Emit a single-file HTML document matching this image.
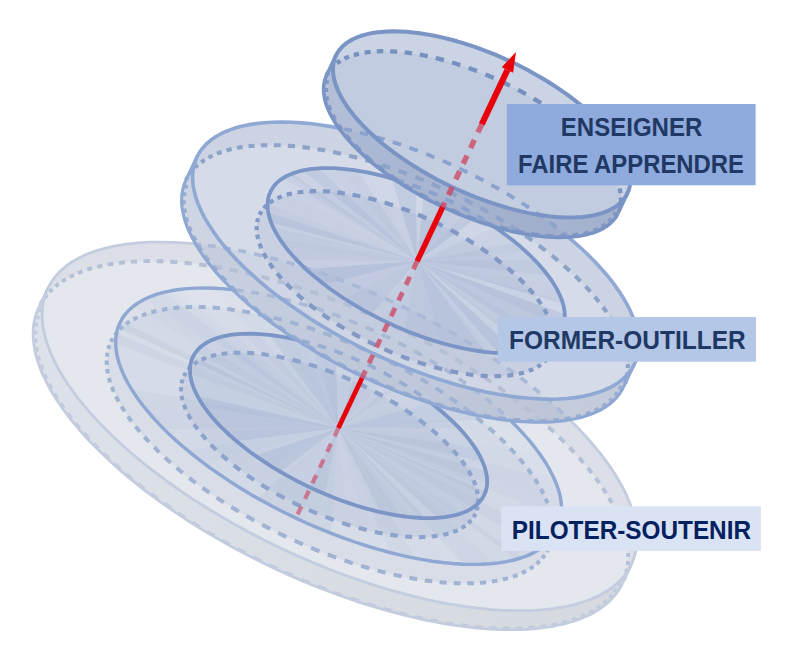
<!DOCTYPE html>
<html><head><meta charset="utf-8"><title>diagram</title>
<style>html,body{margin:0;padding:0;background:#fff;}body{width:799px;height:648px;overflow:hidden;font-family:"Liberation Sans",sans-serif;}svg{display:block}</style></head>
<body>
<svg width="799" height="648" viewBox="0 0 799 648">
<defs>
<path id="h1" d="M47.7 288.5 L49.3 285.3 L51.2 282.3 L53.2 279.3 L55.4 276.4 L57.8 273.7 L60.4 271.0 L63.1 268.5 L66.1 266.1 L69.3 263.7 L72.6 261.5 L76.1 259.4 L79.9 257.4 L83.7 255.6 L87.8 253.8 L92.0 252.2 L96.4 250.7 L101.0 249.3 L105.8 248.0 L110.6 246.8 L115.7 245.8 L120.9 244.9 L126.3 244.1 L131.8 243.5 L137.4 242.9 L143.2 242.5 L149.1 242.2 L155.2 242.1 L161.3 242.1 L167.6 242.2 L174.0 242.4 L180.6 242.7 L187.2 243.2 L193.9 243.8 L200.8 244.5 L207.7 245.4 L214.7 246.4 L221.9 247.5 L229.0 248.7 L236.3 250.0 L243.7 251.5 L251.1 253.1 L258.5 254.8 L266.0 256.6 L273.6 258.6 L281.2 260.6 L288.9 262.8 L296.6 265.1 L304.3 267.5 L312.0 270.0 L319.8 272.6 L327.6 275.3 L335.4 278.1 L343.2 281.0 L351.0 284.0 L358.7 287.1 L366.5 290.3 L374.2 293.6 L382.0 297.0 L389.7 300.5 L397.3 304.1 L404.9 307.7 L412.5 311.5 L420.0 315.3 L427.5 319.2 L434.9 323.1 L442.3 327.2 L449.5 331.3 L456.7 335.4 L463.9 339.7 L470.9 344.0 L477.8 348.3 L484.7 352.7 L491.4 357.1 L498.1 361.6 L504.6 366.2 L511.0 370.8 L517.3 375.4 L523.5 380.0 L529.6 384.7 L535.5 389.4 L541.3 394.2 L547.0 398.9 L552.5 403.7 L557.8 408.5 L563.1 413.3 L568.1 418.1 L573.0 423.0 L577.8 427.8 L582.4 432.6 L586.8 437.4 L591.0 442.3 L595.1 447.1 L599.0 451.8 L602.7 456.6 L606.3 461.4 L609.6 466.1 L612.8 470.8 L615.8 475.5 L618.6 480.1 L621.2 484.7 L623.6 489.2 L625.8 493.8 L627.9 498.2 L629.7 502.6 L631.3 507.0 L632.7 511.3 L634.0 515.6 L635.0 519.8 L635.8 523.9 L636.4 528.0 L636.8 532.0 L637.1 535.9 L637.1 539.7 L636.9 543.5 L636.5 547.2 L635.9 550.8 L635.1 554.3 L634.1 557.7 L632.8 561.1 L631.4 564.3 L622.5 583.3 L620.9 586.5 L619.1 589.5 L617.0 592.5 L614.8 595.3 L612.4 598.1 L609.8 600.7 L607.1 603.3 L604.1 605.7 L600.9 608.1 L597.6 610.3 L594.1 612.4 L590.3 614.4 L586.5 616.2 L582.4 618.0 L578.2 619.6 L573.8 621.1 L569.2 622.5 L564.5 623.8 L559.6 625.0 L554.5 626.0 L549.3 626.9 L543.9 627.7 L538.4 628.3 L532.8 628.9 L527.0 629.3 L521.1 629.6 L515.1 629.7 L508.9 629.7 L502.6 629.6 L496.2 629.4 L489.6 629.1 L483.0 628.6 L476.3 628.0 L469.4 627.2 L462.5 626.4 L455.5 625.4 L448.3 624.3 L441.2 623.1 L433.9 621.7 L426.5 620.3 L419.1 618.7 L411.7 617.0 L404.2 615.2 L396.6 613.2 L389.0 611.2 L381.3 609.0 L373.6 606.7 L365.9 604.3 L358.2 601.8 L350.4 599.2 L342.6 596.5 L334.8 593.7 L327.0 590.8 L319.3 587.8 L311.5 584.7 L303.7 581.5 L296.0 578.1 L288.2 574.8 L280.5 571.3 L272.9 567.7 L265.3 564.1 L257.7 560.3 L250.2 556.5 L242.7 552.6 L235.3 548.7 L227.9 544.6 L220.7 540.5 L213.5 536.4 L206.4 532.1 L199.3 527.8 L192.4 523.5 L185.5 519.1 L178.8 514.6 L172.1 510.2 L165.6 505.6 L159.2 501.0 L152.9 496.4 L146.7 491.8 L140.6 487.1 L134.7 482.4 L128.9 477.6 L123.2 472.9 L117.7 468.1 L112.4 463.3 L107.2 458.5 L102.1 453.6 L97.2 448.8 L92.4 444.0 L87.8 439.2 L83.4 434.4 L79.2 429.5 L75.1 424.7 L71.2 420.0 L67.5 415.2 L63.9 410.4 L60.6 405.7 L57.4 401.0 L54.4 396.3 L51.6 391.7 L49.0 387.1 L46.6 382.5 L44.4 378.0 L42.3 373.6 L40.5 369.1 L38.9 364.8 L37.5 360.5 L36.2 356.2 L35.2 352.0 L34.4 347.9 L33.8 343.8 L33.4 339.8 L33.1 335.9 L33.1 332.1 L33.3 328.3 L33.7 324.6 L34.3 321.0 L35.1 317.5 L36.1 314.1 L37.4 310.7 L38.8 307.5Z"/>
<path id="h2" d="M196.8 157.2 L198.0 154.8 L199.4 152.5 L200.9 150.3 L202.6 148.1 L204.4 146.0 L206.3 144.0 L208.4 142.1 L210.6 140.3 L213.0 138.5 L215.5 136.9 L218.2 135.3 L221.0 133.8 L223.9 132.3 L226.9 131.0 L230.1 129.8 L233.4 128.6 L236.9 127.6 L240.4 126.6 L244.1 125.7 L247.9 124.9 L251.8 124.2 L255.8 123.6 L260.0 123.1 L264.2 122.7 L268.5 122.4 L273.0 122.2 L277.5 122.1 L282.1 122.0 L286.9 122.1 L291.7 122.3 L296.6 122.5 L301.6 122.9 L306.6 123.3 L311.8 123.8 L317.0 124.5 L322.2 125.2 L327.6 126.0 L333.0 126.9 L338.4 127.9 L343.9 129.0 L349.5 130.2 L355.1 131.5 L360.7 132.8 L366.4 134.3 L372.1 135.8 L377.8 137.4 L383.6 139.1 L389.4 140.9 L395.2 142.8 L401.0 144.7 L406.9 146.8 L412.7 148.9 L418.5 151.1 L424.4 153.3 L430.2 155.6 L436.0 158.1 L441.8 160.5 L447.6 163.1 L453.4 165.7 L459.1 168.4 L464.9 171.1 L470.5 173.9 L476.2 176.8 L481.8 179.7 L487.3 182.6 L492.8 185.7 L498.3 188.7 L503.7 191.9 L509.0 195.0 L514.3 198.3 L519.5 201.5 L524.6 204.8 L529.7 208.2 L534.7 211.5 L539.6 214.9 L544.4 218.4 L549.1 221.9 L553.7 225.4 L558.3 228.9 L562.7 232.4 L567.1 236.0 L571.3 239.6 L575.4 243.1 L579.4 246.7 L583.3 250.4 L587.1 254.0 L590.8 257.6 L594.4 261.2 L597.8 264.9 L601.1 268.5 L604.3 272.1 L607.3 275.7 L610.3 279.3 L613.0 282.9 L615.7 286.5 L618.2 290.0 L620.6 293.6 L622.8 297.1 L624.9 300.6 L626.9 304.0 L628.7 307.5 L630.3 310.9 L631.8 314.2 L633.2 317.5 L634.4 320.8 L635.5 324.1 L636.4 327.3 L637.2 330.4 L637.8 333.5 L638.2 336.6 L638.5 339.6 L638.7 342.6 L638.7 345.5 L638.5 348.3 L638.2 351.1 L637.8 353.8 L637.1 356.4 L636.4 359.0 L635.5 361.5 L634.4 364.0 L623.5 387.1 L622.3 389.4 L620.9 391.7 L619.4 394.0 L617.8 396.1 L616.0 398.2 L614.0 400.2 L611.9 402.1 L609.7 404.0 L607.3 405.7 L604.8 407.4 L602.1 409.0 L599.4 410.5 L596.4 411.9 L593.4 413.2 L590.2 414.5 L586.9 415.6 L583.5 416.7 L579.9 417.7 L576.2 418.5 L572.4 419.3 L568.5 420.0 L564.5 420.6 L560.4 421.1 L556.1 421.5 L551.8 421.8 L547.4 422.1 L542.8 422.2 L538.2 422.2 L533.5 422.2 L528.7 422.0 L523.8 421.7 L518.8 421.4 L513.7 421.0 L508.6 420.4 L503.4 419.8 L498.1 419.1 L492.8 418.2 L487.4 417.3 L481.9 416.3 L476.4 415.2 L470.9 414.1 L465.3 412.8 L459.6 411.4 L453.9 410.0 L448.2 408.5 L442.5 406.8 L436.7 405.1 L430.9 403.3 L425.1 401.5 L419.3 399.5 L413.5 397.5 L407.6 395.4 L401.8 393.2 L395.9 390.9 L390.1 388.6 L384.3 386.2 L378.5 383.7 L372.7 381.2 L366.9 378.6 L361.2 375.9 L355.5 373.2 L349.8 370.4 L344.2 367.5 L338.6 364.6 L333.0 361.6 L327.5 358.6 L322.0 355.5 L316.6 352.4 L311.3 349.2 L306.0 346.0 L300.8 342.7 L295.7 339.4 L290.6 336.1 L285.7 332.7 L280.8 329.3 L276.0 325.9 L271.2 322.4 L266.6 318.9 L262.1 315.4 L257.6 311.8 L253.3 308.3 L249.0 304.7 L244.9 301.1 L240.9 297.5 L237.0 293.9 L233.2 290.3 L229.5 286.7 L226.0 283.0 L222.5 279.4 L219.2 275.8 L216.0 272.2 L213.0 268.5 L210.1 264.9 L207.3 261.4 L204.6 257.8 L202.1 254.2 L199.7 250.7 L197.5 247.2 L195.4 243.7 L193.5 240.2 L191.7 236.8 L190.0 233.4 L188.5 230.0 L187.1 226.7 L185.9 223.4 L184.9 220.2 L183.9 217.0 L183.2 213.8 L182.6 210.7 L182.1 207.7 L181.8 204.7 L181.7 201.7 L181.7 198.8 L181.8 196.0 L182.1 193.2 L182.6 190.5 L183.2 187.8 L183.9 185.2 L184.9 182.7 L185.9 180.3Z"/>
<path id="h3" d="M335.9 55.5 L336.8 53.9 L337.7 52.3 L338.7 50.8 L339.8 49.4 L341.0 47.9 L342.4 46.6 L343.8 45.3 L345.3 44.0 L346.9 42.8 L348.5 41.7 L350.3 40.6 L352.2 39.5 L354.2 38.6 L356.2 37.7 L358.3 36.8 L360.6 36.0 L362.9 35.3 L365.2 34.6 L367.7 34.0 L370.2 33.4 L372.9 33.0 L375.5 32.5 L378.3 32.2 L381.1 31.9 L384.0 31.6 L387.0 31.5 L390.0 31.4 L393.1 31.3 L396.3 31.3 L399.5 31.4 L402.8 31.6 L406.1 31.8 L409.5 32.1 L412.9 32.4 L416.4 32.8 L419.9 33.3 L423.5 33.8 L427.1 34.4 L430.7 35.0 L434.4 35.7 L438.1 36.5 L441.8 37.3 L445.6 38.2 L449.4 39.2 L453.2 40.2 L457.0 41.3 L460.9 42.4 L464.7 43.6 L468.6 44.8 L472.5 46.1 L476.4 47.4 L480.3 48.8 L484.2 50.3 L488.1 51.8 L492.0 53.3 L495.8 54.9 L499.7 56.6 L503.6 58.3 L507.4 60.0 L511.2 61.8 L515.0 63.6 L518.8 65.5 L522.6 67.4 L526.3 69.3 L530.0 71.3 L533.7 73.3 L537.3 75.4 L540.9 77.5 L544.4 79.6 L547.9 81.7 L551.4 83.9 L554.8 86.1 L558.2 88.4 L561.5 90.6 L564.8 92.9 L568.0 95.2 L571.1 97.5 L574.2 99.9 L577.2 102.2 L580.1 104.6 L583.0 107.0 L585.8 109.4 L588.6 111.8 L591.3 114.2 L593.8 116.7 L596.4 119.1 L598.8 121.5 L601.2 124.0 L603.4 126.4 L605.6 128.8 L607.7 131.3 L609.8 133.7 L611.7 136.1 L613.5 138.5 L615.3 140.9 L617.0 143.3 L618.5 145.7 L620.0 148.1 L621.4 150.4 L622.7 152.7 L623.9 155.1 L625.0 157.3 L625.9 159.6 L626.8 161.9 L627.6 164.1 L628.3 166.3 L628.9 168.4 L629.4 170.6 L629.8 172.7 L630.1 174.7 L630.3 176.8 L630.4 178.8 L630.4 180.7 L630.3 182.6 L630.0 184.5 L629.7 186.4 L629.3 188.1 L628.8 189.9 L628.1 191.6 L627.4 193.3 L618.0 213.2 L617.2 214.8 L616.3 216.4 L615.3 217.9 L614.1 219.3 L612.9 220.8 L611.6 222.1 L610.2 223.4 L608.7 224.7 L607.1 225.9 L605.4 227.0 L603.6 228.1 L601.8 229.1 L599.8 230.1 L597.8 231.0 L595.6 231.9 L593.4 232.7 L591.1 233.4 L588.7 234.1 L586.3 234.7 L583.7 235.2 L581.1 235.7 L578.4 236.2 L575.7 236.5 L572.8 236.8 L569.9 237.1 L567.0 237.2 L563.9 237.3 L560.8 237.4 L557.7 237.4 L554.4 237.3 L551.2 237.1 L547.8 236.9 L544.5 236.6 L541.0 236.3 L537.6 235.9 L534.0 235.4 L530.5 234.9 L526.9 234.3 L523.2 233.7 L519.6 233.0 L515.9 232.2 L512.1 231.4 L508.4 230.5 L504.6 229.5 L500.8 228.5 L496.9 227.4 L493.1 226.3 L489.2 225.1 L485.3 223.9 L481.5 222.6 L477.6 221.3 L473.7 219.9 L469.8 218.4 L465.9 216.9 L462.0 215.4 L458.1 213.8 L454.3 212.1 L450.4 210.4 L446.6 208.7 L442.7 206.9 L438.9 205.1 L435.1 203.2 L431.4 201.3 L427.7 199.4 L424.0 197.4 L420.3 195.4 L416.7 193.3 L413.1 191.2 L409.5 189.1 L406.0 186.9 L402.6 184.8 L399.1 182.6 L395.8 180.3 L392.5 178.1 L389.2 175.8 L386.0 173.5 L382.9 171.2 L379.8 168.8 L376.8 166.5 L373.8 164.1 L370.9 161.7 L368.1 159.3 L365.4 156.9 L362.7 154.5 L360.1 152.0 L357.6 149.6 L355.2 147.2 L352.8 144.7 L350.5 142.3 L348.3 139.9 L346.2 137.4 L344.2 135.0 L342.3 132.6 L340.4 130.2 L338.7 127.8 L337.0 125.4 L335.4 123.0 L334.0 120.6 L332.6 118.3 L331.3 116.0 L330.1 113.6 L329.0 111.4 L328.0 109.1 L327.1 106.8 L326.3 104.6 L325.6 102.4 L325.0 100.3 L324.5 98.1 L324.2 96.0 L323.9 94.0 L323.7 91.9 L323.6 89.9 L323.6 88.0 L323.7 86.1 L323.9 84.2 L324.3 82.3 L324.7 80.5 L325.2 78.8 L325.8 77.1 L326.5 75.4Z"/>
<clipPath id="in3"><use href="#h3"/></clipPath>
<clipPath id="in23"><use href="#h2"/><use href="#h3"/></clipPath>
<mask id="out3" maskUnits="userSpaceOnUse" x="0" y="0" width="799" height="648"><rect width="799" height="648" fill="#fff"/><use href="#h3" fill="#000"/></mask>
<mask id="out23" maskUnits="userSpaceOnUse" x="0" y="0" width="799" height="648"><rect width="799" height="648" fill="#fff"/><use href="#h2" fill="#000"/><use href="#h3" fill="#000"/></mask>
<clipPath id="c_t1o"><path d="M631.4 564.4 L628.0 570.6 L623.8 576.4 L618.8 581.8 L613.0 586.8 L606.5 591.3 L599.3 595.4 L591.3 599.0 L582.7 602.2 L573.4 604.8 L563.4 607.0 L552.9 608.7 L541.7 609.9 L530.0 610.6 L517.8 610.7 L505.1 610.4 L491.9 609.6 L478.3 608.2 L464.4 606.4 L450.1 604.1 L435.4 601.3 L420.6 598.0 L405.5 594.2 L390.2 590.0 L374.8 585.3 L359.3 580.2 L343.7 574.7 L328.1 568.8 L312.6 562.4 L297.1 555.7 L281.8 548.7 L266.6 541.3 L251.6 533.6 L236.8 525.6 L222.4 517.3 L208.2 508.8 L194.4 500.1 L181.0 491.1 L168.1 482.0 L155.6 472.7 L143.6 463.3 L132.2 453.8 L121.3 444.2 L111.0 434.6 L101.4 425.0 L92.4 415.3 L84.0 405.7 L76.4 396.1 L69.5 386.7 L63.3 377.3 L57.9 368.1 L53.3 359.0 L49.5 350.1 L46.4 341.4 L44.2 333.0 L42.7 324.8 L42.1 316.9 L42.3 309.3 L43.3 302.0 L45.1 295.0 L47.7 288.4 L51.2 282.2 L55.4 276.4 L60.4 271.0 L66.1 266.0 L72.7 261.5 L79.9 257.4 L87.8 253.8 L96.5 250.6 L105.8 248.0 L115.7 245.8 L126.3 244.1 L137.5 242.9 L149.2 242.2 L161.4 242.1 L174.1 242.4 L187.3 243.2 L200.8 244.6 L214.8 246.4 L229.1 248.7 L243.7 251.5 L258.6 254.8 L273.7 258.6 L289.0 262.8 L304.4 267.5 L319.9 272.6 L335.4 278.1 L351.0 284.0 L366.6 290.4 L382.0 297.1 L397.4 304.1 L412.6 311.5 L427.6 319.2 L442.3 327.2 L456.8 335.5 L470.9 344.0 L484.7 352.7 L498.1 361.7 L511.1 370.8 L523.6 380.1 L535.6 389.5 L547.0 399.0 L557.9 408.6 L568.2 418.2 L577.8 427.8 L586.8 437.5 L595.1 447.1 L602.8 456.7 L609.7 466.1 L615.8 475.5 L621.2 484.7 L625.9 493.8 L629.7 502.7 L632.8 511.4 L635.0 519.8 L636.4 528.0 L637.1 535.9 L636.9 543.5 L635.9 550.8 L634.0 557.8 L631.4 564.4Z"/></clipPath>
<clipPath id="c_t1m"><path d="M557.5 529.6 L554.9 534.3 L551.7 538.6 L548.0 542.7 L543.7 546.4 L538.8 549.8 L533.4 552.9 L527.4 555.6 L520.9 558.0 L514.0 560.0 L506.5 561.6 L498.6 562.9 L490.2 563.8 L481.4 564.3 L472.3 564.4 L462.8 564.2 L452.9 563.5 L442.7 562.5 L432.2 561.2 L421.5 559.4 L410.6 557.3 L399.4 554.8 L388.1 552.0 L376.6 548.8 L365.1 545.3 L353.5 541.5 L341.8 537.4 L330.1 532.9 L318.5 528.2 L306.9 523.2 L295.4 517.9 L284.0 512.3 L272.7 506.6 L261.7 500.6 L250.8 494.4 L240.2 488.0 L229.9 481.4 L219.8 474.7 L210.1 467.9 L200.7 460.9 L191.8 453.9 L183.2 446.8 L175.0 439.6 L167.3 432.4 L160.1 425.1 L153.3 417.9 L147.1 410.7 L141.4 403.5 L136.2 396.4 L131.6 389.4 L127.5 382.5 L124.1 375.7 L121.2 369.0 L118.9 362.5 L117.2 356.2 L116.1 350.0 L115.7 344.1 L115.8 338.4 L116.6 332.9 L117.9 327.7 L119.9 322.8 L122.5 318.1 L125.6 313.8 L129.4 309.7 L133.7 306.0 L138.6 302.6 L144.0 299.5 L150.0 296.8 L156.4 294.4 L163.4 292.4 L170.9 290.8 L178.8 289.5 L187.2 288.6 L195.9 288.1 L205.1 288.0 L214.6 288.2 L224.5 288.9 L234.7 289.9 L245.1 291.2 L255.9 293.0 L266.8 295.1 L278.0 297.6 L289.3 300.4 L300.7 303.6 L312.3 307.1 L323.9 310.9 L335.6 315.0 L347.3 319.5 L358.9 324.2 L370.5 329.2 L382.0 334.5 L393.4 340.1 L404.7 345.8 L415.7 351.8 L426.6 358.0 L437.2 364.4 L447.5 371.0 L457.5 377.7 L467.3 384.5 L476.6 391.5 L485.6 398.5 L494.2 405.6 L502.3 412.8 L510.0 420.0 L517.3 427.3 L524.0 434.5 L530.3 441.7 L536.0 448.9 L541.2 456.0 L545.8 463.0 L549.8 469.9 L553.3 476.7 L556.2 483.4 L558.5 489.9 L560.2 496.2 L561.2 502.4 L561.7 508.3 L561.6 514.0 L560.8 519.5 L559.4 524.7 L557.5 529.6Z"/></clipPath>
<clipPath id="c_t1i"><path d="M484.3 494.8 L482.6 497.9 L480.5 500.8 L478.0 503.5 L475.1 506.0 L471.9 508.3 L468.2 510.4 L464.3 512.2 L459.9 513.8 L455.3 515.1 L450.3 516.2 L445.0 517.1 L439.5 517.7 L433.6 518.0 L427.5 518.1 L421.1 518.0 L414.6 517.5 L407.8 516.9 L400.8 516.0 L393.7 514.8 L386.4 513.4 L378.9 511.8 L371.4 509.9 L363.8 507.8 L356.1 505.5 L348.3 502.9 L340.5 500.2 L332.8 497.2 L325.0 494.1 L317.3 490.7 L309.6 487.2 L302.0 483.5 L294.5 479.7 L287.2 475.7 L279.9 471.5 L272.9 467.3 L266.0 462.9 L259.3 458.4 L252.8 453.9 L246.6 449.2 L240.6 444.5 L234.9 439.8 L229.5 435.0 L224.4 430.2 L219.5 425.4 L215.0 420.5 L210.9 415.7 L207.1 410.9 L203.6 406.2 L200.6 401.5 L197.9 396.9 L195.6 392.3 L193.7 387.9 L192.1 383.6 L191.0 379.3 L190.3 375.2 L190.0 371.3 L190.1 367.4 L190.6 363.8 L191.5 360.3 L192.8 357.0 L194.6 353.9 L196.7 351.0 L199.2 348.3 L202.1 345.8 L205.3 343.5 L208.9 341.4 L212.9 339.6 L217.2 338.0 L221.9 336.7 L226.9 335.6 L232.1 334.7 L237.7 334.1 L243.6 333.8 L249.7 333.7 L256.0 333.8 L262.6 334.3 L269.4 334.9 L276.4 335.8 L283.5 337.0 L290.8 338.4 L298.2 340.0 L305.8 341.9 L313.4 344.0 L321.1 346.3 L328.9 348.9 L336.6 351.6 L344.4 354.6 L352.2 357.7 L359.9 361.1 L367.6 364.6 L375.1 368.3 L382.6 372.1 L390.0 376.1 L397.2 380.3 L404.3 384.5 L411.2 388.9 L417.9 393.4 L424.3 397.9 L430.6 402.6 L436.5 407.3 L442.3 412.0 L447.7 416.8 L452.8 421.6 L457.6 426.4 L462.1 431.3 L466.3 436.1 L470.1 440.9 L473.5 445.6 L476.6 450.3 L479.3 454.9 L481.6 459.5 L483.5 463.9 L485.0 468.2 L486.1 472.5 L486.9 476.6 L487.2 480.5 L487.1 484.4 L486.6 488.0 L485.6 491.5 L484.3 494.8Z"/></clipPath>
<clipPath id="c_t2o"><path d="M634.4 364.0 L631.8 368.7 L628.6 373.1 L624.9 377.2 L620.6 380.9 L615.7 384.4 L610.2 387.5 L604.2 390.2 L597.8 392.6 L590.8 394.6 L583.3 396.3 L575.4 397.6 L567.0 398.5 L558.2 399.0 L549.0 399.2 L539.5 398.9 L529.6 398.3 L519.4 397.4 L508.9 396.0 L498.2 394.3 L487.3 392.2 L476.1 389.7 L464.8 386.9 L453.3 383.8 L441.8 380.3 L430.1 376.4 L418.5 372.3 L406.8 367.9 L395.1 363.1 L383.5 358.1 L372.0 352.8 L360.6 347.3 L349.4 341.5 L338.3 335.5 L327.5 329.3 L316.9 322.9 L306.5 316.3 L296.5 309.6 L286.8 302.8 L277.4 295.8 L268.5 288.8 L259.9 281.6 L251.7 274.4 L244.0 267.2 L236.8 259.9 L230.1 252.7 L223.8 245.5 L218.1 238.3 L213.0 231.1 L208.4 224.1 L204.3 217.1 L200.9 210.3 L198.0 203.6 L195.7 197.1 L194.1 190.7 L193.0 184.6 L192.5 178.6 L192.7 172.9 L193.5 167.4 L194.8 162.1 L196.8 157.2 L199.4 152.5 L202.6 148.1 L206.3 144.0 L210.7 140.3 L215.6 136.8 L221.0 133.7 L227.0 131.0 L233.5 128.6 L240.5 126.6 L247.9 124.9 L255.9 123.6 L264.2 122.7 L273.0 122.2 L282.2 122.0 L291.7 122.3 L301.6 122.9 L311.8 123.8 L322.3 125.2 L333.0 126.9 L344.0 129.0 L355.1 131.5 L366.4 134.3 L377.9 137.4 L389.5 140.9 L401.1 144.8 L412.8 148.9 L424.4 153.3 L436.1 158.1 L447.7 163.1 L459.2 168.4 L470.6 173.9 L481.8 179.7 L492.9 185.7 L503.7 191.9 L514.3 198.3 L524.7 204.9 L534.7 211.6 L544.4 218.4 L553.8 225.4 L562.8 232.4 L571.3 239.6 L579.5 246.8 L587.2 254.0 L594.4 261.3 L601.1 268.5 L607.4 275.7 L613.1 282.9 L618.2 290.1 L622.8 297.1 L626.9 304.1 L630.3 310.9 L633.2 317.6 L635.5 324.1 L637.2 330.5 L638.2 336.6 L638.7 342.6 L638.5 348.3 L637.8 353.8 L636.4 359.1 L634.4 364.0Z"/></clipPath>
<clipPath id="c_t2i"><path d="M561.9 329.5 L560.2 332.6 L558.1 335.6 L555.6 338.3 L552.7 340.8 L549.4 343.1 L545.8 345.2 L541.8 347.0 L537.5 348.6 L532.8 350.0 L527.8 351.1 L522.5 352.0 L517.0 352.6 L511.1 353.0 L505.0 353.1 L498.6 353.0 L492.0 352.6 L485.2 351.9 L478.3 351.0 L471.1 349.9 L463.8 348.5 L456.4 346.9 L448.8 345.0 L441.2 342.9 L433.5 340.6 L425.7 338.1 L418.0 335.3 L410.2 332.4 L402.4 329.2 L394.7 325.9 L387.0 322.3 L379.4 318.6 L372.0 314.8 L364.6 310.8 L357.4 306.7 L350.3 302.4 L343.4 298.0 L336.7 293.5 L330.3 289.0 L324.0 284.3 L318.1 279.6 L312.4 274.9 L306.9 270.1 L301.8 265.2 L297.0 260.4 L292.5 255.5 L288.4 250.7 L284.6 245.9 L281.2 241.2 L278.1 236.4 L275.4 231.8 L273.1 227.2 L271.2 222.8 L269.7 218.4 L268.6 214.2 L267.9 210.0 L267.6 206.1 L267.7 202.2 L268.2 198.5 L269.1 195.0 L270.5 191.7 L272.2 188.6 L274.3 185.6 L276.8 182.9 L279.7 180.4 L283.0 178.1 L286.6 176.0 L290.6 174.2 L294.9 172.6 L299.6 171.2 L304.6 170.1 L309.9 169.2 L315.5 168.6 L321.3 168.2 L327.4 168.1 L333.8 168.2 L340.4 168.6 L347.2 169.3 L354.2 170.2 L361.3 171.3 L368.6 172.7 L376.0 174.3 L383.6 176.2 L391.2 178.3 L398.9 180.6 L406.7 183.1 L414.5 185.9 L422.2 188.8 L430.0 192.0 L437.7 195.3 L445.4 198.9 L453.0 202.6 L460.5 206.4 L467.8 210.4 L475.1 214.5 L482.1 218.8 L489.0 223.2 L495.7 227.7 L502.1 232.2 L508.4 236.9 L514.4 241.6 L520.1 246.3 L525.5 251.1 L530.6 256.0 L535.4 260.8 L539.9 265.7 L544.0 270.5 L547.8 275.3 L551.3 280.0 L554.3 284.8 L557.0 289.4 L559.3 294.0 L561.2 298.4 L562.7 302.8 L563.8 307.0 L564.5 311.2 L564.8 315.1 L564.7 319.0 L564.2 322.7 L563.3 326.2 L561.9 329.5Z"/></clipPath>
<clipPath id="c_t3"><path d="M627.4 193.3 L625.7 196.5 L623.5 199.5 L621.0 202.2 L618.1 204.8 L614.8 207.1 L611.1 209.3 L607.1 211.1 L602.8 212.8 L598.1 214.2 L593.1 215.4 L587.8 216.3 L582.2 216.9 L576.3 217.3 L570.2 217.5 L563.8 217.4 L557.2 217.0 L550.4 216.4 L543.4 215.5 L536.2 214.4 L528.9 213.1 L521.5 211.4 L513.9 209.6 L506.3 207.5 L498.6 205.2 L490.8 202.7 L483.0 199.9 L475.3 197.0 L467.5 193.9 L459.8 190.5 L452.1 187.0 L444.5 183.3 L437.0 179.5 L429.7 175.4 L422.4 171.3 L415.4 167.0 L408.5 162.6 L401.8 158.1 L395.4 153.6 L389.2 148.9 L383.2 144.2 L377.5 139.4 L372.1 134.5 L367.0 129.7 L362.2 124.8 L357.7 119.9 L353.6 115.1 L349.8 110.3 L346.4 105.5 L343.3 100.7 L340.7 96.0 L338.4 91.4 L336.5 86.9 L335.0 82.5 L333.9 78.2 L333.2 74.1 L333.0 70.0 L333.1 66.2 L333.6 62.4 L334.6 58.9 L335.9 55.5 L337.7 52.3 L339.8 49.3 L342.4 46.6 L345.3 44.0 L348.6 41.7 L352.2 39.5 L356.2 37.7 L360.6 36.0 L365.3 34.6 L370.3 33.4 L375.6 32.5 L381.2 31.9 L387.0 31.5 L393.2 31.3 L399.5 31.4 L406.1 31.8 L413.0 32.4 L420.0 33.3 L427.1 34.4 L434.4 35.7 L441.9 37.4 L449.4 39.2 L457.1 41.3 L464.8 43.6 L472.5 46.1 L480.3 48.9 L488.1 51.8 L495.9 54.9 L503.6 58.3 L511.3 61.8 L518.9 65.5 L526.3 69.3 L533.7 73.4 L540.9 77.5 L548.0 81.8 L554.9 86.2 L561.5 90.7 L568.0 95.2 L574.2 99.9 L580.2 104.6 L585.9 109.4 L591.3 114.3 L596.4 119.1 L601.2 124.0 L605.7 128.9 L609.8 133.7 L613.6 138.5 L617.0 143.3 L620.0 148.1 L622.7 152.8 L625.0 157.4 L626.9 161.9 L628.3 166.3 L629.4 170.6 L630.1 174.7 L630.4 178.8 L630.3 182.6 L629.7 186.4 L628.8 189.9 L627.4 193.3Z"/></clipPath>
<linearGradient id="g1" gradientUnits="userSpaceOnUse" x1="30" y1="0" x2="640" y2="0"><stop offset="0" stop-color="#dde1e9"/><stop offset="1" stop-color="#d5d8df"/></linearGradient>
<linearGradient id="g2" gradientUnits="userSpaceOnUse" x1="180" y1="0" x2="640" y2="0"><stop offset="0" stop-color="#c1cbdd"/><stop offset="1" stop-color="#b3bdd2"/></linearGradient>
<linearGradient id="g3" gradientUnits="userSpaceOnUse" x1="320" y1="0" x2="635" y2="0"><stop offset="0" stop-color="#a9b7d3"/><stop offset="1" stop-color="#96a5c5"/></linearGradient>
</defs>
<rect width="799" height="648" fill="#fff"/>
<path d="M631.4 564.3 L629.8 567.5 L628.0 570.5 L626.0 573.5 L623.8 576.4 L621.4 579.1 L618.8 581.8 L616.0 584.3 L613.1 586.7 L609.9 589.1 L606.5 591.3 L603.0 593.4 L599.3 595.4 L595.4 597.2 L591.4 599.0 L587.1 600.6 L582.7 602.1 L578.2 603.5 L573.4 604.8 L568.5 606.0 L563.5 607.0 L558.3 607.9 L552.9 608.7 L547.4 609.3 L541.8 609.9 L536.0 610.3 L530.1 610.6 L524.0 610.7 L517.8 610.7 L511.5 610.6 L505.1 610.4 L498.6 610.1 L492.0 609.6 L485.2 609.0 L478.4 608.3 L471.5 607.4 L464.4 606.4 L457.3 605.3 L450.1 604.1 L442.9 602.8 L435.5 601.3 L428.1 599.7 L420.6 598.0 L413.1 596.2 L405.6 594.2 L397.9 592.2 L390.3 590.0 L382.6 587.7 L374.9 585.3 L367.1 582.8 L359.4 580.2 L351.6 577.5 L343.8 574.7 L336.0 571.8 L328.2 568.8 L320.4 565.7 L312.7 562.5 L304.9 559.2 L297.2 555.8 L289.5 552.3 L281.9 548.7 L274.2 545.1 L266.7 541.3 L259.1 537.5 L251.7 533.6 L244.3 529.7 L236.9 525.6 L229.6 521.5 L222.4 517.4 L215.3 513.1 L208.3 508.8 L201.3 504.5 L194.5 500.1 L187.7 495.7 L181.1 491.2 L174.6 486.6 L168.1 482.0 L161.8 477.4 L155.6 472.8 L149.6 468.1 L143.7 463.4 L137.9 458.6 L132.2 453.9 L126.7 449.1 L121.3 444.3 L116.1 439.5 L111.1 434.7 L106.1 429.8 L101.4 425.0 L96.8 420.2 L92.4 415.4 L88.1 410.5 L84.1 405.7 L80.2 401.0 L76.4 396.2 L72.9 391.4 L69.5 386.7 L66.4 382.0 L63.4 377.3 L60.6 372.7 L58.0 368.1 L55.6 363.6 L53.3 359.0 L51.3 354.6 L49.5 350.2 L47.9 345.8 L46.4 341.5 L45.2 337.2 L44.2 333.0 L43.4 328.9 L42.7 324.8 L42.3 320.8 L42.1 316.9 L42.1 313.1 L42.3 309.3 L42.7 305.6 L43.3 302.0 L44.1 298.5 L45.1 295.1 L46.3 291.7 L47.7 288.5 L38.8 307.5 L37.4 310.7 L36.1 314.1 L35.1 317.5 L34.3 321.0 L33.7 324.6 L33.3 328.3 L33.1 332.1 L33.1 335.9 L33.4 339.8 L33.8 343.8 L34.4 347.9 L35.2 352.0 L36.2 356.2 L37.5 360.5 L38.9 364.8 L40.5 369.1 L42.3 373.6 L44.4 378.0 L46.6 382.5 L49.0 387.1 L51.6 391.7 L54.4 396.3 L57.4 401.0 L60.6 405.7 L63.9 410.4 L67.5 415.2 L71.2 420.0 L75.1 424.7 L79.2 429.5 L83.4 434.4 L87.8 439.2 L92.4 444.0 L97.2 448.8 L102.1 453.6 L107.2 458.5 L112.4 463.3 L117.7 468.1 L123.2 472.9 L128.9 477.6 L134.7 482.4 L140.6 487.1 L146.7 491.8 L152.9 496.4 L159.2 501.0 L165.6 505.6 L172.1 510.2 L178.8 514.6 L185.5 519.1 L192.4 523.5 L199.3 527.8 L206.4 532.1 L213.5 536.4 L220.7 540.5 L227.9 544.6 L235.3 548.7 L242.7 552.6 L250.2 556.5 L257.7 560.3 L265.3 564.1 L272.9 567.7 L280.5 571.3 L288.2 574.8 L296.0 578.1 L303.7 581.5 L311.5 584.7 L319.3 587.8 L327.0 590.8 L334.8 593.7 L342.6 596.5 L350.4 599.2 L358.2 601.8 L365.9 604.3 L373.6 606.7 L381.3 609.0 L389.0 611.2 L396.6 613.2 L404.2 615.2 L411.7 617.0 L419.1 618.7 L426.5 620.3 L433.9 621.7 L441.2 623.1 L448.3 624.3 L455.5 625.4 L462.5 626.4 L469.4 627.2 L476.3 628.0 L483.0 628.6 L489.6 629.1 L496.2 629.4 L502.6 629.6 L508.9 629.7 L515.1 629.7 L521.1 629.6 L527.0 629.3 L532.8 628.9 L538.4 628.3 L543.9 627.7 L549.3 626.9 L554.5 626.0 L559.6 625.0 L564.5 623.8 L569.2 622.5 L573.8 621.1 L578.2 619.6 L582.4 618.0 L586.5 616.2 L590.3 614.4 L594.1 612.4 L597.6 610.3 L600.9 608.1 L604.1 605.7 L607.1 603.3 L609.8 600.7 L612.4 598.1 L614.8 595.3 L617.0 592.5 L619.1 589.5 L620.9 586.5 L622.5 583.3Z" fill="url(#g1)" fill-opacity="1.00" />
<path d="M631.4 564.4 L628.0 570.6 L623.8 576.4 L618.8 581.8 L613.0 586.8 L606.5 591.3 L599.3 595.4 L591.3 599.0 L582.7 602.2 L573.4 604.8 L563.4 607.0 L552.9 608.7 L541.7 609.9 L530.0 610.6 L517.8 610.7 L505.1 610.4 L491.9 609.6 L478.3 608.2 L464.4 606.4 L450.1 604.1 L435.4 601.3 L420.6 598.0 L405.5 594.2 L390.2 590.0 L374.8 585.3 L359.3 580.2 L343.7 574.7 L328.1 568.8 L312.6 562.4 L297.1 555.7 L281.8 548.7 L266.6 541.3 L251.6 533.6 L236.8 525.6 L222.4 517.3 L208.2 508.8 L194.4 500.1 L181.0 491.1 L168.1 482.0 L155.6 472.7 L143.6 463.3 L132.2 453.8 L121.3 444.2 L111.0 434.6 L101.4 425.0 L92.4 415.3 L84.0 405.7 L76.4 396.1 L69.5 386.7 L63.3 377.3 L57.9 368.1 L53.3 359.0 L49.5 350.1 L46.4 341.4 L44.2 333.0 L42.7 324.8 L42.1 316.9 L42.3 309.3 L43.3 302.0 L45.1 295.0 L47.7 288.4 L51.2 282.2 L55.4 276.4 L60.4 271.0 L66.1 266.0 L72.7 261.5 L79.9 257.4 L87.8 253.8 L96.5 250.6 L105.8 248.0 L115.7 245.8 L126.3 244.1 L137.5 242.9 L149.2 242.2 L161.4 242.1 L174.1 242.4 L187.3 243.2 L200.8 244.6 L214.8 246.4 L229.1 248.7 L243.7 251.5 L258.6 254.8 L273.7 258.6 L289.0 262.8 L304.4 267.5 L319.9 272.6 L335.4 278.1 L351.0 284.0 L366.6 290.4 L382.0 297.1 L397.4 304.1 L412.6 311.5 L427.6 319.2 L442.3 327.2 L456.8 335.5 L470.9 344.0 L484.7 352.7 L498.1 361.7 L511.1 370.8 L523.6 380.1 L535.6 389.5 L547.0 399.0 L557.9 408.6 L568.2 418.2 L577.8 427.8 L586.8 437.5 L595.1 447.1 L602.8 456.7 L609.7 466.1 L615.8 475.5 L621.2 484.7 L625.9 493.8 L629.7 502.7 L632.8 511.4 L635.0 519.8 L636.4 528.0 L637.1 535.9 L636.9 543.5 L635.9 550.8 L634.0 557.8 L631.4 564.4Z" fill="#e4e7ee" fill-opacity="1.00" />
<path d="M47.7 288.5 L49.3 285.3 L51.2 282.3 L53.2 279.3 L55.4 276.4 L57.8 273.7 L60.4 271.0 L63.1 268.5 L66.1 266.1 L69.3 263.7 L72.6 261.5 L76.1 259.4 L79.9 257.4 L83.7 255.6 L87.8 253.8 L92.0 252.2 L96.4 250.7 L101.0 249.3 L105.8 248.0 L110.6 246.8 L115.7 245.8 L120.9 244.9 L126.3 244.1 L131.8 243.5 L137.4 242.9 L143.2 242.5 L149.1 242.2 L155.2 242.1 L161.3 242.1 L167.6 242.2 L174.0 242.4 L180.6 242.7 L187.2 243.2 L193.9 243.8 L200.8 244.5 L207.7 245.4 L214.7 246.4 L221.9 247.5 L229.0 248.7 L236.3 250.0 L243.7 251.5 L251.1 253.1 L258.5 254.8 L266.0 256.6 L273.6 258.6 L281.2 260.6 L288.9 262.8 L296.6 265.1 L304.3 267.5 L312.0 270.0 L319.8 272.6 L327.6 275.3 L335.4 278.1 L343.2 281.0 L351.0 284.0 L358.7 287.1 L366.5 290.3 L374.2 293.6 L382.0 297.0 L389.7 300.5 L397.3 304.1 L404.9 307.7 L412.5 311.5 L420.0 315.3 L427.5 319.2 L434.9 323.1 L442.3 327.2 L449.5 331.3 L456.7 335.4 L463.9 339.7 L470.9 344.0 L477.8 348.3 L484.7 352.7 L491.4 357.1 L498.1 361.6 L504.6 366.2 L511.0 370.8 L517.3 375.4 L523.5 380.0 L529.6 384.7 L535.5 389.4 L541.3 394.2 L547.0 398.9 L552.5 403.7 L557.8 408.5 L563.1 413.3 L568.1 418.1 L573.0 423.0 L577.8 427.8 L582.4 432.6 L586.8 437.4 L591.0 442.3 L595.1 447.1 L599.0 451.8 L602.7 456.6 L606.3 461.4 L609.6 466.1 L612.8 470.8 L615.8 475.5 L618.6 480.1 L621.2 484.7 L623.6 489.2 L625.8 493.8 L627.9 498.2 L629.7 502.6 L631.3 507.0 L632.7 511.3 L634.0 515.6 L635.0 519.8 L635.8 523.9 L636.4 528.0 L636.8 532.0 L637.1 535.9 L637.1 539.7 L636.9 543.5 L636.5 547.2 L635.9 550.8 L635.1 554.3 L634.1 557.7 L632.8 561.1 L631.4 564.3 L622.5 583.3 L623.9 580.1 L625.1 576.7 L626.1 573.3 L626.9 569.8 L627.5 566.2 L627.9 562.5 L628.1 558.7 L628.1 554.9 L627.9 550.9 L627.5 547.0 L626.9 542.9 L626.0 538.8 L625.0 534.6 L623.8 530.3 L622.3 526.0 L620.7 521.6 L618.9 517.2 L616.9 512.8 L614.7 508.2 L612.2 503.7 L609.6 499.1 L606.8 494.4 L603.8 489.8 L600.7 485.1 L597.3 480.4 L593.8 475.6 L590.0 470.8 L586.1 466.0 L582.1 461.2 L577.8 456.4 L573.4 451.6 L568.8 446.8 L564.1 442.0 L559.2 437.1 L554.1 432.3 L548.9 427.5 L543.5 422.7 L538.0 417.9 L532.3 413.2 L526.5 408.4 L520.6 403.7 L514.6 399.0 L508.4 394.4 L502.1 389.8 L495.6 385.2 L489.1 380.6 L482.5 376.1 L475.7 371.7 L468.9 367.3 L461.9 362.9 L454.9 358.7 L447.8 354.4 L440.6 350.3 L433.3 346.2 L426.0 342.1 L418.5 338.2 L411.1 334.3 L403.5 330.5 L396.0 326.7 L388.4 323.1 L380.7 319.5 L373.0 316.0 L365.3 312.6 L357.5 309.3 L349.8 306.1 L342.0 303.0 L334.2 300.0 L326.4 297.1 L318.6 294.3 L310.8 291.5 L303.1 288.9 L295.3 286.4 L287.6 284.1 L279.9 281.8 L272.3 279.6 L264.7 277.6 L257.1 275.6 L249.6 273.8 L242.1 272.1 L234.7 270.5 L227.4 269.0 L220.1 267.7 L212.9 266.5 L205.8 265.4 L198.8 264.4 L191.8 263.5 L185.0 262.8 L178.2 262.2 L171.6 261.7 L165.1 261.4 L158.7 261.2 L152.4 261.1 L146.2 261.1 L140.1 261.2 L134.2 261.5 L128.4 261.9 L122.8 262.4 L117.3 263.1 L111.9 263.9 L106.7 264.8 L101.7 265.8 L96.8 267.0 L92.1 268.2 L87.5 269.6 L83.1 271.2 L78.8 272.8 L74.8 274.6 L70.9 276.4 L67.2 278.4 L63.7 280.5 L60.3 282.7 L57.2 285.1 L54.2 287.5 L51.4 290.0 L48.8 292.7 L46.4 295.4 L44.2 298.3 L42.2 301.3 L40.4 304.3 L38.8 307.5Z" fill="#c9ced9" fill-opacity="0.30" />
<path d="M557.5 529.6 L556.3 532.0 L554.9 534.3 L553.4 536.5 L551.8 538.6 L550.0 540.7 L548.0 542.7 L545.9 544.6 L543.7 546.4 L541.3 548.1 L538.8 549.8 L536.2 551.4 L533.4 552.9 L530.5 554.3 L527.4 555.6 L524.3 556.8 L521.0 558.0 L517.5 559.0 L514.0 560.0 L510.3 560.8 L506.5 561.6 L502.6 562.3 L498.6 562.9 L494.5 563.4 L490.3 563.7 L485.9 564.1 L481.5 564.3 L477.0 564.4 L472.3 564.4 L467.6 564.3 L462.8 564.2 L457.9 563.9 L452.9 563.5 L447.9 563.1 L442.7 562.5 L437.5 561.9 L432.3 561.2 L426.9 560.3 L421.6 559.4 L416.1 558.4 L410.6 557.3 L405.1 556.1 L399.5 554.8 L393.8 553.5 L388.1 552.0 L382.4 550.5 L376.7 548.9 L370.9 547.2 L365.1 545.4 L359.3 543.5 L353.5 541.5 L347.7 539.5 L341.8 537.4 L336.0 535.2 L330.2 532.9 L324.3 530.6 L318.5 528.2 L312.7 525.7 L306.9 523.2 L301.1 520.6 L295.4 517.9 L289.7 515.2 L284.0 512.4 L278.4 509.5 L272.8 506.6 L267.2 503.6 L261.7 500.6 L256.3 497.5 L250.9 494.4 L245.5 491.2 L240.2 488.0 L235.0 484.8 L229.9 481.5 L224.9 478.1 L219.9 474.8 L215.0 471.3 L210.2 467.9 L205.4 464.4 L200.8 461.0 L196.2 457.4 L191.8 453.9 L187.5 450.4 L183.2 446.8 L179.1 443.2 L175.1 439.6 L171.2 436.0 L167.4 432.4 L163.7 428.8 L160.1 425.2 L156.7 421.5 L153.4 417.9 L150.2 414.3 L147.1 410.7 L144.2 407.1 L141.4 403.6 L138.8 400.0 L136.2 396.4 L133.9 392.9 L131.6 389.4 L129.5 385.9 L127.6 382.5 L125.7 379.1 L124.1 375.7 L122.6 372.4 L121.2 369.0 L120.0 365.8 L118.9 362.5 L118.0 359.3 L117.2 356.2 L116.6 353.1 L116.1 350.1 L115.8 347.1 L115.7 344.1 L115.7 341.2 L115.8 338.4 L116.1 335.7 L116.6 333.0 L117.2 330.3 L117.9 327.7 L118.8 325.2 L119.9 322.8 L110.9 341.8 L109.9 344.2 L109.0 346.7 L108.2 349.3 L107.6 351.9 L107.1 354.6 L106.8 357.4 L106.7 360.2 L106.7 363.1 L106.9 366.1 L107.2 369.0 L107.6 372.1 L108.3 375.2 L109.0 378.3 L109.9 381.5 L111.0 384.8 L112.2 388.0 L113.6 391.3 L115.1 394.7 L116.8 398.1 L118.6 401.5 L120.6 404.9 L122.6 408.4 L124.9 411.9 L127.3 415.4 L129.8 419.0 L132.4 422.5 L135.2 426.1 L138.2 429.7 L141.2 433.3 L144.4 436.9 L147.7 440.5 L151.2 444.1 L154.7 447.8 L158.4 451.4 L162.2 455.0 L166.1 458.6 L170.1 462.2 L174.3 465.8 L178.5 469.3 L182.8 472.9 L187.3 476.4 L191.8 480.0 L196.5 483.4 L201.2 486.9 L206.0 490.3 L210.9 493.7 L215.9 497.1 L220.9 500.4 L226.1 503.7 L231.3 507.0 L236.6 510.2 L241.9 513.4 L247.3 516.5 L252.7 519.6 L258.3 522.6 L263.8 525.6 L269.4 528.5 L275.0 531.4 L280.7 534.1 L286.4 536.9 L292.2 539.6 L298.0 542.2 L303.7 544.7 L309.5 547.2 L315.4 549.6 L321.2 551.9 L327.0 554.2 L332.9 556.4 L338.7 558.5 L344.5 560.5 L350.4 562.5 L356.2 564.4 L362.0 566.1 L367.7 567.9 L373.5 569.5 L379.2 571.0 L384.9 572.5 L390.5 573.8 L396.1 575.1 L401.6 576.3 L407.1 577.4 L412.6 578.4 L418.0 579.3 L423.3 580.2 L428.6 580.9 L433.8 581.5 L438.9 582.1 L444.0 582.5 L448.9 582.9 L453.8 583.1 L458.6 583.3 L463.4 583.4 L468.0 583.4 L472.5 583.3 L477.0 583.0 L481.3 582.7 L485.5 582.3 L489.6 581.8 L493.7 581.3 L497.6 580.6 L501.4 579.8 L505.0 578.9 L508.6 578.0 L512.0 576.9 L515.3 575.8 L518.5 574.6 L521.5 573.3 L524.4 571.9 L527.2 570.4 L529.9 568.8 L532.4 567.1 L534.7 565.4 L537.0 563.6 L539.1 561.7 L541.0 559.7 L542.8 557.6 L544.4 555.5 L546.0 553.2 L547.3 551.0 L548.5 548.6Z" fill="#b9c5dc" fill-opacity="0.28" />
<path d="M557.5 529.6 L554.9 534.3 L551.7 538.6 L548.0 542.7 L543.7 546.4 L538.8 549.8 L533.4 552.9 L527.4 555.6 L520.9 558.0 L514.0 560.0 L506.5 561.6 L498.6 562.9 L490.2 563.8 L481.4 564.3 L472.3 564.4 L462.8 564.2 L452.9 563.5 L442.7 562.5 L432.2 561.2 L421.5 559.4 L410.6 557.3 L399.4 554.8 L388.1 552.0 L376.6 548.8 L365.1 545.3 L353.5 541.5 L341.8 537.4 L330.1 532.9 L318.5 528.2 L306.9 523.2 L295.4 517.9 L284.0 512.3 L272.7 506.6 L261.7 500.6 L250.8 494.4 L240.2 488.0 L229.9 481.4 L219.8 474.7 L210.1 467.9 L200.7 460.9 L191.8 453.9 L183.2 446.8 L175.0 439.6 L167.3 432.4 L160.1 425.1 L153.3 417.9 L147.1 410.7 L141.4 403.5 L136.2 396.4 L131.6 389.4 L127.5 382.5 L124.1 375.7 L121.2 369.0 L118.9 362.5 L117.2 356.2 L116.1 350.0 L115.7 344.1 L115.8 338.4 L116.6 332.9 L117.9 327.7 L119.9 322.8 L122.5 318.1 L125.6 313.8 L129.4 309.7 L133.7 306.0 L138.6 302.6 L144.0 299.5 L150.0 296.8 L156.4 294.4 L163.4 292.4 L170.9 290.8 L178.8 289.5 L187.2 288.6 L195.9 288.1 L205.1 288.0 L214.6 288.2 L224.5 288.9 L234.7 289.9 L245.1 291.2 L255.9 293.0 L266.8 295.1 L278.0 297.6 L289.3 300.4 L300.7 303.6 L312.3 307.1 L323.9 310.9 L335.6 315.0 L347.3 319.5 L358.9 324.2 L370.5 329.2 L382.0 334.5 L393.4 340.1 L404.7 345.8 L415.7 351.8 L426.6 358.0 L437.2 364.4 L447.5 371.0 L457.5 377.7 L467.3 384.5 L476.6 391.5 L485.6 398.5 L494.2 405.6 L502.3 412.8 L510.0 420.0 L517.3 427.3 L524.0 434.5 L530.3 441.7 L536.0 448.9 L541.2 456.0 L545.8 463.0 L549.8 469.9 L553.3 476.7 L556.2 483.4 L558.5 489.9 L560.2 496.2 L561.2 502.4 L561.7 508.3 L561.6 514.0 L560.8 519.5 L559.4 524.7 L557.5 529.6Z" fill="#b9c5dc" fill-opacity="0.44" />
<path d="M119.9 322.8 L121.1 320.4 L122.5 318.1 L124.0 315.9 L125.6 313.8 L127.4 311.7 L129.4 309.7 L131.4 307.8 L133.7 306.0 L136.0 304.3 L138.5 302.6 L141.2 301.0 L144.0 299.5 L146.9 298.1 L149.9 296.8 L153.1 295.6 L156.4 294.4 L159.8 293.4 L163.4 292.4 L167.1 291.6 L170.8 290.8 L174.7 290.1 L178.8 289.5 L182.9 289.0 L187.1 288.7 L191.4 288.3 L195.9 288.1 L200.4 288.0 L205.0 288.0 L209.8 288.1 L214.6 288.2 L219.5 288.5 L224.4 288.9 L229.5 289.3 L234.6 289.9 L239.8 290.5 L245.1 291.2 L250.4 292.1 L255.8 293.0 L261.3 294.0 L266.8 295.1 L272.3 296.3 L277.9 297.6 L283.6 298.9 L289.2 300.4 L294.9 301.9 L300.7 303.5 L306.4 305.2 L312.2 307.0 L318.0 308.9 L323.9 310.9 L329.7 312.9 L335.5 315.0 L341.4 317.2 L347.2 319.5 L353.0 321.8 L358.9 324.2 L364.7 326.7 L370.5 329.2 L376.2 331.8 L382.0 334.5 L387.7 337.2 L393.4 340.0 L399.0 342.9 L404.6 345.8 L410.2 348.8 L415.7 351.8 L421.1 354.9 L426.5 358.0 L431.8 361.2 L437.1 364.4 L442.3 367.6 L447.5 370.9 L452.5 374.3 L457.5 377.6 L462.4 381.1 L467.2 384.5 L471.9 388.0 L476.6 391.4 L481.1 395.0 L485.6 398.5 L489.9 402.0 L494.1 405.6 L498.3 409.2 L502.3 412.8 L506.2 416.4 L510.0 420.0 L513.7 423.6 L517.3 427.2 L520.7 430.9 L524.0 434.5 L527.2 438.1 L530.2 441.7 L533.2 445.3 L536.0 448.8 L538.6 452.4 L541.1 456.0 L543.5 459.5 L545.8 463.0 L547.9 466.5 L549.8 469.9 L551.6 473.3 L553.3 476.7 L554.8 480.0 L556.2 483.4 L557.4 486.6 L558.5 489.9 L559.4 493.1 L560.1 496.2 L560.8 499.3 L561.2 502.3 L561.5 505.3 L561.7 508.3 L561.7 511.2 L561.6 514.0 L561.3 516.7 L560.8 519.4 L560.2 522.1 L559.4 524.7 L558.5 527.2 L557.5 529.6 L548.5 548.6 L549.6 546.2 L550.5 543.6 L551.2 541.1 L551.8 538.4 L552.3 535.7 L552.6 533.0 L552.7 530.1 L552.7 527.3 L552.6 524.3 L552.3 521.3 L551.8 518.3 L551.2 515.2 L550.4 512.0 L549.5 508.9 L548.4 505.6 L547.2 502.4 L545.8 499.0 L544.3 495.7 L542.7 492.3 L540.8 488.9 L538.9 485.4 L536.8 482.0 L534.6 478.5 L532.2 474.9 L529.7 471.4 L527.0 467.8 L524.2 464.3 L521.3 460.7 L518.2 457.1 L515.0 453.5 L511.7 449.9 L508.3 446.2 L504.7 442.6 L501.1 439.0 L497.3 435.4 L493.3 431.8 L489.3 428.2 L485.2 424.6 L480.9 421.0 L476.6 417.5 L472.2 413.9 L467.6 410.4 L463.0 406.9 L458.3 403.5 L453.4 400.0 L448.5 396.6 L443.6 393.3 L438.5 389.9 L433.4 386.6 L428.2 383.4 L422.9 380.2 L417.5 377.0 L412.2 373.9 L406.7 370.8 L401.2 367.8 L395.6 364.8 L390.0 361.9 L384.4 359.0 L378.7 356.2 L373.0 353.5 L367.3 350.8 L361.5 348.2 L355.7 345.7 L349.9 343.2 L344.1 340.8 L338.2 338.4 L332.4 336.2 L326.6 334.0 L320.7 331.9 L314.9 329.9 L309.1 327.9 L303.3 326.0 L297.5 324.2 L291.7 322.5 L286.0 320.9 L280.3 319.4 L274.6 317.9 L269.0 316.5 L263.4 315.3 L257.8 314.1 L252.3 313.0 L246.9 312.0 L241.5 311.1 L236.1 310.2 L230.9 309.5 L225.7 308.9 L220.5 308.3 L215.5 307.9 L210.5 307.5 L205.6 307.2 L200.8 307.1 L196.1 307.0 L191.5 307.0 L186.9 307.1 L182.5 307.3 L178.1 307.6 L173.9 308.0 L169.8 308.5 L165.8 309.1 L161.9 309.8 L158.1 310.6 L154.4 311.4 L150.9 312.4 L147.4 313.4 L144.1 314.6 L141.0 315.8 L137.9 317.1 L135.0 318.5 L132.2 320.0 L129.6 321.6 L127.1 323.2 L124.7 325.0 L122.5 326.8 L120.4 328.7 L118.4 330.7 L116.6 332.8 L115.0 334.9 L113.5 337.1 L112.1 339.4 L110.9 341.8Z" fill="#ffffff" fill-opacity="0.18" />
<g clip-path="url(#c_t1m)" opacity="0.40">
<path d="M338.4 428.1 L565.7 546.0 L553.4 557.8 Z" fill="#92a5cc" fill-opacity="0.23"/>
<path d="M338.4 428.1 L535.5 566.3 L528.3 568.4 Z" fill="#92a5cc" fill-opacity="0.23"/>
<path d="M338.4 428.1 L506.0 571.9 L494.6 572.5 Z" fill="#92a5cc" fill-opacity="0.10"/>
<path d="M338.4 428.1 L494.6 572.5 L470.3 571.7 Z" fill="#92a5cc" fill-opacity="0.05"/>
<path d="M338.4 428.1 L470.3 571.7 L453.8 569.9 Z" fill="#ffffff" fill-opacity="0.28"/>
<path d="M338.4 428.1 L453.8 569.9 L418.7 563.6 Z" fill="#ffffff" fill-opacity="0.25"/>
<path d="M338.4 428.1 L418.7 563.6 L402.9 559.7 Z" fill="#92a5cc" fill-opacity="0.07"/>
<path d="M338.4 428.1 L391.5 556.5 L372.7 550.7 Z" fill="#ffffff" fill-opacity="0.30"/>
<path d="M338.4 428.1 L372.7 550.7 L330.4 535.0 Z" fill="#ffffff" fill-opacity="0.29"/>
<path d="M338.4 428.1 L330.4 535.0 L299.8 521.4 Z" fill="#92a5cc" fill-opacity="0.09"/>
<path d="M338.4 428.1 L299.8 521.4 L256.5 498.8 Z" fill="#92a5cc" fill-opacity="0.23"/>
<path d="M338.4 428.1 L256.5 498.8 L217.6 474.5 Z" fill="#ffffff" fill-opacity="0.15"/>
<path d="M338.4 428.1 L217.6 474.5 L202.9 464.2 Z" fill="#ffffff" fill-opacity="0.08"/>
<path d="M338.4 428.1 L202.9 464.2 L185.3 450.7 Z" fill="#92a5cc" fill-opacity="0.05"/>
<path d="M338.4 428.1 L185.3 450.7 L160.2 428.9 Z" fill="#ffffff" fill-opacity="0.13"/>
<path d="M338.4 428.1 L160.2 428.9 L136.6 404.1 Z" fill="#92a5cc" fill-opacity="0.11"/>
<path d="M338.4 428.1 L136.6 404.1 L123.4 386.9 Z" fill="#92a5cc" fill-opacity="0.06"/>
<path d="M338.4 428.1 L123.4 386.9 L109.2 360.7 Z" fill="#ffffff" fill-opacity="0.24"/>
<path d="M338.4 428.1 L109.2 360.7 L103.8 339.3 Z" fill="#ffffff" fill-opacity="0.25"/>
<path d="M338.4 428.1 L103.8 339.3 L104.1 327.9 Z" fill="#92a5cc" fill-opacity="0.05"/>
<path d="M338.4 428.1 L104.1 327.9 L105.3 322.1 Z" fill="#ffffff" fill-opacity="0.29"/>
<path d="M338.4 428.1 L105.3 322.1 L108.3 314.6 Z" fill="#92a5cc" fill-opacity="0.23"/>
<path d="M338.4 428.1 L108.3 314.6 L121.4 299.7 Z" fill="#ffffff" fill-opacity="0.15"/>
<path d="M338.4 428.1 L121.4 299.7 L134.7 292.3 Z" fill="#92a5cc" fill-opacity="0.07"/>
<path d="M338.4 428.1 L134.7 292.3 L156.3 286.1 Z" fill="#92a5cc" fill-opacity="0.21"/>
<path d="M338.4 428.1 L164.8 284.9 L175.2 284.0 Z" fill="#ffffff" fill-opacity="0.21"/>
<path d="M338.4 428.1 L175.2 284.0 L209.5 284.8 Z" fill="#ffffff" fill-opacity="0.28"/>
<path d="M338.4 428.1 L209.5 284.8 L236.4 288.3 Z" fill="#ffffff" fill-opacity="0.14"/>
<path d="M338.4 428.1 L236.4 288.3 L252.9 291.5 Z" fill="#ffffff" fill-opacity="0.10"/>
<path d="M338.4 428.1 L287.3 300.3 L304.4 305.6 Z" fill="#ffffff" fill-opacity="0.30"/>
<path d="M338.4 428.1 L304.4 305.6 L334.9 316.5 Z" fill="#ffffff" fill-opacity="0.12"/>
<path d="M338.4 428.1 L367.4 330.3 L394.7 343.6 Z" fill="#ffffff" fill-opacity="0.07"/>
<path d="M338.4 428.1 L394.7 343.6 L436.2 366.9 Z" fill="#ffffff" fill-opacity="0.18"/>
<path d="M338.4 428.1 L436.2 366.9 L472.0 390.7 Z" fill="#ffffff" fill-opacity="0.24"/>
<path d="M338.4 428.1 L472.0 390.7 L506.5 418.1 Z" fill="#92a5cc" fill-opacity="0.20"/>
<path d="M338.4 428.1 L506.5 418.1 L516.9 427.6 Z" fill="#ffffff" fill-opacity="0.10"/>
<path d="M338.4 428.1 L516.9 427.6 L540.9 453.0 Z" fill="#ffffff" fill-opacity="0.17"/>
<path d="M338.4 428.1 L560.5 480.7 L571.0 506.0 Z" fill="#92a5cc" fill-opacity="0.14"/>
<path d="M338.4 428.1 L571.0 506.0 L573.1 524.3 Z" fill="#92a5cc" fill-opacity="0.11"/>
<path d="M338.4 428.1 L573.1 524.3 L571.0 535.6 Z" fill="#ffffff" fill-opacity="0.15"/>
</g>
<path d="M484.3 494.8 L483.5 496.4 L482.6 497.9 L481.6 499.4 L480.5 500.8 L479.3 502.2 L478.0 503.5 L476.6 504.8 L475.1 506.0 L473.5 507.2 L471.9 508.3 L470.1 509.4 L468.3 510.4 L466.3 511.3 L464.3 512.2 L462.2 513.0 L460.0 513.8 L457.7 514.5 L455.3 515.1 L452.9 515.7 L450.3 516.2 L447.7 516.7 L445.1 517.1 L442.3 517.4 L439.5 517.7 L436.6 517.9 L433.6 518.0 L430.6 518.1 L427.5 518.1 L424.4 518.1 L421.2 518.0 L417.9 517.8 L414.6 517.6 L411.2 517.3 L407.8 516.9 L404.3 516.5 L400.8 516.0 L397.3 515.4 L393.7 514.8 L390.1 514.2 L386.4 513.4 L382.7 512.6 L379.0 511.8 L375.2 510.9 L371.4 509.9 L367.6 508.9 L363.8 507.8 L360.0 506.7 L356.1 505.5 L352.2 504.3 L348.4 503.0 L344.5 501.6 L340.6 500.2 L336.7 498.7 L332.8 497.2 L328.9 495.7 L325.0 494.1 L321.2 492.4 L317.3 490.7 L313.5 489.0 L309.6 487.2 L305.8 485.4 L302.1 483.5 L298.3 481.6 L294.6 479.7 L290.9 477.7 L287.2 475.7 L283.6 473.6 L280.0 471.6 L276.4 469.4 L272.9 467.3 L269.4 465.1 L266.0 462.9 L262.7 460.7 L259.3 458.5 L256.1 456.2 L252.9 453.9 L249.7 451.6 L246.6 449.3 L243.6 446.9 L240.6 444.6 L237.8 442.2 L234.9 439.8 L232.2 437.4 L229.5 435.0 L226.9 432.6 L224.4 430.2 L221.9 427.8 L219.6 425.4 L217.3 423.0 L215.1 420.6 L212.9 418.1 L210.9 415.7 L209.0 413.3 L207.1 411.0 L205.3 408.6 L203.7 406.2 L202.1 403.9 L200.6 401.5 L199.2 399.2 L197.9 396.9 L196.7 394.6 L195.6 392.4 L194.6 390.1 L193.7 387.9 L192.9 385.7 L192.1 383.6 L191.5 381.4 L191.0 379.3 L190.6 377.3 L190.3 375.2 L190.1 373.2 L190.0 371.3 L190.0 369.4 L190.1 367.5 L190.3 365.6 L190.6 363.8 L191.0 362.0 L191.5 360.3 L192.1 358.7 L192.8 357.0 L183.9 376.0 L183.2 377.6 L182.6 379.3 L182.1 381.0 L181.6 382.8 L181.3 384.6 L181.1 386.5 L181.0 388.3 L181.0 390.3 L181.1 392.2 L181.4 394.2 L181.7 396.3 L182.1 398.3 L182.6 400.4 L183.2 402.6 L183.9 404.7 L184.7 406.9 L185.6 409.1 L186.6 411.4 L187.7 413.6 L188.9 415.9 L190.2 418.2 L191.6 420.5 L193.1 422.9 L194.7 425.2 L196.4 427.6 L198.1 430.0 L200.0 432.3 L201.9 434.7 L204.0 437.1 L206.1 439.5 L208.3 442.0 L210.6 444.4 L213.0 446.8 L215.4 449.2 L217.9 451.6 L220.5 454.0 L223.2 456.4 L226.0 458.8 L228.8 461.2 L231.7 463.6 L234.6 465.9 L237.7 468.3 L240.8 470.6 L243.9 472.9 L247.1 475.2 L250.4 477.4 L253.7 479.7 L257.1 481.9 L260.5 484.1 L263.9 486.3 L267.5 488.4 L271.0 490.5 L274.6 492.6 L278.2 494.7 L281.9 496.7 L285.6 498.7 L289.3 500.6 L293.1 502.5 L296.9 504.4 L300.7 506.2 L304.5 508.0 L308.3 509.7 L312.2 511.4 L316.1 513.1 L320.0 514.7 L323.8 516.2 L327.7 517.7 L331.6 519.2 L335.5 520.6 L339.4 521.9 L343.3 523.2 L347.1 524.5 L351.0 525.7 L354.8 526.8 L358.7 527.9 L362.5 528.9 L366.2 529.9 L370.0 530.8 L373.7 531.6 L377.4 532.4 L381.1 533.2 L384.7 533.8 L388.3 534.4 L391.9 535.0 L395.4 535.5 L398.9 535.9 L402.3 536.2 L405.6 536.5 L409.0 536.8 L412.2 536.9 L415.4 537.1 L418.6 537.1 L421.7 537.1 L424.7 537.0 L427.6 536.9 L430.5 536.7 L433.3 536.4 L436.1 536.0 L438.8 535.7 L441.4 535.2 L443.9 534.7 L446.3 534.1 L448.7 533.5 L451.0 532.8 L453.2 532.0 L455.3 531.2 L457.3 530.3 L459.3 529.3 L461.1 528.3 L462.9 527.3 L464.6 526.2 L466.2 525.0 L467.7 523.8 L469.0 522.5 L470.3 521.2 L471.5 519.8 L472.6 518.4 L473.7 516.9 L474.6 515.3 L475.4 513.8Z" fill="#a3b3d3" fill-opacity="0.24" />
<path d="M484.3 494.8 L482.6 497.9 L480.5 500.8 L478.0 503.5 L475.1 506.0 L471.9 508.3 L468.2 510.4 L464.3 512.2 L459.9 513.8 L455.3 515.1 L450.3 516.2 L445.0 517.1 L439.5 517.7 L433.6 518.0 L427.5 518.1 L421.1 518.0 L414.6 517.5 L407.8 516.9 L400.8 516.0 L393.7 514.8 L386.4 513.4 L378.9 511.8 L371.4 509.9 L363.8 507.8 L356.1 505.5 L348.3 502.9 L340.5 500.2 L332.8 497.2 L325.0 494.1 L317.3 490.7 L309.6 487.2 L302.0 483.5 L294.5 479.7 L287.2 475.7 L279.9 471.5 L272.9 467.3 L266.0 462.9 L259.3 458.4 L252.8 453.9 L246.6 449.2 L240.6 444.5 L234.9 439.8 L229.5 435.0 L224.4 430.2 L219.5 425.4 L215.0 420.5 L210.9 415.7 L207.1 410.9 L203.6 406.2 L200.6 401.5 L197.9 396.9 L195.6 392.3 L193.7 387.9 L192.1 383.6 L191.0 379.3 L190.3 375.2 L190.0 371.3 L190.1 367.4 L190.6 363.8 L191.5 360.3 L192.8 357.0 L194.6 353.9 L196.7 351.0 L199.2 348.3 L202.1 345.8 L205.3 343.5 L208.9 341.4 L212.9 339.6 L217.2 338.0 L221.9 336.7 L226.9 335.6 L232.1 334.7 L237.7 334.1 L243.6 333.8 L249.7 333.7 L256.0 333.8 L262.6 334.3 L269.4 334.9 L276.4 335.8 L283.5 337.0 L290.8 338.4 L298.2 340.0 L305.8 341.9 L313.4 344.0 L321.1 346.3 L328.9 348.9 L336.6 351.6 L344.4 354.6 L352.2 357.7 L359.9 361.1 L367.6 364.6 L375.1 368.3 L382.6 372.1 L390.0 376.1 L397.2 380.3 L404.3 384.5 L411.2 388.9 L417.9 393.4 L424.3 397.9 L430.6 402.6 L436.5 407.3 L442.3 412.0 L447.7 416.8 L452.8 421.6 L457.6 426.4 L462.1 431.3 L466.3 436.1 L470.1 440.9 L473.5 445.6 L476.6 450.3 L479.3 454.9 L481.6 459.5 L483.5 463.9 L485.0 468.2 L486.1 472.5 L486.9 476.6 L487.2 480.5 L487.1 484.4 L486.6 488.0 L485.6 491.5 L484.3 494.8Z" fill="#a3b3d3" fill-opacity="0.44" />
<path d="M192.8 357.0 L193.6 355.4 L194.6 353.9 L195.6 352.4 L196.7 351.0 L197.9 349.6 L199.2 348.3 L200.6 347.0 L202.0 345.8 L203.6 344.6 L205.3 343.5 L207.1 342.4 L208.9 341.4 L210.9 340.5 L212.9 339.6 L215.0 338.8 L217.2 338.0 L219.5 337.3 L221.9 336.7 L224.3 336.1 L226.8 335.6 L229.4 335.1 L232.1 334.7 L234.9 334.4 L237.7 334.1 L240.6 333.9 L243.5 333.8 L246.6 333.7 L249.6 333.7 L252.8 333.7 L256.0 333.8 L259.3 334.0 L262.6 334.2 L265.9 334.5 L269.4 334.9 L272.8 335.3 L276.3 335.8 L279.9 336.4 L283.5 337.0 L287.1 337.6 L290.8 338.4 L294.5 339.2 L298.2 340.0 L302.0 340.9 L305.7 341.9 L309.5 342.9 L313.4 344.0 L317.2 345.1 L321.1 346.3 L324.9 347.5 L328.8 348.8 L332.7 350.2 L336.6 351.6 L340.5 353.1 L344.4 354.6 L348.3 356.1 L352.1 357.7 L356.0 359.4 L359.9 361.1 L363.7 362.8 L367.5 364.6 L371.3 366.4 L375.1 368.3 L378.9 370.2 L382.6 372.1 L386.3 374.1 L390.0 376.1 L393.6 378.2 L397.2 380.2 L400.7 382.4 L404.3 384.5 L407.7 386.7 L411.1 388.9 L414.5 391.1 L417.8 393.3 L421.1 395.6 L424.3 397.9 L427.5 400.2 L430.5 402.5 L433.6 404.9 L436.5 407.2 L439.4 409.6 L442.2 412.0 L445.0 414.4 L447.7 416.8 L450.3 419.2 L452.8 421.6 L455.2 424.0 L457.6 426.4 L459.9 428.8 L462.1 431.2 L464.2 433.7 L466.3 436.1 L468.2 438.5 L470.1 440.8 L471.8 443.2 L473.5 445.6 L475.1 447.9 L476.6 450.3 L478.0 452.6 L479.3 454.9 L480.5 457.2 L481.6 459.4 L482.6 461.7 L483.5 463.9 L484.3 466.1 L485.0 468.2 L485.6 470.4 L486.1 472.5 L486.5 474.5 L486.9 476.6 L487.1 478.6 L487.2 480.5 L487.2 482.4 L487.1 484.3 L486.9 486.2 L486.6 488.0 L486.2 489.8 L485.6 491.5 L485.0 493.1 L484.3 494.8 L475.4 513.8 L476.1 512.1 L476.7 510.5 L477.2 508.7 L477.6 507.0 L477.9 505.2 L478.1 503.3 L478.2 501.4 L478.2 499.5 L478.1 497.5 L477.9 495.6 L477.6 493.5 L477.2 491.4 L476.7 489.3 L476.1 487.2 L475.3 485.1 L474.5 482.9 L473.6 480.7 L472.6 478.4 L471.5 476.2 L470.3 473.9 L469.0 471.6 L467.6 469.3 L466.1 466.9 L464.5 464.6 L462.9 462.2 L461.1 459.8 L459.2 457.4 L457.3 455.0 L455.3 452.6 L453.1 450.2 L450.9 447.8 L448.7 445.4 L446.3 443.0 L443.8 440.6 L441.3 438.2 L438.7 435.8 L436.0 433.4 L433.3 431.0 L430.4 428.6 L427.6 426.2 L424.6 423.9 L421.6 421.5 L418.5 419.2 L415.3 416.9 L412.1 414.6 L408.9 412.3 L405.6 410.1 L402.2 407.9 L398.8 405.7 L395.3 403.5 L391.8 401.3 L388.2 399.2 L384.6 397.2 L381.0 395.1 L377.3 393.1 L373.6 391.1 L369.9 389.2 L366.1 387.3 L362.4 385.4 L358.6 383.6 L354.7 381.8 L350.9 380.1 L347.0 378.4 L343.2 376.7 L339.3 375.1 L335.4 373.6 L331.5 372.1 L327.6 370.6 L323.7 369.2 L319.9 367.8 L316.0 366.5 L312.1 365.3 L308.3 364.1 L304.4 363.0 L300.6 361.9 L296.8 360.9 L293.0 359.9 L289.2 359.0 L285.5 358.1 L281.8 357.4 L278.1 356.6 L274.5 356.0 L270.9 355.3 L267.4 354.8 L263.9 354.3 L260.4 353.9 L257.0 353.5 L253.6 353.2 L250.3 353.0 L247.0 352.8 L243.8 352.7 L240.7 352.7 L237.6 352.7 L234.6 352.8 L231.6 352.9 L228.7 353.1 L225.9 353.4 L223.2 353.7 L220.5 354.1 L217.9 354.6 L215.3 355.1 L212.9 355.7 L210.5 356.3 L208.2 357.0 L206.0 357.8 L203.9 358.6 L201.9 359.5 L200.0 360.4 L198.1 361.4 L196.3 362.5 L194.7 363.6 L193.1 364.8 L191.6 366.0 L190.2 367.3 L188.9 368.6 L187.7 370.0 L186.6 371.4 L185.6 372.9 L184.7 374.4 L183.9 376.0Z" fill="#ffffff" fill-opacity="0.15" />
<g clip-path="url(#c_t1i)" opacity="0.65">
<path d="M338.4 428.1 L490.9 504.9 L488.6 508.2 Z" fill="#92a5cc" fill-opacity="0.06"/>
<path d="M338.4 428.1 L488.6 508.2 L483.0 513.6 Z" fill="#ffffff" fill-opacity="0.07"/>
<path d="M338.4 428.1 L483.0 513.6 L475.8 517.8 Z" fill="#ffffff" fill-opacity="0.16"/>
<path d="M338.4 428.1 L475.8 517.8 L472.0 519.4 Z" fill="#ffffff" fill-opacity="0.16"/>
<path d="M338.4 428.1 L472.0 519.4 L458.6 522.8 Z" fill="#ffffff" fill-opacity="0.11"/>
<path d="M338.4 428.1 L445.6 524.2 L431.8 524.1 Z" fill="#ffffff" fill-opacity="0.29"/>
<path d="M338.4 428.1 L426.0 523.7 L415.7 522.6 Z" fill="#ffffff" fill-opacity="0.09"/>
<path d="M338.4 428.1 L404.5 520.9 L395.4 519.1 Z" fill="#92a5cc" fill-opacity="0.17"/>
<path d="M338.4 428.1 L395.4 519.1 L382.3 516.0 Z" fill="#92a5cc" fill-opacity="0.06"/>
<path d="M338.4 428.1 L382.3 516.0 L375.1 514.0 Z" fill="#ffffff" fill-opacity="0.22"/>
<path d="M338.4 428.1 L375.1 514.0 L360.5 509.5 Z" fill="#ffffff" fill-opacity="0.20"/>
<path d="M338.4 428.1 L360.5 509.5 L345.1 504.1 Z" fill="#ffffff" fill-opacity="0.25"/>
<path d="M338.4 428.1 L345.1 504.1 L324.6 495.7 Z" fill="#ffffff" fill-opacity="0.20"/>
<path d="M338.4 428.1 L307.9 487.9 L287.5 477.3 Z" fill="#ffffff" fill-opacity="0.30"/>
<path d="M338.4 428.1 L287.5 477.3 L279.4 472.6 Z" fill="#ffffff" fill-opacity="0.24"/>
<path d="M338.4 428.1 L279.4 472.6 L270.9 467.4 Z" fill="#92a5cc" fill-opacity="0.06"/>
<path d="M338.4 428.1 L270.9 467.4 L253.6 456.0 Z" fill="#92a5cc" fill-opacity="0.16"/>
<path d="M338.4 428.1 L253.6 456.0 L234.4 441.6 Z" fill="#ffffff" fill-opacity="0.23"/>
<path d="M338.4 428.1 L234.4 441.6 L221.5 430.3 Z" fill="#92a5cc" fill-opacity="0.14"/>
<path d="M338.4 428.1 L207.3 416.0 L199.4 406.4 Z" fill="#92a5cc" fill-opacity="0.06"/>
<path d="M338.4 428.1 L199.4 406.4 L191.2 394.3 Z" fill="#92a5cc" fill-opacity="0.24"/>
<path d="M338.4 428.1 L191.2 394.3 L185.1 381.5 Z" fill="#ffffff" fill-opacity="0.15"/>
<path d="M338.4 428.1 L185.1 381.5 L182.4 371.2 Z" fill="#ffffff" fill-opacity="0.17"/>
<path d="M338.4 428.1 L182.4 371.2 L182.0 366.5 Z" fill="#ffffff" fill-opacity="0.07"/>
<path d="M338.4 428.1 L182.0 366.5 L183.4 356.8 Z" fill="#ffffff" fill-opacity="0.12"/>
<path d="M338.4 428.1 L185.8 351.3 L187.8 348.4 Z" fill="#ffffff" fill-opacity="0.19"/>
<path d="M338.4 428.1 L196.1 341.1 L207.5 335.9 Z" fill="#ffffff" fill-opacity="0.16"/>
<path d="M338.4 428.1 L215.4 333.8 L232.9 332.0 Z" fill="#ffffff" fill-opacity="0.10"/>
<path d="M338.4 428.1 L232.9 332.0 L241.3 332.0 Z" fill="#ffffff" fill-opacity="0.18"/>
<path d="M338.4 428.1 L241.3 332.0 L256.2 333.0 Z" fill="#ffffff" fill-opacity="0.06"/>
<path d="M338.4 428.1 L256.2 333.0 L269.1 334.8 Z" fill="#ffffff" fill-opacity="0.20"/>
<path d="M338.4 428.1 L269.1 334.8 L292.9 339.8 Z" fill="#92a5cc" fill-opacity="0.15"/>
<path d="M338.4 428.1 L292.9 339.8 L311.2 345.0 Z" fill="#92a5cc" fill-opacity="0.06"/>
<path d="M338.4 428.1 L311.2 345.0 L335.6 353.6 Z" fill="#92a5cc" fill-opacity="0.22"/>
<path d="M338.4 428.1 L335.6 353.6 L358.0 363.1 Z" fill="#ffffff" fill-opacity="0.16"/>
<path d="M338.4 428.1 L358.0 363.1 L366.3 367.0 Z" fill="#92a5cc" fill-opacity="0.06"/>
<path d="M338.4 428.1 L366.3 367.0 L373.8 370.7 Z" fill="#ffffff" fill-opacity="0.10"/>
<path d="M338.4 428.1 L373.8 370.7 L386.4 377.4 Z" fill="#ffffff" fill-opacity="0.06"/>
<path d="M338.4 428.1 L386.4 377.4 L395.2 382.4 Z" fill="#ffffff" fill-opacity="0.15"/>
<path d="M338.4 428.1 L401.5 386.1 L418.1 396.7 Z" fill="#ffffff" fill-opacity="0.12"/>
<path d="M338.4 428.1 L418.1 396.7 L429.3 404.6 Z" fill="#ffffff" fill-opacity="0.09"/>
<path d="M338.4 428.1 L447.3 418.8 L458.0 428.5 Z" fill="#92a5cc" fill-opacity="0.07"/>
<path d="M338.4 428.1 L458.0 428.5 L463.2 433.6 Z" fill="#ffffff" fill-opacity="0.12"/>
<path d="M338.4 428.1 L463.2 433.6 L475.7 447.7 Z" fill="#ffffff" fill-opacity="0.07"/>
<path d="M338.4 428.1 L475.7 447.7 L486.1 462.7 Z" fill="#92a5cc" fill-opacity="0.08"/>
<path d="M338.4 428.1 L486.1 462.7 L490.8 472.4 Z" fill="#ffffff" fill-opacity="0.19"/>
<path d="M338.4 428.1 L494.5 486.0 L494.3 495.5 Z" fill="#ffffff" fill-opacity="0.15"/>
<path d="M338.4 428.1 L494.3 495.5 L493.3 499.6 Z" fill="#92a5cc" fill-opacity="0.15"/>
<path d="M338.4 428.1 L493.3 499.6 L488.8 508.0 Z" fill="#ffffff" fill-opacity="0.11"/>
</g>
<path d="M634.4 364.0 L633.2 366.4 L631.8 368.7 L630.3 370.9 L628.7 373.1 L626.9 375.2 L624.9 377.2 L622.8 379.1 L620.6 380.9 L618.2 382.7 L615.7 384.3 L613.0 385.9 L610.2 387.4 L607.3 388.9 L604.3 390.2 L601.1 391.4 L597.8 392.6 L594.3 393.6 L590.8 394.6 L587.1 395.5 L583.3 396.3 L579.4 397.0 L575.4 397.6 L571.3 398.1 L567.0 398.5 L562.7 398.8 L558.2 399.0 L553.7 399.1 L549.1 399.2 L544.3 399.1 L539.5 398.9 L534.6 398.7 L529.7 398.3 L524.6 397.9 L519.5 397.4 L514.3 396.7 L509.0 396.0 L503.7 395.2 L498.3 394.3 L492.8 393.3 L487.3 392.2 L481.7 391.0 L476.1 389.7 L470.5 388.4 L464.8 386.9 L459.1 385.4 L453.4 383.8 L447.6 382.1 L441.8 380.3 L436.0 378.4 L430.2 376.5 L424.4 374.4 L418.5 372.3 L412.7 370.1 L406.8 367.9 L401.0 365.6 L395.2 363.1 L389.4 360.7 L383.6 358.1 L377.8 355.5 L372.1 352.8 L366.4 350.1 L360.7 347.3 L355.0 344.4 L349.4 341.5 L343.9 338.6 L338.4 335.5 L332.9 332.5 L327.5 329.3 L322.2 326.2 L316.9 322.9 L311.7 319.7 L306.6 316.4 L301.5 313.0 L296.6 309.7 L291.7 306.3 L286.8 302.8 L282.1 299.3 L277.5 295.8 L272.9 292.3 L268.5 288.8 L264.2 285.2 L259.9 281.6 L255.8 278.1 L251.8 274.5 L247.9 270.8 L244.1 267.2 L240.4 263.6 L236.8 260.0 L233.4 256.3 L230.1 252.7 L226.9 249.1 L223.9 245.5 L221.0 241.9 L218.2 238.3 L215.5 234.7 L213.0 231.2 L210.6 227.6 L208.4 224.1 L206.3 220.6 L204.4 217.2 L202.5 213.7 L200.9 210.3 L199.4 207.0 L198.0 203.7 L196.8 200.4 L195.7 197.1 L194.8 193.9 L194.1 190.8 L193.5 187.7 L193.0 184.6 L192.7 181.6 L192.5 178.6 L192.5 175.7 L192.7 172.9 L193.0 170.1 L193.5 167.4 L194.1 164.8 L194.8 162.2 L195.7 159.7 L196.8 157.2 L185.9 180.3 L184.9 182.7 L183.9 185.2 L183.2 187.8 L182.6 190.5 L182.1 193.2 L181.8 196.0 L181.7 198.8 L181.7 201.7 L181.8 204.7 L182.1 207.7 L182.6 210.7 L183.2 213.8 L183.9 217.0 L184.9 220.2 L185.9 223.4 L187.1 226.7 L188.5 230.0 L190.0 233.4 L191.7 236.8 L193.5 240.2 L195.4 243.7 L197.5 247.2 L199.7 250.7 L202.1 254.2 L204.6 257.8 L207.3 261.4 L210.1 264.9 L213.0 268.5 L216.0 272.2 L219.2 275.8 L222.5 279.4 L226.0 283.0 L229.5 286.7 L233.2 290.3 L237.0 293.9 L240.9 297.5 L244.9 301.1 L249.0 304.7 L253.3 308.3 L257.6 311.8 L262.1 315.4 L266.6 318.9 L271.2 322.4 L276.0 325.9 L280.8 329.3 L285.7 332.7 L290.6 336.1 L295.7 339.4 L300.8 342.7 L306.0 346.0 L311.3 349.2 L316.6 352.4 L322.0 355.5 L327.5 358.6 L333.0 361.6 L338.6 364.6 L344.2 367.5 L349.8 370.4 L355.5 373.2 L361.2 375.9 L366.9 378.6 L372.7 381.2 L378.5 383.7 L384.3 386.2 L390.1 388.6 L395.9 390.9 L401.8 393.2 L407.6 395.4 L413.5 397.5 L419.3 399.5 L425.1 401.5 L430.9 403.3 L436.7 405.1 L442.5 406.8 L448.2 408.5 L453.9 410.0 L459.6 411.4 L465.3 412.8 L470.9 414.1 L476.4 415.2 L481.9 416.3 L487.4 417.3 L492.8 418.2 L498.1 419.1 L503.4 419.8 L508.6 420.4 L513.7 421.0 L518.8 421.4 L523.8 421.7 L528.7 422.0 L533.5 422.2 L538.2 422.2 L542.8 422.2 L547.4 422.1 L551.8 421.8 L556.1 421.5 L560.4 421.1 L564.5 420.6 L568.5 420.0 L572.4 419.3 L576.2 418.5 L579.9 417.7 L583.5 416.7 L586.9 415.6 L590.2 414.5 L593.4 413.2 L596.4 411.9 L599.4 410.5 L602.1 409.0 L604.8 407.4 L607.3 405.7 L609.7 404.0 L611.9 402.1 L614.0 400.2 L616.0 398.2 L617.8 396.1 L619.4 394.0 L620.9 391.7 L622.3 389.4 L623.5 387.1Z" fill="url(#g2)" fill-opacity="0.80" />
<path d="M634.4 364.0 L631.8 368.7 L628.6 373.1 L624.9 377.2 L620.6 380.9 L615.7 384.4 L610.2 387.5 L604.2 390.2 L597.8 392.6 L590.8 394.6 L583.3 396.3 L575.4 397.6 L567.0 398.5 L558.2 399.0 L549.0 399.2 L539.5 398.9 L529.6 398.3 L519.4 397.4 L508.9 396.0 L498.2 394.3 L487.3 392.2 L476.1 389.7 L464.8 386.9 L453.3 383.8 L441.8 380.3 L430.1 376.4 L418.5 372.3 L406.8 367.9 L395.1 363.1 L383.5 358.1 L372.0 352.8 L360.6 347.3 L349.4 341.5 L338.3 335.5 L327.5 329.3 L316.9 322.9 L306.5 316.3 L296.5 309.6 L286.8 302.8 L277.4 295.8 L268.5 288.8 L259.9 281.6 L251.7 274.4 L244.0 267.2 L236.8 259.9 L230.1 252.7 L223.8 245.5 L218.1 238.3 L213.0 231.1 L208.4 224.1 L204.3 217.1 L200.9 210.3 L198.0 203.6 L195.7 197.1 L194.1 190.7 L193.0 184.6 L192.5 178.6 L192.7 172.9 L193.5 167.4 L194.8 162.1 L196.8 157.2 L199.4 152.5 L202.6 148.1 L206.3 144.0 L210.7 140.3 L215.6 136.8 L221.0 133.7 L227.0 131.0 L233.5 128.6 L240.5 126.6 L247.9 124.9 L255.9 123.6 L264.2 122.7 L273.0 122.2 L282.2 122.0 L291.7 122.3 L301.6 122.9 L311.8 123.8 L322.3 125.2 L333.0 126.9 L344.0 129.0 L355.1 131.5 L366.4 134.3 L377.9 137.4 L389.5 140.9 L401.1 144.8 L412.8 148.9 L424.4 153.3 L436.1 158.1 L447.7 163.1 L459.2 168.4 L470.6 173.9 L481.8 179.7 L492.9 185.7 L503.7 191.9 L514.3 198.3 L524.7 204.9 L534.7 211.6 L544.4 218.4 L553.8 225.4 L562.8 232.4 L571.3 239.6 L579.5 246.8 L587.2 254.0 L594.4 261.3 L601.1 268.5 L607.4 275.7 L613.1 282.9 L618.2 290.1 L622.8 297.1 L626.9 304.1 L630.3 310.9 L633.2 317.6 L635.5 324.1 L637.2 330.5 L638.2 336.6 L638.7 342.6 L638.5 348.3 L637.8 353.8 L636.4 359.1 L634.4 364.0Z" fill="#cad2e2" fill-opacity="0.80" />
<path d="M196.8 157.2 L198.0 154.8 L199.4 152.5 L200.9 150.3 L202.6 148.1 L204.4 146.0 L206.3 144.0 L208.4 142.1 L210.6 140.3 L213.0 138.5 L215.5 136.9 L218.2 135.3 L221.0 133.8 L223.9 132.3 L226.9 131.0 L230.1 129.8 L233.4 128.6 L236.9 127.6 L240.4 126.6 L244.1 125.7 L247.9 124.9 L251.8 124.2 L255.8 123.6 L260.0 123.1 L264.2 122.7 L268.5 122.4 L273.0 122.2 L277.5 122.1 L282.1 122.0 L286.9 122.1 L291.7 122.3 L296.6 122.5 L301.6 122.9 L306.6 123.3 L311.8 123.8 L317.0 124.5 L322.2 125.2 L327.6 126.0 L333.0 126.9 L338.4 127.9 L343.9 129.0 L349.5 130.2 L355.1 131.5 L360.7 132.8 L366.4 134.3 L372.1 135.8 L377.8 137.4 L383.6 139.1 L389.4 140.9 L395.2 142.8 L401.0 144.7 L406.9 146.8 L412.7 148.9 L418.5 151.1 L424.4 153.3 L430.2 155.6 L436.0 158.1 L441.8 160.5 L447.6 163.1 L453.4 165.7 L459.1 168.4 L464.9 171.1 L470.5 173.9 L476.2 176.8 L481.8 179.7 L487.3 182.6 L492.8 185.7 L498.3 188.7 L503.7 191.9 L509.0 195.0 L514.3 198.3 L519.5 201.5 L524.6 204.8 L529.7 208.2 L534.7 211.5 L539.6 214.9 L544.4 218.4 L549.1 221.9 L553.7 225.4 L558.3 228.9 L562.7 232.4 L567.1 236.0 L571.3 239.6 L575.4 243.1 L579.4 246.7 L583.3 250.4 L587.1 254.0 L590.8 257.6 L594.4 261.2 L597.8 264.9 L601.1 268.5 L604.3 272.1 L607.3 275.7 L610.3 279.3 L613.0 282.9 L615.7 286.5 L618.2 290.0 L620.6 293.6 L622.8 297.1 L624.9 300.6 L626.9 304.0 L628.7 307.5 L630.3 310.9 L631.8 314.2 L633.2 317.5 L634.4 320.8 L635.5 324.1 L636.4 327.3 L637.2 330.4 L637.8 333.5 L638.2 336.6 L638.5 339.6 L638.7 342.6 L638.7 345.5 L638.5 348.3 L638.2 351.1 L637.8 353.8 L637.1 356.4 L636.4 359.0 L635.5 361.5 L634.4 364.0 L623.5 387.1 L624.6 384.6 L625.5 382.1 L626.3 379.5 L626.9 376.9 L627.3 374.1 L627.6 371.4 L627.8 368.5 L627.8 365.6 L627.6 362.7 L627.3 359.7 L626.9 356.6 L626.3 353.5 L625.5 350.3 L624.6 347.1 L623.5 343.9 L622.3 340.6 L621.0 337.3 L619.4 333.9 L617.8 330.5 L616.0 327.1 L614.0 323.6 L611.9 320.1 L609.7 316.6 L607.3 313.1 L604.8 309.5 L602.2 306.0 L599.4 302.4 L596.5 298.8 L593.4 295.2 L590.2 291.5 L586.9 287.9 L583.5 284.3 L579.9 280.7 L576.3 277.0 L572.5 273.4 L568.6 269.8 L564.5 266.2 L560.4 262.6 L556.2 259.0 L551.8 255.5 L547.4 251.9 L542.9 248.4 L538.2 244.9 L533.5 241.4 L528.7 238.0 L523.8 234.6 L518.8 231.2 L513.7 227.9 L508.6 224.6 L503.4 221.3 L498.1 218.1 L492.8 214.9 L487.4 211.8 L482.0 208.7 L476.4 205.7 L470.9 202.7 L465.3 199.8 L459.7 197.0 L454.0 194.2 L448.3 191.4 L442.5 188.7 L436.8 186.1 L431.0 183.6 L425.2 181.1 L419.3 178.7 L413.5 176.4 L407.7 174.1 L401.8 171.9 L396.0 169.8 L390.2 167.8 L384.3 165.8 L378.5 164.0 L372.7 162.2 L367.0 160.5 L361.2 158.9 L355.5 157.3 L349.8 155.9 L344.2 154.5 L338.6 153.3 L333.0 152.1 L327.5 151.0 L322.1 150.0 L316.7 149.1 L311.3 148.3 L306.1 147.5 L300.9 146.9 L295.7 146.4 L290.7 145.9 L285.7 145.6 L280.8 145.3 L276.0 145.2 L271.3 145.1 L266.6 145.1 L262.1 145.3 L257.6 145.5 L253.3 145.8 L249.1 146.2 L244.9 146.7 L240.9 147.3 L237.0 148.0 L233.2 148.8 L229.5 149.7 L226.0 150.6 L222.6 151.7 L219.2 152.8 L216.1 154.1 L213.0 155.4 L210.1 156.8 L207.3 158.3 L204.7 159.9 L202.1 161.6 L199.8 163.3 L197.5 165.2 L195.4 167.1 L193.5 169.1 L191.7 171.2 L190.0 173.3 L188.5 175.6 L187.1 177.9 L185.9 180.3Z" fill="#b9c4da" fill-opacity="0.30" />
<path d="M562.0 329.5 L561.1 331.1 L560.2 332.6 L559.2 334.1 L558.1 335.6 L556.9 336.9 L555.6 338.3 L554.2 339.6 L552.7 340.8 L551.1 342.0 L549.4 343.1 L547.7 344.2 L545.8 345.2 L543.9 346.1 L541.8 347.0 L539.7 347.9 L537.5 348.6 L535.2 349.4 L532.8 350.0 L530.4 350.6 L527.9 351.1 L525.2 351.6 L522.6 352.0 L519.8 352.3 L517.0 352.6 L514.1 352.8 L511.1 353.0 L508.1 353.1 L505.0 353.1 L501.9 353.1 L498.7 353.0 L495.4 352.8 L492.1 352.6 L488.7 352.3 L485.3 351.9 L481.8 351.5 L478.3 351.0 L474.7 350.5 L471.1 349.9 L467.5 349.2 L463.8 348.5 L460.1 347.7 L456.4 346.9 L452.6 346.0 L448.9 345.0 L445.1 344.0 L441.2 342.9 L437.4 341.8 L433.5 340.6 L429.7 339.4 L425.8 338.1 L421.9 336.7 L418.0 335.3 L414.1 333.9 L410.2 332.4 L406.3 330.8 L402.5 329.2 L398.6 327.6 L394.7 325.9 L390.9 324.1 L387.1 322.4 L383.3 320.5 L379.5 318.7 L375.7 316.8 L372.0 314.8 L368.3 312.8 L364.6 310.8 L361.0 308.8 L357.4 306.7 L353.8 304.6 L350.3 302.4 L346.9 300.2 L343.5 298.0 L340.1 295.8 L336.8 293.6 L333.5 291.3 L330.3 289.0 L327.2 286.7 L324.1 284.4 L321.1 282.0 L318.1 279.6 L315.2 277.3 L312.4 274.9 L309.6 272.5 L307.0 270.1 L304.4 267.7 L301.8 265.2 L299.4 262.8 L297.0 260.4 L294.7 258.0 L292.5 255.6 L290.4 253.1 L288.4 250.7 L286.5 248.3 L284.6 245.9 L282.8 243.5 L281.2 241.2 L279.6 238.8 L278.1 236.5 L276.7 234.1 L275.4 231.8 L274.2 229.5 L273.1 227.3 L272.1 225.0 L271.2 222.8 L270.4 220.6 L269.7 218.4 L269.1 216.3 L268.6 214.2 L268.2 212.1 L267.9 210.1 L267.7 208.0 L267.6 206.1 L267.6 204.1 L267.7 202.2 L267.9 200.4 L268.2 198.6 L268.6 196.8 L269.1 195.1 L269.8 193.4 L270.5 191.7 L259.6 214.8 L258.9 216.4 L258.3 218.1 L257.7 219.8 L257.3 221.6 L257.0 223.4 L256.8 225.3 L256.7 227.2 L256.7 229.1 L256.8 231.1 L257.0 233.1 L257.3 235.2 L257.7 237.2 L258.2 239.3 L258.8 241.5 L259.5 243.7 L260.3 245.9 L261.2 248.1 L262.2 250.3 L263.3 252.6 L264.5 254.9 L265.8 257.2 L267.2 259.5 L268.7 261.9 L270.3 264.2 L272.0 266.6 L273.7 269.0 L275.6 271.4 L277.5 273.8 L279.5 276.2 L281.7 278.6 L283.9 281.0 L286.1 283.5 L288.5 285.9 L291.0 288.3 L293.5 290.7 L296.1 293.1 L298.8 295.5 L301.5 297.9 L304.3 300.3 L307.2 302.7 L310.2 305.1 L313.2 307.4 L316.3 309.7 L319.4 312.1 L322.6 314.4 L325.9 316.6 L329.2 318.9 L332.6 321.1 L336.0 323.3 L339.4 325.5 L343.0 327.6 L346.5 329.7 L350.1 331.8 L353.7 333.9 L357.4 335.9 L361.1 337.9 L364.8 339.8 L368.6 341.7 L372.4 343.6 L376.2 345.4 L380.0 347.2 L383.8 348.9 L387.7 350.6 L391.6 352.3 L395.5 353.9 L399.3 355.4 L403.2 356.9 L407.1 358.4 L411.0 359.8 L414.9 361.1 L418.8 362.4 L422.6 363.7 L426.5 364.9 L430.3 366.0 L434.2 367.1 L438.0 368.1 L441.8 369.0 L445.5 369.9 L449.3 370.8 L453.0 371.6 L456.6 372.3 L460.3 373.0 L463.9 373.6 L467.4 374.1 L470.9 374.6 L474.4 375.0 L477.8 375.3 L481.2 375.6 L484.5 375.9 L487.8 376.0 L491.0 376.1 L494.1 376.2 L497.2 376.1 L500.2 376.0 L503.2 375.9 L506.1 375.7 L508.9 375.4 L511.7 375.1 L514.4 374.7 L517.0 374.2 L519.5 373.7 L522.0 373.1 L524.3 372.4 L526.6 371.7 L528.8 370.9 L530.9 370.1 L533.0 369.2 L534.9 368.2 L536.8 367.2 L538.6 366.2 L540.2 365.0 L541.8 363.9 L543.3 362.6 L544.7 361.3 L546.0 360.0 L547.2 358.6 L548.3 357.2 L549.3 355.7 L550.3 354.1 L551.1 352.5Z" fill="#a6b5d4" fill-opacity="0.27" />
<path d="M561.9 329.5 L560.2 332.6 L558.1 335.6 L555.6 338.3 L552.7 340.8 L549.4 343.1 L545.8 345.2 L541.8 347.0 L537.5 348.6 L532.8 350.0 L527.8 351.1 L522.5 352.0 L517.0 352.6 L511.1 353.0 L505.0 353.1 L498.6 353.0 L492.0 352.6 L485.2 351.9 L478.3 351.0 L471.1 349.9 L463.8 348.5 L456.4 346.9 L448.8 345.0 L441.2 342.9 L433.5 340.6 L425.7 338.1 L418.0 335.3 L410.2 332.4 L402.4 329.2 L394.7 325.9 L387.0 322.3 L379.4 318.6 L372.0 314.8 L364.6 310.8 L357.4 306.7 L350.3 302.4 L343.4 298.0 L336.7 293.5 L330.3 289.0 L324.0 284.3 L318.1 279.6 L312.4 274.9 L306.9 270.1 L301.8 265.2 L297.0 260.4 L292.5 255.5 L288.4 250.7 L284.6 245.9 L281.2 241.2 L278.1 236.4 L275.4 231.8 L273.1 227.2 L271.2 222.8 L269.7 218.4 L268.6 214.2 L267.9 210.0 L267.6 206.1 L267.7 202.2 L268.2 198.5 L269.1 195.0 L270.5 191.7 L272.2 188.6 L274.3 185.6 L276.8 182.9 L279.7 180.4 L283.0 178.1 L286.6 176.0 L290.6 174.2 L294.9 172.6 L299.6 171.2 L304.6 170.1 L309.9 169.2 L315.5 168.6 L321.3 168.2 L327.4 168.1 L333.8 168.2 L340.4 168.6 L347.2 169.3 L354.2 170.2 L361.3 171.3 L368.6 172.7 L376.0 174.3 L383.6 176.2 L391.2 178.3 L398.9 180.6 L406.7 183.1 L414.5 185.9 L422.2 188.8 L430.0 192.0 L437.7 195.3 L445.4 198.9 L453.0 202.6 L460.5 206.4 L467.8 210.4 L475.1 214.5 L482.1 218.8 L489.0 223.2 L495.7 227.7 L502.1 232.2 L508.4 236.9 L514.4 241.6 L520.1 246.3 L525.5 251.1 L530.6 256.0 L535.4 260.8 L539.9 265.7 L544.0 270.5 L547.8 275.3 L551.3 280.0 L554.3 284.8 L557.0 289.4 L559.3 294.0 L561.2 298.4 L562.7 302.8 L563.8 307.0 L564.5 311.2 L564.8 315.1 L564.7 319.0 L564.2 322.7 L563.3 326.2 L561.9 329.5Z" fill="#a6b5d4" fill-opacity="0.52" />
<path d="M270.5 191.7 L271.3 190.1 L272.2 188.6 L273.2 187.1 L274.3 185.6 L275.5 184.3 L276.8 182.9 L278.2 181.6 L279.7 180.4 L281.3 179.2 L283.0 178.1 L284.7 177.0 L286.6 176.0 L288.6 175.1 L290.6 174.2 L292.7 173.3 L294.9 172.6 L297.2 171.8 L299.6 171.2 L302.0 170.6 L304.6 170.1 L307.2 169.6 L309.9 169.2 L312.6 168.9 L315.4 168.6 L318.3 168.4 L321.3 168.2 L324.3 168.1 L327.4 168.1 L330.6 168.1 L333.8 168.2 L337.0 168.4 L340.3 168.6 L343.7 168.9 L347.1 169.3 L350.6 169.7 L354.1 170.2 L357.7 170.7 L361.3 171.3 L364.9 172.0 L368.6 172.7 L372.3 173.5 L376.0 174.3 L379.8 175.2 L383.6 176.2 L387.4 177.2 L391.2 178.3 L395.0 179.4 L398.9 180.6 L402.8 181.8 L406.6 183.1 L410.5 184.5 L414.4 185.9 L418.3 187.3 L422.2 188.8 L426.1 190.4 L430.0 192.0 L433.8 193.6 L437.7 195.3 L441.5 197.1 L445.4 198.8 L449.2 200.7 L452.9 202.5 L456.7 204.4 L460.4 206.4 L464.1 208.4 L467.8 210.4 L471.4 212.4 L475.0 214.5 L478.6 216.6 L482.1 218.8 L485.5 221.0 L489.0 223.2 L492.3 225.4 L495.6 227.6 L498.9 229.9 L502.1 232.2 L505.3 234.5 L508.3 236.8 L511.4 239.2 L514.3 241.6 L517.2 243.9 L520.0 246.3 L522.8 248.7 L525.5 251.1 L528.1 253.5 L530.6 256.0 L533.0 258.4 L535.4 260.8 L537.7 263.2 L539.9 265.6 L542.0 268.1 L544.0 270.5 L546.0 272.9 L547.8 275.3 L549.6 277.7 L551.3 280.0 L552.8 282.4 L554.3 284.7 L555.7 287.1 L557.0 289.4 L558.2 291.7 L559.3 293.9 L560.3 296.2 L561.2 298.4 L562.0 300.6 L562.7 302.8 L563.3 304.9 L563.8 307.0 L564.2 309.1 L564.5 311.1 L564.7 313.2 L564.8 315.1 L564.8 317.1 L564.7 319.0 L564.5 320.8 L564.2 322.6 L563.8 324.4 L563.3 326.1 L562.7 327.8 L562.0 329.5 L551.1 352.5 L551.8 350.9 L552.4 349.2 L552.9 347.5 L553.3 345.7 L553.6 343.9 L553.8 342.0 L553.9 340.1 L553.9 338.2 L553.8 336.2 L553.6 334.2 L553.3 332.2 L552.9 330.1 L552.4 328.0 L551.8 325.8 L551.1 323.7 L550.3 321.5 L549.4 319.2 L548.4 317.0 L547.3 314.7 L546.1 312.4 L544.8 310.1 L543.4 307.8 L541.9 305.4 L540.4 303.1 L538.7 300.7 L536.9 298.3 L535.1 295.9 L533.1 293.5 L531.1 291.1 L529.0 288.7 L526.8 286.3 L524.5 283.9 L522.1 281.4 L519.7 279.0 L517.2 276.6 L514.6 274.2 L511.9 271.8 L509.1 269.4 L506.3 267.0 L503.4 264.6 L500.5 262.3 L497.5 259.9 L494.4 257.6 L491.2 255.3 L488.0 253.0 L484.8 250.7 L481.4 248.4 L478.1 246.2 L474.7 244.0 L471.2 241.8 L467.7 239.7 L464.1 237.6 L460.5 235.5 L456.9 233.4 L453.2 231.4 L449.5 229.4 L445.8 227.5 L442.1 225.6 L438.3 223.7 L434.5 221.9 L430.6 220.1 L426.8 218.4 L422.9 216.7 L419.1 215.0 L415.2 213.4 L411.3 211.9 L407.4 210.4 L403.5 208.9 L399.6 207.5 L395.8 206.2 L391.9 204.9 L388.0 203.6 L384.1 202.5 L380.3 201.3 L376.5 200.3 L372.7 199.2 L368.9 198.3 L365.1 197.4 L361.4 196.5 L357.7 195.7 L354.0 195.0 L350.4 194.4 L346.8 193.8 L343.2 193.2 L339.7 192.7 L336.3 192.3 L332.8 192.0 L329.5 191.7 L326.1 191.5 L322.9 191.3 L319.7 191.2 L316.5 191.2 L313.4 191.2 L310.4 191.3 L307.4 191.4 L304.5 191.6 L301.7 191.9 L299.0 192.3 L296.3 192.7 L293.7 193.1 L291.1 193.7 L288.7 194.3 L286.3 194.9 L284.0 195.6 L281.8 196.4 L279.7 197.2 L277.7 198.1 L275.7 199.1 L273.9 200.1 L272.1 201.1 L270.4 202.3 L268.8 203.5 L267.3 204.7 L265.9 206.0 L264.6 207.3 L263.4 208.7 L262.3 210.2 L261.3 211.6 L260.4 213.2 L259.6 214.8Z" fill="#ffffff" fill-opacity="0.15" />
<g clip-path="url(#c_t2i)" opacity="0.62">
<path d="M417.2 261.1 L564.2 344.6 L558.2 348.9 Z" fill="#92a5cc" fill-opacity="0.16"/>
<path d="M417.2 261.1 L558.2 348.9 L553.5 351.3 Z" fill="#92a5cc" fill-opacity="0.17"/>
<path d="M417.2 261.1 L553.5 351.3 L541.2 355.1 Z" fill="#ffffff" fill-opacity="0.13"/>
<path d="M417.2 261.1 L536.1 356.1 L521.9 357.3 Z" fill="#ffffff" fill-opacity="0.30"/>
<path d="M417.2 261.1 L521.9 357.3 L501.4 356.4 Z" fill="#92a5cc" fill-opacity="0.17"/>
<path d="M417.2 261.1 L501.4 356.4 L493.3 355.5 Z" fill="#ffffff" fill-opacity="0.19"/>
<path d="M417.2 261.1 L493.3 355.5 L486.7 354.5 Z" fill="#ffffff" fill-opacity="0.12"/>
<path d="M417.2 261.1 L486.7 354.5 L480.4 353.4 Z" fill="#92a5cc" fill-opacity="0.13"/>
<path d="M417.2 261.1 L480.4 353.4 L458.4 348.3 Z" fill="#92a5cc" fill-opacity="0.17"/>
<path d="M417.2 261.1 L458.4 348.3 L442.4 343.5 Z" fill="#92a5cc" fill-opacity="0.14"/>
<path d="M417.2 261.1 L404.1 329.0 L383.7 319.5 Z" fill="#ffffff" fill-opacity="0.12"/>
<path d="M417.2 261.1 L383.7 319.5 L372.0 313.4 Z" fill="#ffffff" fill-opacity="0.24"/>
<path d="M417.2 261.1 L345.6 297.8 L325.6 284.1 Z" fill="#ffffff" fill-opacity="0.11"/>
<path d="M417.2 261.1 L325.6 284.1 L306.8 269.1 Z" fill="#92a5cc" fill-opacity="0.24"/>
<path d="M417.2 261.1 L306.8 269.1 L297.1 260.3 Z" fill="#ffffff" fill-opacity="0.21"/>
<path d="M417.2 261.1 L297.1 260.3 L284.2 246.8 Z" fill="#ffffff" fill-opacity="0.08"/>
<path d="M417.2 261.1 L277.8 238.9 L269.4 226.2 Z" fill="#ffffff" fill-opacity="0.12"/>
<path d="M417.2 261.1 L269.4 226.2 L266.9 221.5 Z" fill="#ffffff" fill-opacity="0.25"/>
<path d="M417.2 261.1 L266.9 221.5 L264.5 216.0 Z" fill="#92a5cc" fill-opacity="0.14"/>
<path d="M417.2 261.1 L264.5 216.0 L262.6 210.6 Z" fill="#92a5cc" fill-opacity="0.07"/>
<path d="M417.2 261.1 L262.6 210.6 L260.9 200.9 Z" fill="#ffffff" fill-opacity="0.16"/>
<path d="M417.2 261.1 L260.9 200.9 L261.0 196.0 Z" fill="#ffffff" fill-opacity="0.29"/>
<path d="M417.2 261.1 L261.0 196.0 L263.5 186.5 Z" fill="#ffffff" fill-opacity="0.27"/>
<path d="M417.2 261.1 L263.5 186.5 L265.8 182.6 Z" fill="#ffffff" fill-opacity="0.27"/>
<path d="M417.2 261.1 L265.8 182.6 L271.7 176.3 Z" fill="#ffffff" fill-opacity="0.30"/>
<path d="M417.2 261.1 L271.7 176.3 L276.0 173.4 Z" fill="#ffffff" fill-opacity="0.25"/>
<path d="M417.2 261.1 L276.0 173.4 L282.0 170.5 Z" fill="#ffffff" fill-opacity="0.08"/>
<path d="M417.2 261.1 L282.0 170.5 L286.2 168.9 Z" fill="#92a5cc" fill-opacity="0.10"/>
<path d="M417.2 261.1 L286.2 168.9 L297.2 166.3 Z" fill="#ffffff" fill-opacity="0.17"/>
<path d="M417.2 261.1 L297.2 166.3 L315.3 164.9 Z" fill="#92a5cc" fill-opacity="0.16"/>
<path d="M417.2 261.1 L315.3 164.9 L334.5 165.9 Z" fill="#ffffff" fill-opacity="0.10"/>
<path d="M417.2 261.1 L356.4 169.3 L367.0 171.6 Z" fill="#ffffff" fill-opacity="0.24"/>
<path d="M417.2 261.1 L367.0 171.6 L391.6 178.5 Z" fill="#ffffff" fill-opacity="0.29"/>
<path d="M417.2 261.1 L391.6 178.5 L415.7 187.1 Z" fill="#92a5cc" fill-opacity="0.13"/>
<path d="M417.2 261.1 L415.7 187.1 L424.0 190.5 Z" fill="#ffffff" fill-opacity="0.29"/>
<path d="M417.2 261.1 L424.0 190.5 L435.1 195.3 Z" fill="#92a5cc" fill-opacity="0.10"/>
<path d="M417.2 261.1 L435.1 195.3 L457.7 206.3 Z" fill="#92a5cc" fill-opacity="0.11"/>
<path d="M417.2 261.1 L457.7 206.3 L467.1 211.4 Z" fill="#92a5cc" fill-opacity="0.06"/>
<path d="M417.2 261.1 L467.1 211.4 L477.3 217.2 Z" fill="#92a5cc" fill-opacity="0.21"/>
<path d="M417.2 261.1 L477.3 217.2 L494.1 227.8 Z" fill="#ffffff" fill-opacity="0.28"/>
<path d="M417.2 261.1 L494.1 227.8 L503.0 233.9 Z" fill="#ffffff" fill-opacity="0.12"/>
<path d="M417.2 261.1 L503.0 233.9 L515.3 243.0 Z" fill="#ffffff" fill-opacity="0.10"/>
<path d="M417.2 261.1 L515.3 243.0 L525.7 251.4 Z" fill="#92a5cc" fill-opacity="0.07"/>
<path d="M417.2 261.1 L535.0 259.7 L550.5 275.8 Z" fill="#92a5cc" fill-opacity="0.18"/>
<path d="M417.2 261.1 L550.5 275.8 L559.1 286.7 Z" fill="#ffffff" fill-opacity="0.07"/>
<path d="M417.2 261.1 L568.3 302.3 L569.9 306.0 Z" fill="#92a5cc" fill-opacity="0.14"/>
<path d="M417.2 261.1 L569.9 306.0 L573.0 317.0 Z" fill="#ffffff" fill-opacity="0.30"/>
<path d="M417.2 261.1 L573.0 317.0 L573.5 320.9 Z" fill="#92a5cc" fill-opacity="0.19"/>
<path d="M417.2 261.1 L573.5 320.9 L572.4 331.9 Z" fill="#92a5cc" fill-opacity="0.18"/>
</g>
<path d="M627.4 193.3 L626.6 194.9 L625.7 196.5 L624.7 198.0 L623.5 199.4 L622.3 200.9 L621.0 202.2 L619.6 203.5 L618.1 204.8 L616.5 206.0 L614.8 207.1 L613.0 208.2 L611.2 209.3 L609.2 210.2 L607.2 211.1 L605.0 212.0 L602.8 212.8 L600.5 213.5 L598.1 214.2 L595.7 214.8 L593.1 215.4 L590.5 215.8 L587.8 216.3 L585.1 216.6 L582.2 216.9 L579.3 217.2 L576.3 217.3 L573.3 217.4 L570.2 217.5 L567.1 217.5 L563.8 217.4 L560.6 217.2 L557.2 217.0 L553.9 216.7 L550.4 216.4 L547.0 216.0 L543.4 215.5 L539.9 215.0 L536.3 214.4 L532.6 213.8 L529.0 213.1 L525.3 212.3 L521.5 211.5 L517.7 210.6 L514.0 209.6 L510.1 208.6 L506.3 207.5 L502.5 206.4 L498.6 205.2 L494.7 204.0 L490.9 202.7 L487.0 201.4 L483.1 200.0 L479.2 198.5 L475.3 197.0 L471.4 195.5 L467.5 193.9 L463.7 192.2 L459.8 190.5 L456.0 188.8 L452.1 187.0 L448.3 185.2 L444.5 183.3 L440.8 181.4 L437.1 179.5 L433.4 177.5 L429.7 175.5 L426.1 173.4 L422.5 171.3 L418.9 169.2 L415.4 167.1 L411.9 164.9 L408.5 162.7 L405.2 160.4 L401.9 158.2 L398.6 155.9 L395.4 153.6 L392.3 151.3 L389.2 148.9 L386.2 146.6 L383.2 144.2 L380.3 141.8 L377.5 139.4 L374.8 137.0 L372.1 134.6 L369.5 132.1 L367.0 129.7 L364.6 127.3 L362.2 124.8 L359.9 122.4 L357.7 120.0 L355.6 117.5 L353.6 115.1 L351.7 112.7 L349.8 110.3 L348.1 107.9 L346.4 105.5 L344.8 103.1 L343.4 100.7 L342.0 98.4 L340.7 96.1 L339.5 93.7 L338.4 91.5 L337.4 89.2 L336.5 86.9 L335.7 84.7 L335.0 82.5 L334.4 80.4 L333.9 78.2 L333.5 76.1 L333.3 74.1 L333.1 72.0 L333.0 70.0 L333.0 68.1 L333.1 66.2 L333.3 64.3 L333.6 62.4 L334.1 60.7 L334.6 58.9 L335.2 57.2 L335.9 55.5 L326.5 75.4 L325.8 77.1 L325.2 78.8 L324.7 80.5 L324.3 82.3 L323.9 84.2 L323.7 86.1 L323.6 88.0 L323.6 89.9 L323.7 91.9 L323.9 94.0 L324.2 96.0 L324.5 98.1 L325.0 100.3 L325.6 102.4 L326.3 104.6 L327.1 106.8 L328.0 109.1 L329.0 111.4 L330.1 113.6 L331.3 116.0 L332.6 118.3 L334.0 120.6 L335.4 123.0 L337.0 125.4 L338.7 127.8 L340.4 130.2 L342.3 132.6 L344.2 135.0 L346.2 137.4 L348.3 139.9 L350.5 142.3 L352.8 144.7 L355.2 147.2 L357.6 149.6 L360.1 152.0 L362.7 154.5 L365.4 156.9 L368.1 159.3 L370.9 161.7 L373.8 164.1 L376.8 166.5 L379.8 168.8 L382.9 171.2 L386.0 173.5 L389.2 175.8 L392.5 178.1 L395.8 180.3 L399.1 182.6 L402.6 184.8 L406.0 186.9 L409.5 189.1 L413.1 191.2 L416.7 193.3 L420.3 195.4 L424.0 197.4 L427.7 199.4 L431.4 201.3 L435.1 203.2 L438.9 205.1 L442.7 206.9 L446.6 208.7 L450.4 210.4 L454.3 212.1 L458.1 213.8 L462.0 215.4 L465.9 216.9 L469.8 218.4 L473.7 219.9 L477.6 221.3 L481.5 222.6 L485.3 223.9 L489.2 225.1 L493.1 226.3 L496.9 227.4 L500.8 228.5 L504.6 229.5 L508.4 230.5 L512.1 231.4 L515.9 232.2 L519.6 233.0 L523.2 233.7 L526.9 234.3 L530.5 234.9 L534.0 235.4 L537.6 235.9 L541.0 236.3 L544.5 236.6 L547.8 236.9 L551.2 237.1 L554.4 237.3 L557.7 237.4 L560.8 237.4 L563.9 237.3 L567.0 237.2 L569.9 237.1 L572.8 236.8 L575.7 236.5 L578.4 236.2 L581.1 235.7 L583.7 235.2 L586.3 234.7 L588.7 234.1 L591.1 233.4 L593.4 232.7 L595.6 231.9 L597.8 231.0 L599.8 230.1 L601.8 229.1 L603.6 228.1 L605.4 227.0 L607.1 225.9 L608.7 224.7 L610.2 223.4 L611.6 222.1 L612.9 220.8 L614.1 219.3 L615.3 217.9 L616.3 216.4 L617.2 214.8 L618.0 213.2Z" fill="url(#g3)" fill-opacity="0.88" />
<path d="M627.4 193.3 L625.7 196.5 L623.5 199.5 L621.0 202.2 L618.1 204.8 L614.8 207.1 L611.1 209.3 L607.1 211.1 L602.8 212.8 L598.1 214.2 L593.1 215.4 L587.8 216.3 L582.2 216.9 L576.3 217.3 L570.2 217.5 L563.8 217.4 L557.2 217.0 L550.4 216.4 L543.4 215.5 L536.2 214.4 L528.9 213.1 L521.5 211.4 L513.9 209.6 L506.3 207.5 L498.6 205.2 L490.8 202.7 L483.0 199.9 L475.3 197.0 L467.5 193.9 L459.8 190.5 L452.1 187.0 L444.5 183.3 L437.0 179.5 L429.7 175.4 L422.4 171.3 L415.4 167.0 L408.5 162.6 L401.8 158.1 L395.4 153.6 L389.2 148.9 L383.2 144.2 L377.5 139.4 L372.1 134.5 L367.0 129.7 L362.2 124.8 L357.7 119.9 L353.6 115.1 L349.8 110.3 L346.4 105.5 L343.3 100.7 L340.7 96.0 L338.4 91.4 L336.5 86.9 L335.0 82.5 L333.9 78.2 L333.2 74.1 L333.0 70.0 L333.1 66.2 L333.6 62.4 L334.6 58.9 L335.9 55.5 L337.7 52.3 L339.8 49.3 L342.4 46.6 L345.3 44.0 L348.6 41.7 L352.2 39.5 L356.2 37.7 L360.6 36.0 L365.3 34.6 L370.3 33.4 L375.6 32.5 L381.2 31.9 L387.0 31.5 L393.2 31.3 L399.5 31.4 L406.1 31.8 L413.0 32.4 L420.0 33.3 L427.1 34.4 L434.4 35.7 L441.9 37.4 L449.4 39.2 L457.1 41.3 L464.8 43.6 L472.5 46.1 L480.3 48.9 L488.1 51.8 L495.9 54.9 L503.6 58.3 L511.3 61.8 L518.9 65.5 L526.3 69.3 L533.7 73.4 L540.9 77.5 L548.0 81.8 L554.9 86.2 L561.5 90.7 L568.0 95.2 L574.2 99.9 L580.2 104.6 L585.9 109.4 L591.3 114.3 L596.4 119.1 L601.2 124.0 L605.7 128.9 L609.8 133.7 L613.6 138.5 L617.0 143.3 L620.0 148.1 L622.7 152.8 L625.0 157.4 L626.9 161.9 L628.3 166.3 L629.4 170.6 L630.1 174.7 L630.4 178.8 L630.3 182.6 L629.7 186.4 L628.8 189.9 L627.4 193.3Z" fill="#b8c5dc" fill-opacity="0.88" />
<path d="M335.9 55.5 L336.8 53.9 L337.7 52.3 L338.7 50.8 L339.8 49.4 L341.0 47.9 L342.4 46.6 L343.8 45.3 L345.3 44.0 L346.9 42.8 L348.5 41.7 L350.3 40.6 L352.2 39.5 L354.2 38.6 L356.2 37.7 L358.3 36.8 L360.6 36.0 L362.9 35.3 L365.2 34.6 L367.7 34.0 L370.2 33.4 L372.9 33.0 L375.5 32.5 L378.3 32.2 L381.1 31.9 L384.0 31.6 L387.0 31.5 L390.0 31.4 L393.1 31.3 L396.3 31.3 L399.5 31.4 L402.8 31.6 L406.1 31.8 L409.5 32.1 L412.9 32.4 L416.4 32.8 L419.9 33.3 L423.5 33.8 L427.1 34.4 L430.7 35.0 L434.4 35.7 L438.1 36.5 L441.8 37.3 L445.6 38.2 L449.4 39.2 L453.2 40.2 L457.0 41.3 L460.9 42.4 L464.7 43.6 L468.6 44.8 L472.5 46.1 L476.4 47.4 L480.3 48.8 L484.2 50.3 L488.1 51.8 L492.0 53.3 L495.8 54.9 L499.7 56.6 L503.6 58.3 L507.4 60.0 L511.2 61.8 L515.0 63.6 L518.8 65.5 L522.6 67.4 L526.3 69.3 L530.0 71.3 L533.7 73.3 L537.3 75.4 L540.9 77.5 L544.4 79.6 L547.9 81.7 L551.4 83.9 L554.8 86.1 L558.2 88.4 L561.5 90.6 L564.8 92.9 L568.0 95.2 L571.1 97.5 L574.2 99.9 L577.2 102.2 L580.1 104.6 L583.0 107.0 L585.8 109.4 L588.6 111.8 L591.3 114.2 L593.8 116.7 L596.4 119.1 L598.8 121.5 L601.2 124.0 L603.4 126.4 L605.6 128.8 L607.7 131.3 L609.8 133.7 L611.7 136.1 L613.5 138.5 L615.3 140.9 L617.0 143.3 L618.5 145.7 L620.0 148.1 L621.4 150.4 L622.7 152.7 L623.9 155.1 L625.0 157.3 L625.9 159.6 L626.8 161.9 L627.6 164.1 L628.3 166.3 L628.9 168.4 L629.4 170.6 L629.8 172.7 L630.1 174.7 L630.3 176.8 L630.4 178.8 L630.4 180.7 L630.3 182.6 L630.0 184.5 L629.7 186.4 L629.3 188.1 L628.8 189.9 L628.1 191.6 L627.4 193.3 L618.0 213.2 L618.8 211.5 L619.4 209.8 L619.9 208.0 L620.3 206.2 L620.6 204.4 L620.9 202.5 L621.0 200.6 L621.0 198.6 L620.9 196.7 L620.7 194.6 L620.4 192.6 L620.0 190.5 L619.5 188.3 L618.9 186.2 L618.2 184.0 L617.5 181.7 L616.6 179.5 L615.6 177.2 L614.5 174.9 L613.3 172.6 L612.0 170.3 L610.6 168.0 L609.1 165.6 L607.6 163.2 L605.9 160.8 L604.2 158.4 L602.3 156.0 L600.4 153.6 L598.4 151.2 L596.2 148.7 L594.0 146.3 L591.8 143.9 L589.4 141.4 L587.0 139.0 L584.5 136.6 L581.9 134.1 L579.2 131.7 L576.5 129.3 L573.6 126.9 L570.8 124.5 L567.8 122.1 L564.8 119.8 L561.7 117.4 L558.6 115.1 L555.4 112.8 L552.1 110.5 L548.8 108.3 L545.4 106.0 L542.0 103.8 L538.6 101.6 L535.0 99.5 L531.5 97.4 L527.9 95.3 L524.3 93.2 L520.6 91.2 L516.9 89.2 L513.2 87.3 L509.4 85.4 L505.6 83.5 L501.8 81.7 L498.0 79.9 L494.2 78.2 L490.3 76.5 L486.4 74.8 L482.6 73.2 L478.7 71.7 L474.8 70.2 L470.9 68.7 L467.0 67.3 L463.1 66.0 L459.2 64.7 L455.4 63.5 L451.5 62.3 L447.6 61.2 L443.8 60.1 L440.0 59.1 L436.2 58.1 L432.5 57.2 L428.7 56.4 L425.0 55.6 L421.3 54.9 L417.7 54.3 L414.1 53.7 L410.5 53.2 L407.0 52.7 L403.5 52.3 L400.1 52.0 L396.7 51.7 L393.4 51.5 L390.1 51.3 L386.9 51.2 L383.8 51.2 L380.7 51.3 L377.6 51.4 L374.7 51.5 L371.7 51.8 L368.9 52.1 L366.2 52.4 L363.5 52.9 L360.8 53.3 L358.3 53.9 L355.8 54.5 L353.5 55.2 L351.2 55.9 L348.9 56.7 L346.8 57.6 L344.8 58.5 L342.8 59.4 L340.9 60.5 L339.2 61.6 L337.5 62.7 L335.9 63.9 L334.4 65.2 L333.0 66.5 L331.6 67.8 L330.4 69.3 L329.3 70.7 L328.3 72.2 L327.4 73.8 L326.5 75.4Z" fill="#ffffff" fill-opacity="0.16" />
<path d="M634.4 364.0 L631.8 368.7 L628.6 373.1 L624.9 377.2 L620.6 380.9 L615.7 384.4 L610.2 387.5 L604.2 390.2 L597.8 392.6 L590.8 394.6 L583.3 396.3 L575.4 397.6 L567.0 398.5 L558.2 399.0 L549.0 399.2 L539.5 398.9 L529.6 398.3 L519.4 397.4 L508.9 396.0 L498.2 394.3 L487.3 392.2 L476.1 389.7 L464.8 386.9 L453.3 383.8 L441.8 380.3 L430.1 376.4 L418.5 372.3 L406.8 367.9 L395.1 363.1 L383.5 358.1 L372.0 352.8 L360.6 347.3 L349.4 341.5 L338.3 335.5 L327.5 329.3 L316.9 322.9 L306.5 316.3 L296.5 309.6 L286.8 302.8 L277.4 295.8 L268.5 288.8 L259.9 281.6 L251.7 274.4 L244.0 267.2 L236.8 259.9 L230.1 252.7 L223.8 245.5 L218.1 238.3 L213.0 231.1 L208.4 224.1 L204.3 217.1 L200.9 210.3 L198.0 203.6 L195.7 197.1 L194.1 190.7 L193.0 184.6 L192.5 178.6 L192.7 172.9 L193.5 167.4 L194.8 162.1 L196.8 157.2 L199.4 152.5 L202.6 148.1 L206.3 144.0 L210.7 140.3 L215.6 136.8 L221.0 133.7 L227.0 131.0 L233.5 128.6 L240.5 126.6 L247.9 124.9 L255.9 123.6 L264.2 122.7 L273.0 122.2 L282.2 122.0 L291.7 122.3 L301.6 122.9 L311.8 123.8 L322.3 125.2 L333.0 126.9 L344.0 129.0 L355.1 131.5 L366.4 134.3 L377.9 137.4 L389.5 140.9 L401.1 144.8 L412.8 148.9 L424.4 153.3 L436.1 158.1 L447.7 163.1 L459.2 168.4 L470.6 173.9 L481.8 179.7 L492.9 185.7 L503.7 191.9 L514.3 198.3 L524.7 204.9 L534.7 211.6 L544.4 218.4 L553.8 225.4 L562.8 232.4 L571.3 239.6 L579.5 246.8 L587.2 254.0 L594.4 261.3 L601.1 268.5 L607.4 275.7 L613.1 282.9 L618.2 290.1 L622.8 297.1 L626.9 304.1 L630.3 310.9 L633.2 317.6 L635.5 324.1 L637.2 330.5 L638.2 336.6 L638.7 342.6 L638.5 348.3 L637.8 353.8 L636.4 359.1 L634.4 364.0Z" fill="#ffffff" fill-opacity="0.13" clip-path="url(#c_t3)"/>
<path d="M38.8 307.5 L38.8 307.5 L38.8 307.4 L38.8 307.4M40.5 304.1 L41.1 303.0 L41.8 301.9 L42.4 300.9M44.6 297.7 L45.4 296.7 L46.2 295.7 L47.0 294.7M49.6 291.8 L50.5 290.9 L51.5 290.0 L52.4 289.1M55.5 286.4 L56.5 285.5 L57.6 284.7 L58.7 283.9M62.2 281.5 L63.4 280.7 L64.6 279.9 L65.9 279.2M69.7 277.0 L71.1 276.3 L72.4 275.7 L73.8 275.0M78.1 273.1 L79.5 272.5 L81.0 271.9 L82.5 271.4M87.2 269.7 L88.8 269.2 L90.4 268.7 L92.1 268.2M97.1 266.9 L98.8 266.5 L100.5 266.1 L102.3 265.7M107.7 264.6 L109.5 264.3 L111.4 264.0 L113.3 263.7M119.0 262.9 L120.9 262.7 L122.9 262.4 L124.9 262.2M130.9 261.7 L133.0 261.6 L135.1 261.5 L137.1 261.4M143.5 261.1 L145.7 261.1 L147.8 261.1 L150.0 261.0M156.6 261.1 L158.9 261.2 L161.1 261.2 L163.4 261.3M170.3 261.7 L172.7 261.8 L175.0 262.0 L177.4 262.1M184.5 262.8 L186.9 263.0 L189.3 263.3 L191.8 263.5M199.1 264.4 L201.6 264.8 L204.1 265.1 L206.6 265.5M214.2 266.7 L216.7 267.1 L219.3 267.5 L221.8 268.0M229.6 269.5 L232.2 270.0 L234.8 270.5 L237.4 271.1M245.3 272.8 L247.9 273.4 L250.6 274.0 L253.2 274.7M261.2 276.7 L263.9 277.4 L266.6 278.1 L269.3 278.8M277.4 281.1 L280.1 281.8 L282.9 282.6 L285.6 283.4M293.8 285.9 L296.5 286.8 L299.2 287.7 L302.0 288.6M310.2 291.3 L313.0 292.3 L315.7 293.2 L318.5 294.2M326.8 297.2 L329.5 298.2 L332.3 299.3 L335.0 300.3M343.3 303.5 L346.1 304.6 L348.8 305.7 L351.6 306.9M359.8 310.3 L362.5 311.5 L365.3 312.6 L368.0 313.8M376.2 317.5 L378.9 318.7 L381.6 319.9 L384.4 321.2M392.5 325.0 L395.2 326.3 L397.9 327.6 L400.5 329.0M408.6 333.0 L411.2 334.3 L413.9 335.7 L416.5 337.1M424.4 341.3 L427.0 342.7 L429.6 344.1 L432.2 345.5M439.9 349.9 L442.5 351.4 L445.0 352.8 L447.6 354.3M455.1 358.8 L457.6 360.3 L460.1 361.8 L462.6 363.4M470.0 368.0 L472.4 369.5 L474.8 371.1 L477.2 372.7M484.4 377.4 L486.7 379.0 L489.1 380.6 L491.4 382.2M498.3 387.0 L500.5 388.7 L502.8 390.3 L505.0 391.9M511.7 396.8 L513.9 398.5 L516.0 400.1 L518.2 401.8M524.5 406.8 L526.6 408.5 L528.7 410.1 L530.7 411.8M536.8 416.9 L538.7 418.6 L540.7 420.3 L542.6 421.9M548.4 427.0 L550.2 428.7 L552.1 430.4 L553.9 432.1M559.3 437.3 L561.0 439.0 L562.8 440.7 L564.5 442.4M569.5 447.5 L571.1 449.2 L572.8 450.9 L574.3 452.6M579.0 457.8 L580.5 459.5 L582.0 461.2 L583.5 462.9M587.7 468.0 L589.1 469.6 L590.4 471.3 L591.8 473.0M595.6 478.1 L596.9 479.8 L598.1 481.4 L599.3 483.1M602.7 488.1 L603.8 489.8 L604.9 491.4 L606.0 493.1M609.0 498.0 L610.0 499.7 L610.9 501.3 L611.8 502.9M614.4 507.8 L615.2 509.4 L616.0 511.0 L616.8 512.6M618.9 517.3 L619.6 518.9 L620.2 520.4 L620.9 522.0M622.6 526.6 L623.1 528.2 L623.6 529.7 L624.0 531.2M625.3 535.7 L625.7 537.2 L626.0 538.7 L626.3 540.1M627.1 544.5 L627.3 545.9 L627.5 547.3 L627.7 548.8M628.0 553.0 L628.1 554.4 L628.1 555.7 L628.1 557.1M628.0 561.1 L627.9 562.4 L627.8 563.8 L627.7 565.1M627.1 568.9 L626.8 570.2 L626.6 571.4 L626.3 572.7M625.2 576.3 L624.8 577.5 L624.4 578.7 L624.0 579.9" fill="none" stroke="#b4c0d5" stroke-width="3.90" stroke-linecap="butt" stroke-linejoin="round" />
<path d="M619.9 582.1 L619.4 583.3 L618.8 584.4 L618.2 585.5M616.3 588.7 L615.6 589.7 L614.9 590.7 L614.1 591.8M611.8 594.8 L610.9 595.7 L610.1 596.7 L609.2 597.6M606.4 600.4 L605.4 601.3 L604.4 602.1 L603.4 603.0M600.2 605.5 L599.0 606.3 L597.9 607.1 L596.7 607.9M593.1 610.2 L591.8 610.9 L590.6 611.6 L589.3 612.3M585.2 614.3 L583.8 614.9 L582.4 615.6 L581.0 616.2M576.5 617.9 L575.0 618.5 L573.5 619.0 L571.9 619.5M567.1 621.0 L565.5 621.5 L563.8 621.9 L562.1 622.3M557.0 623.5 L555.2 623.9 L553.4 624.3 L551.6 624.6M546.1 625.5 L544.2 625.8 L542.3 626.1 L540.4 626.3M534.6 627.0 L532.6 627.1 L530.6 627.3 L528.6 627.5M522.4 627.8 L520.3 627.9 L518.2 628.0 L516.1 628.1M509.7 628.1 L507.5 628.1 L505.3 628.1 L503.1 628.1M496.4 627.9 L494.1 627.8 L491.8 627.7 L489.5 627.5M482.6 627.1 L480.2 626.9 L477.8 626.7 L475.5 626.4M468.3 625.7 L465.9 625.4 L463.4 625.1 L461.0 624.8M453.6 623.7 L451.1 623.4 L448.6 623.0 L446.1 622.6M438.5 621.2 L435.9 620.8 L433.4 620.3 L430.8 619.8M423.1 618.2 L420.5 617.6 L417.9 617.1 L415.2 616.5M407.4 614.6 L404.7 614.0 L402.1 613.3 L399.4 612.7M391.4 610.5 L388.7 609.8 L386.0 609.1 L383.4 608.3M375.3 605.9 L372.6 605.1 L369.9 604.3 L367.2 603.4M359.0 600.8 L356.3 599.9 L353.6 599.0 L350.8 598.1M342.6 595.3 L339.9 594.3 L337.2 593.3 L334.5 592.3M326.3 589.2 L323.5 588.2 L320.8 587.1 L318.1 586.0M309.9 582.7 L307.1 581.6 L304.4 580.5 L301.7 579.3M293.6 575.8 L290.8 574.6 L288.1 573.4 L285.4 572.2M277.3 568.5 L274.7 567.2 L272.0 566.0 L269.3 564.7M261.3 560.8 L258.7 559.5 L256.0 558.2 L253.4 556.8M245.5 552.8 L242.9 551.4 L240.3 550.0 L237.7 548.6M229.9 544.4 L227.4 542.9 L224.8 541.5 L222.3 540.1M214.7 535.7 L212.2 534.2 L209.7 532.7 L207.2 531.2M199.8 526.7 L197.3 525.2 L194.9 523.7 L192.5 522.1M185.3 517.5 L182.9 515.9 L180.6 514.4 L178.2 512.8M171.3 508.0 L169.0 506.4 L166.7 504.8 L164.4 503.2M157.7 498.4 L155.5 496.8 L153.3 495.2 L151.1 493.5M144.7 488.6 L142.6 487.0 L140.5 485.3 L138.4 483.7M132.3 478.7 L130.3 477.0 L128.3 475.3 L126.3 473.7M120.4 468.6 L118.5 466.9 L116.6 465.3 L114.8 463.6M109.3 458.5 L107.5 456.8 L105.7 455.1 L103.9 453.4M98.8 448.4 L97.1 446.7 L95.4 445.0 L93.8 443.3M89.0 438.2 L87.5 436.5 L85.9 434.8 L84.4 433.1M80.0 428.1 L78.6 426.4 L77.1 424.7 L75.8 423.0M71.7 418.0 L70.4 416.3 L69.2 414.6 L67.9 413.0M64.3 408.0 L63.1 406.3 L62.0 404.7 L60.9 403.0M57.7 398.1 L56.6 396.5 L55.6 394.8 L54.7 393.2M51.9 388.4 L51.0 386.8 L50.1 385.2 L49.3 383.6M46.9 378.8 L46.2 377.2 L45.5 375.7 L44.8 374.1M42.9 369.5 L42.3 367.9 L41.7 366.4 L41.2 364.9M39.7 360.3 L39.3 358.8 L38.9 357.4 L38.5 355.9M37.5 351.5 L37.2 350.0 L36.9 348.6 L36.7 347.2M36.1 342.9 L36.0 341.5 L35.9 340.1 L35.8 338.7M35.7 334.7 L35.7 333.3 L35.8 332.0 L35.8 330.7M36.2 326.8 L36.3 325.5 L36.5 324.2 L36.7 322.9M37.5 319.2 L37.9 318.0 L38.2 316.8 L38.6 315.6M39.8 312.1 L40.3 310.9 L40.8 309.8 L41.3 308.7" fill="none" stroke="#c0cadb" stroke-width="3.00" stroke-linecap="butt" stroke-linejoin="round" mask="url(#out23)"/>
<path d="M548.5 548.6 L548.0 549.7 L547.4 550.9 L546.7 552.0M544.7 555.2 L543.9 556.2 L543.1 557.2 L542.3 558.2M539.6 561.1 L538.6 562.0 L537.7 563.0 L536.6 563.9M533.4 566.4 L532.2 567.2 L531.1 568.0 L529.8 568.8M526.0 571.0 L524.7 571.7 L523.3 572.4 L521.9 573.1M517.6 575.0 L516.0 575.5 L514.5 576.1 L512.9 576.6M508.0 578.1 L506.4 578.6 L504.6 579.0 L502.9 579.5M497.5 580.6 L495.7 580.9 L493.8 581.2 L491.9 581.5M486.1 582.3 L484.1 582.5 L482.1 582.7 L480.0 582.8M473.8 583.2 L471.6 583.3 L469.5 583.3 L467.3 583.4M460.6 583.4 L458.4 583.3 L456.1 583.2 L453.8 583.1M446.8 582.7 L444.4 582.6 L442.0 582.4 L439.6 582.1M432.3 581.3 L429.8 581.0 L427.3 580.7 L424.8 580.4M417.2 579.2 L414.6 578.8 L412.0 578.3 L409.4 577.8M401.6 576.3 L398.9 575.7 L396.3 575.2 L393.6 574.6M385.6 572.7 L382.9 572.0 L380.2 571.3 L377.5 570.6M369.3 568.3 L366.6 567.5 L363.8 566.7 L361.1 565.9M352.8 563.3 L350.0 562.4 L347.3 561.4 L344.5 560.5M336.2 557.6 L333.4 556.6 L330.6 555.5 L327.8 554.5M319.5 551.3 L316.7 550.1 L313.9 549.0 L311.2 547.9M302.9 544.3 L300.1 543.1 L297.3 541.9 L294.6 540.7M286.4 536.9 L283.7 535.6 L280.9 534.3 L278.2 532.9M270.2 528.9 L267.5 527.5 L264.8 526.1 L262.2 524.7M254.3 520.4 L251.7 519.0 L249.1 517.5 L246.5 516.0M238.8 511.6 L236.3 510.0 L233.7 508.5 L231.2 507.0M223.8 502.3 L221.4 500.7 L219.0 499.2 L216.6 497.6M209.5 492.7 L207.1 491.1 L204.8 489.5 L202.5 487.9M195.8 482.9 L193.5 481.3 L191.3 479.6 L189.2 477.9M182.8 472.9 L180.7 471.2 L178.7 469.5 L176.6 467.8M170.7 462.7 L168.7 461.0 L166.8 459.3 L164.9 457.5M159.4 452.4 L157.6 450.7 L155.9 448.9 L154.2 447.2M149.1 442.0 L147.5 440.3 L145.9 438.6 L144.4 436.9M139.9 431.7 L138.4 430.0 L137.0 428.3 L135.6 426.6M131.6 421.5 L130.4 419.8 L129.2 418.1 L128.0 416.4M124.5 411.4 L123.5 409.7 L122.4 408.1 L121.4 406.4M118.6 401.5 L117.7 399.8 L116.9 398.2 L116.0 396.6M113.8 391.8 L113.1 390.2 L112.5 388.6 L111.9 387.1M110.2 382.4 L109.7 380.9 L109.3 379.4 L108.9 377.9M107.9 373.4 L107.6 371.9 L107.4 370.5 L107.2 369.0M106.8 364.8 L106.7 363.4 L106.7 362.0 L106.7 360.6M106.9 356.6 L107.1 355.3 L107.2 354.0 L107.5 352.7M108.3 348.9 L108.7 347.7 L109.0 346.5 L109.5 345.3M110.9 341.8 L111.5 340.6 L112.1 339.5 L112.7 338.4M114.8 335.2 L115.5 334.2 L116.3 333.2 L117.2 332.2M119.8 329.3 L120.8 328.3 L121.8 327.4 L122.8 326.5M126.1 324.0 L127.2 323.1 L128.4 322.3 L129.6 321.6M133.4 319.3 L134.8 318.6 L136.1 318.0 L137.5 317.3M141.9 315.4 L143.4 314.8 L144.9 314.3 L146.5 313.7M151.4 312.2 L153.1 311.8 L154.8 311.3 L156.5 310.9M161.9 309.8 L163.8 309.5 L165.6 309.1 L167.5 308.8M173.4 308.1 L175.4 307.9 L177.4 307.7 L179.4 307.5M185.7 307.2 L187.8 307.1 L190.0 307.0 L192.2 307.0M198.8 307.0 L201.1 307.1 L203.4 307.1 L205.7 307.2M212.7 307.6 L215.0 307.8 L217.4 308.0 L219.9 308.2M227.2 309.0 L229.7 309.3 L232.2 309.7 L234.7 310.0M242.3 311.2 L244.8 311.6 L247.4 312.1 L250.0 312.5M257.9 314.1 L260.5 314.6 L263.1 315.2 L265.8 315.8M273.8 317.7 L276.5 318.4 L279.2 319.1 L281.9 319.8M290.1 322.1 L292.9 322.9 L295.6 323.7 L298.4 324.5M306.6 327.1 L309.4 328.0 L312.2 328.9 L315.0 329.9M323.3 332.8 L326.1 333.8 L328.8 334.8 L331.6 335.9M340.0 339.1 L342.7 340.2 L345.5 341.4 L348.3 342.5M356.6 346.0 L359.3 347.3 L362.1 348.5 L364.8 349.7M373.1 353.5 L375.8 354.8 L378.5 356.1 L381.2 357.4M389.3 361.5 L392.0 362.9 L394.6 364.3 L397.3 365.7M405.2 370.0 L407.8 371.4 L410.4 372.9 L413.0 374.3M420.7 378.8 L423.2 380.3 L425.7 381.9 L428.2 383.4M435.6 388.1 L438.1 389.6 L440.5 391.2 L442.9 392.8M450.0 397.6 L452.3 399.3 L454.6 400.9 L456.9 402.5M463.7 407.5 L465.9 409.1 L468.1 410.8 L470.3 412.5M476.6 417.5 L478.7 419.2 L480.8 420.9 L482.8 422.6M488.8 427.7 L490.7 429.4 L492.6 431.1 L494.5 432.8M500.0 438.0 L501.8 439.7 L503.6 441.4 L505.3 443.2M510.3 448.3 L511.9 450.1 L513.5 451.8 L515.1 453.5M519.6 458.7 L521.0 460.4 L522.4 462.1 L523.8 463.8M527.8 468.9 L529.1 470.6 L530.3 472.3 L531.5 474.0M534.9 479.0 L536.0 480.7 L537.0 482.3 L538.0 484.0M540.9 488.9 L541.7 490.6 L542.6 492.2 L543.4 493.8M545.6 498.6 L546.3 500.2 L547.0 501.8 L547.6 503.3M549.2 508.0 L549.7 509.5 L550.1 511.0 L550.5 512.5M551.6 517.0 L551.8 518.5 L552.1 519.9 L552.3 521.4M552.7 525.6 L552.7 527.0 L552.8 528.4 L552.8 529.8M552.5 533.8 L552.4 535.1 L552.2 536.4 L552.0 537.7M551.1 541.5 L550.8 542.7 L550.4 543.9 L550.0 545.1M548.5 548.6 L548.5 548.6 L548.5 548.6 L548.5 548.6" fill="none" stroke="#a1b3d3" stroke-width="4.00" stroke-linecap="butt" stroke-linejoin="round" />
<path d="M475.4 513.8 L474.8 514.9 L474.2 516.0 L473.5 517.1M471.2 520.2 L470.3 521.2 L469.4 522.1 L468.4 523.1M465.3 525.7 L464.1 526.5 L462.9 527.3 L461.6 528.1M457.6 530.2 L456.2 530.8 L454.7 531.4 L453.2 532.0M448.4 533.6 L446.7 534.0 L444.9 534.4 L443.2 534.8M437.6 535.8 L435.7 536.1 L433.7 536.3 L431.7 536.5M425.5 537.0 L423.4 537.0 L421.2 537.1 L419.0 537.1M412.2 536.9 L409.9 536.8 L407.5 536.7 L405.1 536.5M397.8 535.8 L395.4 535.5 L392.8 535.1 L390.3 534.7M382.6 533.4 L380.0 532.9 L377.4 532.4 L374.8 531.9M366.7 530.0 L364.1 529.3 L361.3 528.6 L358.6 527.9M350.4 525.5 L347.7 524.7 L344.9 523.8 L342.1 522.9M333.8 520.0 L331.0 519.0 L328.2 517.9 L325.5 516.9M317.1 513.5 L314.4 512.4 L311.6 511.2 L308.9 510.0M300.6 506.2 L297.9 504.9 L295.2 503.6 L292.5 502.2M284.5 498.1 L281.9 496.7 L279.2 495.2 L276.6 493.8M268.9 489.3 L266.4 487.8 L263.9 486.3 L261.4 484.7M254.1 480.0 L251.8 478.4 L249.4 476.8 L247.1 475.2M240.3 470.2 L238.1 468.6 L235.9 466.9 L233.8 465.2M227.5 460.1 L225.5 458.4 L223.6 456.7 L221.7 455.0M216.1 449.9 L214.3 448.1 L212.6 446.4 L210.9 444.7M206.1 439.5 L204.6 437.8 L203.1 436.1 L201.6 434.4M197.6 429.2 L196.4 427.6 L195.2 425.9 L194.0 424.2M190.8 419.2 L189.8 417.5 L188.9 415.9 L188.1 414.2M185.7 409.4 L185.1 407.8 L184.5 406.3 L183.9 404.7M182.5 400.1 L182.1 398.6 L181.8 397.1 L181.6 395.7M181.1 391.4 L181.0 390.0 L181.0 388.6 L181.1 387.2M181.6 383.3 L181.8 382.0 L182.1 380.8 L182.5 379.5M183.9 376.0 L184.5 374.9 L185.1 373.8 L185.7 372.7M188.0 369.6 L188.9 368.6 L189.8 367.6 L190.8 366.7M194.0 364.1 L195.1 363.3 L196.3 362.5 L197.6 361.7M201.6 359.6 L203.1 359.0 L204.5 358.4 L206.1 357.8M210.9 356.2 L212.6 355.8 L214.3 355.3 L216.1 354.9M221.6 353.9 L223.6 353.7 L225.5 353.4 L227.5 353.2M233.7 352.8 L235.9 352.7 L238.1 352.7 L240.3 352.7M247.1 352.8 L249.4 353.0 L251.7 353.1 L254.1 353.3M261.4 354.0 L263.9 354.3 L266.4 354.7 L268.9 355.0M276.6 356.3 L279.2 356.8 L281.8 357.4 L284.5 357.9M292.5 359.8 L295.2 360.5 L297.9 361.2 L300.6 361.9M308.8 364.3 L311.6 365.1 L314.4 366.0 L317.1 366.9M325.4 369.8 L328.2 370.8 L331.0 371.9 L333.8 372.9M342.1 376.3 L344.9 377.4 L347.6 378.6 L350.4 379.8M358.6 383.6 L361.3 384.9 L364.0 386.2 L366.7 387.6M374.7 391.7 L377.4 393.1 L380.0 394.5 L382.6 396.0M390.3 400.5 L392.8 402.0 L395.3 403.5 L397.8 405.1M405.1 409.8 L407.5 411.4 L409.8 413.0 L412.2 414.6M419.0 419.6 L421.2 421.2 L423.3 422.9 L425.5 424.6M431.7 429.6 L433.7 431.3 L435.7 433.1 L437.6 434.8M443.1 439.9 L444.9 441.6 L446.6 443.4 L448.3 445.1M453.2 450.3 L454.7 452.0 L456.2 453.7 L457.6 455.4M461.6 460.5 L462.9 462.2 L464.1 463.9 L465.2 465.6M468.4 470.6 L469.4 472.3 L470.3 473.9 L471.2 475.5M473.5 480.4 L474.2 481.9 L474.8 483.5 L475.4 485.1M476.8 489.7 L477.1 491.2 L477.4 492.7 L477.7 494.1M478.2 498.4 L478.2 499.8 L478.2 501.2 L478.2 502.5M477.7 506.5 L477.4 507.8 L477.1 509.0 L476.8 510.2M475.4 513.8 L475.4 513.8 L475.4 513.8 L475.4 513.8" fill="none" stroke="#8da3cb" stroke-width="4.10" stroke-linecap="butt" stroke-linejoin="round" />
<path d="M631.4 564.4 L628.0 570.6 L623.8 576.4 L618.8 581.8 L613.0 586.8 L606.5 591.3 L599.3 595.4 L591.3 599.0 L582.7 602.2 L573.4 604.8 L563.4 607.0 L552.9 608.7 L541.7 609.9 L530.0 610.6 L517.8 610.7 L505.1 610.4 L491.9 609.6 L478.3 608.2 L464.4 606.4 L450.1 604.1 L435.4 601.3 L420.6 598.0 L405.5 594.2 L390.2 590.0 L374.8 585.3 L359.3 580.2 L343.7 574.7 L328.1 568.8 L312.6 562.4 L297.1 555.7 L281.8 548.7 L266.6 541.3 L251.6 533.6 L236.8 525.6 L222.4 517.3 L208.2 508.8 L194.4 500.1 L181.0 491.1 L168.1 482.0 L155.6 472.7 L143.6 463.3 L132.2 453.8 L121.3 444.2 L111.0 434.6 L101.4 425.0 L92.4 415.3 L84.0 405.7 L76.4 396.1 L69.5 386.7 L63.3 377.3 L57.9 368.1 L53.3 359.0 L49.5 350.1 L46.4 341.4 L44.2 333.0 L42.7 324.8 L42.1 316.9 L42.3 309.3 L43.3 302.0 L45.1 295.0 L47.7 288.4 L51.2 282.2 L55.4 276.4 L60.4 271.0 L66.1 266.0 L72.7 261.5 L79.9 257.4 L87.8 253.8 L96.5 250.6 L105.8 248.0 L115.7 245.8 L126.3 244.1 L137.5 242.9 L149.2 242.2 L161.4 242.1 L174.1 242.4 L187.3 243.2 L200.8 244.6 L214.8 246.4 L229.1 248.7 L243.7 251.5 L258.6 254.8 L273.7 258.6 L289.0 262.8 L304.4 267.5 L319.9 272.6 L335.4 278.1 L351.0 284.0 L366.6 290.4 L382.0 297.1 L397.4 304.1 L412.6 311.5 L427.6 319.2 L442.3 327.2 L456.8 335.5 L470.9 344.0 L484.7 352.7 L498.1 361.7 L511.1 370.8 L523.6 380.1 L535.6 389.5 L547.0 399.0 L557.9 408.6 L568.2 418.2 L577.8 427.8 L586.8 437.5 L595.1 447.1 L602.8 456.7 L609.7 466.1 L615.8 475.5 L621.2 484.7 L625.9 493.8 L629.7 502.7 L632.8 511.4 L635.0 519.8 L636.4 528.0 L637.1 535.9 L636.9 543.5 L635.9 550.8 L634.0 557.8 L631.4 564.4Z" fill="none" stroke="#c3cddf" stroke-width="2.80" stroke-linecap="butt" stroke-linejoin="round" mask="url(#out23)"/>
<path d="M631.4 564.4 L630.9 565.5 L630.3 566.6 L629.7 567.7M627.8 570.9 L627.1 572.0 L626.3 573.0 L625.6 574.1M623.2 577.1 L622.4 578.0 L621.5 579.0 L620.6 580.0M617.8 582.7 L616.8 583.6 L615.8 584.5 L614.7 585.4M611.5 587.9 L610.4 588.7 L609.2 589.5 L608.0 590.3M604.4 592.6 L603.1 593.3 L601.8 594.1 L600.5 594.8M596.4 596.8 L595.0 597.4 L593.6 598.1 L592.1 598.7M587.7 600.4 L586.1 601.0 L584.6 601.5 L583.0 602.1M578.2 603.5 L576.5 604.0 L574.8 604.5 L573.1 604.9M567.9 606.1 L566.1 606.5 L564.3 606.8 L562.5 607.2M556.9 608.1 L555.1 608.4 L553.1 608.7 L551.2 608.9M545.3 609.6 L543.3 609.7 L541.3 609.9 L539.3 610.1M533.1 610.4 L531.0 610.5 L528.8 610.6 L526.7 610.7M520.2 610.7 L518.0 610.7 L515.8 610.7 L513.6 610.7M506.8 610.5 L504.5 610.4 L502.2 610.3 L499.9 610.1M492.9 609.7 L490.5 609.5 L488.1 609.3 L485.7 609.0M478.4 608.3 L476.0 608.0 L473.5 607.7 L471.1 607.3M463.6 606.3 L461.1 605.9 L458.6 605.5 L456.0 605.1M448.4 603.8 L445.8 603.3 L443.2 602.8 L440.6 602.3M432.8 600.7 L430.2 600.2 L427.6 599.6 L424.9 599.0M417.0 597.1 L414.3 596.5 L411.6 595.8 L409.0 595.1M400.9 593.0 L398.2 592.3 L395.5 591.5 L392.8 590.7M384.6 588.4 L381.9 587.5 L379.2 586.7 L376.4 585.8M368.2 583.2 L365.5 582.3 L362.7 581.4 L360.0 580.5M351.7 577.6 L349.0 576.6 L346.2 575.6 L343.4 574.6M335.2 571.5 L332.4 570.4 L329.7 569.4 L326.9 568.3M318.7 564.9 L315.9 563.8 L313.2 562.7 L310.4 561.5M302.2 558.0 L299.5 556.8 L296.7 555.5 L294.0 554.3M285.8 550.6 L283.1 549.3 L280.4 548.0 L277.7 546.8M269.7 542.8 L267.0 541.5 L264.3 540.2 L261.7 538.8M253.7 534.7 L251.1 533.3 L248.4 531.9 L245.8 530.5M238.0 526.2 L235.4 524.8 L232.8 523.4 L230.3 521.9M222.6 517.5 L220.1 516.0 L217.6 514.5 L215.1 513.0M207.6 508.4 L205.1 506.9 L202.7 505.4 L200.2 503.8M193.0 499.1 L190.6 497.6 L188.2 496.0 L185.8 494.4M178.8 489.6 L176.5 488.0 L174.2 486.4 L171.9 484.8M165.2 479.9 L162.9 478.2 L160.7 476.6 L158.5 475.0M152.0 470.0 L149.9 468.3 L147.8 466.7 L145.7 465.0M139.5 460.0 L137.5 458.3 L135.4 456.6 L133.5 454.9M127.6 449.8 L125.6 448.1 L123.7 446.5 L121.8 444.8M116.3 439.6 L114.5 437.9 L112.7 436.2 L110.9 434.5M105.7 429.4 L104.0 427.7 L102.3 426.0 L100.7 424.3M95.9 419.2 L94.3 417.5 L92.7 415.7 L91.2 414.0M86.8 408.9 L85.3 407.2 L83.9 405.5 L82.5 403.8M78.4 398.8 L77.1 397.1 L75.8 395.4 L74.6 393.7M70.9 388.7 L69.7 387.0 L68.6 385.3 L67.5 383.7M64.2 378.7 L63.2 377.1 L62.2 375.4 L61.2 373.8M58.4 368.9 L57.5 367.3 L56.6 365.6 L55.8 364.0M53.4 359.2 L52.7 357.6 L52.0 356.1 L51.3 354.5M49.3 349.8 L48.8 348.2 L48.2 346.7 L47.6 345.2M46.2 340.6 L45.7 339.1 L45.3 337.6 L44.9 336.1M43.9 331.7 L43.6 330.2 L43.3 328.8 L43.1 327.3M42.5 323.0 L42.4 321.6 L42.3 320.2 L42.2 318.8M42.1 314.7 L42.1 313.3 L42.1 312.0 L42.2 310.7M42.6 306.7 L42.7 305.4 L42.9 304.1 L43.1 302.9M43.9 299.1 L44.3 297.9 L44.6 296.7 L45.0 295.5M46.3 291.9 L46.7 290.7 L47.2 289.6 L47.7 288.4M49.5 285.1 L50.1 284.0 L50.7 282.9 L51.4 281.9M53.6 278.7 L54.3 277.7 L55.1 276.7 L56.0 275.7M58.6 272.8 L59.5 271.9 L60.4 271.0 L61.4 270.1M64.4 267.4 L65.5 266.5 L66.6 265.7 L67.7 264.9M71.1 262.5 L72.3 261.7 L73.6 260.9 L74.8 260.2M78.7 258.0 L80.0 257.3 L81.4 256.7 L82.8 256.0M87.0 254.1 L88.5 253.5 L90.0 252.9 L91.5 252.4M96.2 250.7 L97.8 250.2 L99.4 249.7 L101.0 249.3M106.1 247.9 L107.8 247.5 L109.5 247.1 L111.3 246.7M116.7 245.6 L118.5 245.3 L120.3 245.0 L122.2 244.7M128.0 243.9 L129.9 243.7 L131.9 243.4 L133.8 243.2M139.9 242.7 L142.0 242.6 L144.0 242.5 L146.1 242.4M152.5 242.1 L154.6 242.1 L156.8 242.1 L159.0 242.1M165.6 242.1 L167.8 242.2 L170.1 242.2 L172.4 242.3M179.3 242.7 L181.6 242.8 L184.0 243.0 L186.3 243.1M193.5 243.8 L195.9 244.0 L198.3 244.3 L200.7 244.5M208.1 245.5 L210.6 245.8 L213.1 246.1 L215.6 246.5M223.1 247.7 L225.7 248.1 L228.2 248.6 L230.8 249.0M238.5 250.5 L241.1 251.0 L243.7 251.5 L246.3 252.1M254.2 253.8 L256.9 254.4 L259.5 255.0 L262.2 255.7M270.2 257.7 L272.9 258.4 L275.6 259.1 L278.3 259.8M286.4 262.1 L289.1 262.8 L291.8 263.6 L294.5 264.4M302.7 267.0 L305.5 267.8 L308.2 268.7 L311.0 269.6M319.2 272.3 L321.9 273.3 L324.7 274.3 L327.5 275.2M335.7 278.2 L338.5 279.2 L341.2 280.3 L344.0 281.3M352.3 284.5 L355.0 285.6 L357.8 286.7 L360.5 287.9M368.8 291.3 L371.5 292.5 L374.2 293.6 L377.0 294.8M385.2 298.5 L387.9 299.7 L390.6 301.0 L393.3 302.2M401.4 306.0 L404.1 307.3 L406.8 308.7 L409.5 310.0M417.5 314.0 L420.2 315.4 L422.8 316.7 L425.5 318.1M433.4 322.3 L436.0 323.7 L438.6 325.1 L441.2 326.6M448.9 330.9 L451.5 332.4 L454.0 333.8 L456.5 335.3M464.1 339.8 L466.6 341.3 L469.1 342.8 L471.6 344.4M478.9 349.0 L481.4 350.5 L483.8 352.1 L486.2 353.7M493.3 358.4 L495.7 360.0 L498.0 361.6 L500.3 363.2M507.2 368.0 L509.5 369.7 L511.8 371.3 L514.0 372.9M520.6 377.8 L522.8 379.5 L525.0 381.2 L527.1 382.8M533.5 387.8 L535.6 389.5 L537.6 391.2 L539.7 392.8M545.7 397.9 L547.7 399.6 L549.7 401.3 L551.6 403.0M557.3 408.0 L559.2 409.7 L561.0 411.5 L562.9 413.2M568.3 418.3 L570.0 420.0 L571.7 421.7 L573.5 423.4M578.5 428.5 L580.1 430.2 L581.7 431.9 L583.3 433.6M588.0 438.8 L589.5 440.5 L591.0 442.2 L592.4 443.9M596.7 449.0 L598.1 450.7 L599.4 452.3 L600.7 454.0M604.6 459.1 L605.8 460.8 L607.1 462.5 L608.3 464.1M611.7 469.1 L612.8 470.8 L613.9 472.4 L614.9 474.1M618.0 479.0 L618.9 480.7 L619.9 482.3 L620.8 483.9M623.4 488.8 L624.2 490.4 L625.0 492.0 L625.7 493.6M627.9 498.3 L628.6 499.9 L629.2 501.4 L629.8 503.0M631.5 507.6 L632.0 509.2 L632.5 510.7 L633.0 512.2M634.3 516.7 L634.6 518.2 L635.0 519.7 L635.3 521.1M636.1 525.5 L636.3 526.9 L636.5 528.4 L636.6 529.8M637.0 534.0 L637.0 535.4 L637.1 536.7 L637.1 538.1M637.0 542.1 L636.9 543.5 L636.8 544.8 L636.6 546.1M636.0 549.9 L635.8 551.2 L635.5 552.4 L635.2 553.7M634.2 557.3 L633.8 558.5 L633.4 559.7 L632.9 560.9M631.4 564.4 L631.4 564.4 L631.4 564.4 L631.4 564.4" fill="none" stroke="#a9b9d6" stroke-width="3.60" stroke-linecap="butt" stroke-linejoin="round" clip-path="url(#in23)"/>
<path d="M622.5 583.3 L620.9 586.5 L619.1 589.5 L617.0 592.5 L614.8 595.3 L612.4 598.1 L609.8 600.7 L607.1 603.3 L604.1 605.7 L600.9 608.1 L597.6 610.3 L594.1 612.4 L590.3 614.4 L586.5 616.2 L582.4 618.0 L578.2 619.6 L573.8 621.1 L569.2 622.5 L564.5 623.8 L559.6 625.0 L554.5 626.0 L549.3 626.9 L543.9 627.7 L538.4 628.3 L532.8 628.9 L527.0 629.3 L521.1 629.6 L515.1 629.7 L508.9 629.7 L502.6 629.6 L496.2 629.4 L489.6 629.1 L483.0 628.6 L476.3 628.0 L469.4 627.2 L462.5 626.4 L455.5 625.4 L448.3 624.3 L441.2 623.1 L433.9 621.7 L426.5 620.3 L419.1 618.7 L411.7 617.0 L404.2 615.2 L396.6 613.2 L389.0 611.2 L381.3 609.0 L373.6 606.7 L365.9 604.3 L358.2 601.8 L350.4 599.2 L342.6 596.5 L334.8 593.7 L327.0 590.8 L319.3 587.8 L311.5 584.7 L303.7 581.5 L296.0 578.1 L288.2 574.8 L280.5 571.3 L272.9 567.7 L265.3 564.1 L257.7 560.3 L250.2 556.5 L242.7 552.6 L235.3 548.7 L227.9 544.6 L220.7 540.5 L213.5 536.4 L206.4 532.1 L199.3 527.8 L192.4 523.5 L185.5 519.1 L178.8 514.6 L172.1 510.2 L165.6 505.6 L159.2 501.0 L152.9 496.4 L146.7 491.8 L140.6 487.1 L134.7 482.4 L128.9 477.6 L123.2 472.9 L117.7 468.1 L112.4 463.3 L107.2 458.5 L102.1 453.6 L97.2 448.8 L92.4 444.0 L87.8 439.2 L83.4 434.4 L79.2 429.5 L75.1 424.7 L71.2 420.0 L67.5 415.2 L63.9 410.4 L60.6 405.7 L57.4 401.0 L54.4 396.3 L51.6 391.7 L49.0 387.1 L46.6 382.5 L44.4 378.0 L42.3 373.6 L40.5 369.1 L38.9 364.8 L37.5 360.5 L36.2 356.2 L35.2 352.0 L34.4 347.9 L33.8 343.8 L33.4 339.8 L33.1 335.9 L33.1 332.1 L33.3 328.3 L33.7 324.6 L34.3 321.0 L35.1 317.5 L36.1 314.1 L37.4 310.7 L38.8 307.5" fill="none" stroke="#c3cddf" stroke-width="2.80" stroke-linecap="butt" stroke-linejoin="round" mask="url(#out23)"/>
<path d="M622.5 583.3 L621.9 584.5 L621.3 585.6 L620.7 586.7M618.8 589.9 L618.1 591.0 L617.4 592.0 L616.6 593.0M614.2 596.1 L613.4 597.0 L612.5 598.0 L611.6 599.0M608.8 601.7 L607.8 602.6 L606.8 603.5 L605.8 604.4M602.5 606.9 L601.4 607.7 L600.2 608.5 L599.1 609.3M595.4 611.6 L594.1 612.3 L592.8 613.1 L591.5 613.8M587.4 615.8 L586.0 616.4 L584.6 617.1 L583.2 617.7M578.7 619.4 L577.2 620.0 L575.6 620.5 L574.0 621.0M569.2 622.5 L567.5 623.0 L565.9 623.4 L564.2 623.9M558.9 625.1 L557.2 625.5 L555.4 625.8 L553.5 626.2M548.0 627.1 L546.1 627.4 L544.2 627.6 L542.3 627.9M536.4 628.5 L534.4 628.7 L532.3 628.9 L530.3 629.1M524.1 629.4 L522.0 629.5 L519.9 629.6 L517.7 629.7M511.2 629.7 L509.0 629.7 L506.8 629.7 L504.6 629.7M497.8 629.5 L495.5 629.4 L493.2 629.3 L490.9 629.1M483.9 628.6 L481.5 628.5 L479.1 628.2 L476.7 628.0M469.5 627.2 L467.0 627.0 L464.6 626.7 L462.1 626.3M454.6 625.3 L452.1 624.9 L449.6 624.5 L447.1 624.1M439.4 622.8 L436.9 622.3 L434.3 621.8 L431.7 621.3M423.9 619.7 L421.2 619.2 L418.6 618.6 L416.0 618.0M408.0 616.1 L405.4 615.5 L402.7 614.8 L400.0 614.1M391.9 612.0 L389.2 611.2 L386.5 610.5 L383.8 609.7M375.7 607.3 L372.9 606.5 L370.2 605.7 L367.5 604.8M359.3 602.2 L356.5 601.3 L353.8 600.4 L351.0 599.4M342.8 596.6 L340.0 595.6 L337.2 594.6 L334.5 593.6M326.2 590.5 L323.5 589.4 L320.7 588.3 L317.9 587.3M309.7 583.9 L306.9 582.8 L304.2 581.7 L301.4 580.5M293.2 577.0 L290.5 575.8 L287.8 574.5 L285.0 573.3M276.9 569.6 L274.2 568.3 L271.5 567.0 L268.8 565.7M260.7 561.8 L258.0 560.5 L255.4 559.1 L252.7 557.8M244.7 553.7 L242.1 552.3 L239.5 550.9 L236.9 549.5M229.0 545.2 L226.5 543.8 L223.9 542.3 L221.3 540.9M213.7 536.5 L211.1 535.0 L208.6 533.5 L206.1 532.0M198.6 527.4 L196.2 525.9 L193.7 524.3 L191.3 522.8M184.0 518.1 L181.6 516.5 L179.3 515.0 L176.9 513.4M169.9 508.6 L167.6 507.0 L165.3 505.4 L163.0 503.8M156.2 498.9 L154.0 497.2 L151.8 495.6 L149.6 493.9M143.1 489.0 L140.9 487.3 L138.8 485.7 L136.7 484.0M130.5 479.0 L128.5 477.3 L126.5 475.6 L124.5 473.9M118.6 468.8 L116.7 467.1 L114.8 465.4 L112.9 463.7M107.3 458.6 L105.5 456.9 L103.7 455.2 L102.0 453.5M96.8 448.4 L95.1 446.7 L93.4 445.0 L91.7 443.3M86.9 438.1 L85.3 436.4 L83.8 434.7 L82.2 433.0M77.8 427.9 L76.3 426.2 L74.9 424.5 L73.5 422.8M69.5 417.8 L68.2 416.1 L66.9 414.4 L65.6 412.7M61.9 407.7 L60.8 406.0 L59.6 404.3 L58.5 402.7M55.3 397.7 L54.2 396.0 L53.2 394.4 L52.2 392.8M49.4 387.9 L48.5 386.3 L47.7 384.6 L46.8 383.0M44.5 378.2 L43.7 376.6 L43.0 375.1 L42.3 373.5M40.4 368.8 L39.8 367.2 L39.2 365.7 L38.7 364.2M37.2 359.6 L36.8 358.1 L36.3 356.6 L35.9 355.1M34.9 350.7 L34.6 349.2 L34.4 347.7 L34.1 346.3M33.6 342.0 L33.4 340.6 L33.3 339.2 L33.2 337.8M33.1 333.7 L33.1 332.3 L33.2 331.0 L33.2 329.7M33.6 325.7 L33.8 324.4 L34.0 323.1 L34.2 321.9M35.0 318.1 L35.3 316.9 L35.7 315.7 L36.0 314.4M37.3 310.9 L37.8 309.7 L38.3 308.6 L38.8 307.5" fill="none" stroke="#a9b9d6" stroke-width="3.60" stroke-linecap="butt" stroke-linejoin="round" clip-path="url(#in23)"/>
<path d="M631.4 564.3 L622.5 583.3 M47.7 288.5 L38.8 307.5" fill="none" stroke="#c3cddf" stroke-width="2.80" stroke-linecap="butt" stroke-linejoin="round" mask="url(#out23)"/>
<path d="M557.5 529.6 L554.9 534.3 L551.7 538.6 L548.0 542.7 L543.7 546.4 L538.8 549.8 L533.4 552.9 L527.4 555.6 L520.9 558.0 L514.0 560.0 L506.5 561.6 L498.6 562.9 L490.2 563.8 L481.4 564.3 L472.3 564.4 L462.8 564.2 L452.9 563.5 L442.7 562.5 L432.2 561.2 L421.5 559.4 L410.6 557.3 L399.4 554.8 L388.1 552.0 L376.6 548.8 L365.1 545.3 L353.5 541.5 L341.8 537.4 L330.1 532.9 L318.5 528.2 L306.9 523.2 L295.4 517.9 L284.0 512.3 L272.7 506.6 L261.7 500.6 L250.8 494.4 L240.2 488.0 L229.9 481.4 L219.8 474.7 L210.1 467.9 L200.7 460.9 L191.8 453.9 L183.2 446.8 L175.0 439.6 L167.3 432.4 L160.1 425.1 L153.3 417.9 L147.1 410.7 L141.4 403.5 L136.2 396.4 L131.6 389.4 L127.5 382.5 L124.1 375.7 L121.2 369.0 L118.9 362.5 L117.2 356.2 L116.1 350.0 L115.7 344.1 L115.8 338.4 L116.6 332.9 L117.9 327.7 L119.9 322.8 L122.5 318.1 L125.6 313.8 L129.4 309.7 L133.7 306.0 L138.6 302.6 L144.0 299.5 L150.0 296.8 L156.4 294.4 L163.4 292.4 L170.9 290.8 L178.8 289.5 L187.2 288.6 L195.9 288.1 L205.1 288.0 L214.6 288.2 L224.5 288.9 L234.7 289.9 L245.1 291.2 L255.9 293.0 L266.8 295.1 L278.0 297.6 L289.3 300.4 L300.7 303.6 L312.3 307.1 L323.9 310.9 L335.6 315.0 L347.3 319.5 L358.9 324.2 L370.5 329.2 L382.0 334.5 L393.4 340.1 L404.7 345.8 L415.7 351.8 L426.6 358.0 L437.2 364.4 L447.5 371.0 L457.5 377.7 L467.3 384.5 L476.6 391.5 L485.6 398.5 L494.2 405.6 L502.3 412.8 L510.0 420.0 L517.3 427.3 L524.0 434.5 L530.3 441.7 L536.0 448.9 L541.2 456.0 L545.8 463.0 L549.8 469.9 L553.3 476.7 L556.2 483.4 L558.5 489.9 L560.2 496.2 L561.2 502.4 L561.7 508.3 L561.6 514.0 L560.8 519.5 L559.4 524.7 L557.5 529.6Z" fill="none" stroke="#8ea7d3" stroke-width="3.40" stroke-linecap="butt" stroke-linejoin="round" mask="url(#out23)"/>
<path d="M557.5 529.6 L556.9 530.8 L556.3 531.9 L555.7 533.0M553.6 536.2 L552.9 537.2 L552.1 538.2 L551.2 539.2M548.6 542.1 L547.6 543.1 L546.6 544.0 L545.6 544.9M542.3 547.4 L541.2 548.2 L540.0 549.0 L538.8 549.8M535.0 552.0 L533.6 552.7 L532.3 553.4 L530.9 554.1M526.5 556.0 L525.0 556.5 L523.5 557.1 L521.9 557.7M517.0 559.2 L515.3 559.6 L513.6 560.1 L511.9 560.5M506.5 561.6 L504.6 561.9 L502.8 562.2 L500.9 562.5M495.0 563.3 L493.1 563.5 L491.0 563.7 L489.0 563.8M482.7 564.2 L480.6 564.3 L478.4 564.4 L476.3 564.4M469.6 564.4 L467.3 564.3 L465.1 564.2 L462.8 564.2M455.7 563.7 L453.4 563.6 L451.0 563.4 L448.6 563.1M441.2 562.4 L438.7 562.0 L436.2 561.7 L433.7 561.4M426.1 560.2 L423.6 559.8 L421.0 559.3 L418.4 558.8M410.6 557.3 L407.9 556.7 L405.3 556.2 L402.6 555.6M394.6 553.7 L391.9 553.0 L389.2 552.3 L386.5 551.6M378.3 549.3 L375.5 548.5 L372.8 547.7 L370.0 546.9M361.8 544.3 L359.0 543.4 L356.2 542.5 L353.5 541.5M345.1 538.6 L342.3 537.6 L339.6 536.5 L336.8 535.5M328.4 532.3 L325.7 531.1 L322.9 530.0 L320.1 528.9M311.8 525.3 L309.1 524.1 L306.3 522.9 L303.6 521.7M295.4 517.9 L292.6 516.6 L289.9 515.3 L287.2 513.9M279.1 509.9 L276.4 508.5 L273.8 507.1 L271.1 505.7M263.2 501.4 L260.6 500.0 L258.0 498.5 L255.4 497.0M247.8 492.6 L245.2 491.0 L242.7 489.5 L240.2 488.0M232.8 483.3 L230.3 481.7 L227.9 480.2 L225.5 478.6M218.4 473.8 L216.1 472.1 L213.8 470.5 L211.5 468.9M204.7 463.9 L202.5 462.3 L200.3 460.6 L198.1 458.9M191.8 453.9 L189.7 452.2 L187.6 450.5 L185.6 448.8M179.6 443.7 L177.7 442.0 L175.8 440.3 L173.9 438.5M168.4 433.4 L166.6 431.7 L164.9 429.9 L163.1 428.2M158.1 423.1 L156.5 421.3 L154.9 419.6 L153.3 417.9M148.8 412.7 L147.4 411.0 L146.0 409.3 L144.6 407.6M140.6 402.5 L139.3 400.8 L138.1 399.1 L136.9 397.4M133.5 392.4 L132.4 390.7 L131.4 389.1 L130.4 387.4M127.5 382.5 L126.7 380.8 L125.8 379.2 L125.0 377.6M122.8 372.8 L122.1 371.2 L121.4 369.6 L120.8 368.1M119.2 363.4 L118.7 361.9 L118.3 360.4 L117.9 358.9M116.8 354.4 L116.6 352.9 L116.3 351.5 L116.1 350.0M115.7 345.8 L115.7 344.4 L115.6 343.0 L115.7 341.6M115.9 337.6 L116.0 336.3 L116.2 335.0 L116.4 333.7M117.3 329.9 L117.6 328.7 L118.0 327.5 L118.4 326.3M119.9 322.8 L120.5 321.6 L121.0 320.5 L121.7 319.4M123.7 316.2 L124.5 315.2 L125.3 314.2 L126.1 313.2M128.8 310.3 L129.8 309.3 L130.7 308.4 L131.8 307.5M135.0 305.0 L136.2 304.2 L137.4 303.4 L138.6 302.6M142.4 300.4 L143.7 299.7 L145.1 299.0 L146.5 298.3M150.9 296.4 L152.4 295.9 L153.9 295.3 L155.5 294.7M160.4 293.2 L162.0 292.8 L163.8 292.3 L165.5 291.9M170.9 290.8 L172.7 290.5 L174.6 290.2 L176.5 289.9M182.3 289.1 L184.3 288.9 L186.3 288.7 L188.4 288.6M194.6 288.2 L196.8 288.1 L198.9 288.0 L201.1 288.0M207.8 288.0 L210.0 288.1 L212.3 288.2 L214.6 288.2M221.6 288.7 L224.0 288.8 L226.4 289.0 L228.8 289.3M236.2 290.0 L238.6 290.4 L241.1 290.7 L243.6 291.0M251.2 292.2 L253.8 292.6 L256.4 293.1 L259.0 293.6M266.8 295.1 L269.5 295.7 L272.1 296.2 L274.8 296.8M282.8 298.7 L285.5 299.4 L288.2 300.1 L290.9 300.8M299.1 303.1 L301.8 303.9 L304.6 304.7 L307.3 305.5M315.6 308.1 L318.4 309.0 L321.1 309.9 L323.9 310.9M332.2 313.8 L335.0 314.8 L337.8 315.9 L340.6 316.9M348.9 320.1 L351.7 321.3 L354.5 322.4 L357.2 323.5M365.5 327.1 L368.3 328.3 L371.1 329.5 L373.8 330.7M382.0 334.5 L384.7 335.8 L387.5 337.1 L390.2 338.5M398.2 342.5 L400.9 343.9 L403.6 345.3 L406.2 346.7M414.1 351.0 L416.8 352.4 L419.4 353.9 L421.9 355.4M429.6 359.8 L432.1 361.4 L434.7 362.9 L437.2 364.4M444.6 369.1 L447.0 370.7 L449.4 372.2 L451.8 373.8M459.0 378.6 L461.3 380.3 L463.6 381.9 L465.9 383.5M472.7 388.5 L474.9 390.1 L477.1 391.8 L479.2 393.5M485.6 398.5 L487.7 400.2 L489.7 401.9 L491.8 403.6M497.7 408.7 L499.7 410.4 L501.6 412.1 L503.5 413.9M509.0 419.0 L510.8 420.7 L512.5 422.5 L514.2 424.2M519.3 429.3 L520.9 431.1 L522.5 432.8 L524.0 434.5M528.5 439.7 L530.0 441.4 L531.4 443.1 L532.8 444.8M536.8 449.9 L538.0 451.6 L539.3 453.3 L540.5 455.0M543.9 460.0 L544.9 461.7 L546.0 463.3 L547.0 465.0M549.8 469.9 L550.7 471.6 L551.6 473.2 L552.4 474.8M554.6 479.6 L555.3 481.2 L555.9 482.8 L556.5 484.3M558.2 489.0 L558.7 490.5 L559.1 492.0 L559.5 493.5M560.5 498.0 L560.8 499.5 L561.0 500.9 L561.2 502.4M561.6 506.6 L561.7 508.0 L561.7 509.4 L561.7 510.8M561.5 514.8 L561.3 516.1 L561.2 517.4 L560.9 518.7M560.1 522.5 L559.7 523.7 L559.4 524.9 L558.9 526.1M557.5 529.6 L557.5 529.6 L557.5 529.6 L557.5 529.6" fill="none" stroke="#a9b9d6" stroke-width="3.60" stroke-linecap="butt" stroke-linejoin="round" clip-path="url(#in23)"/>
<path d="M484.3 494.8 L482.6 497.9 L480.5 500.8 L478.0 503.5 L475.1 506.0 L471.9 508.3 L468.2 510.4 L464.3 512.2 L459.9 513.8 L455.3 515.1 L450.3 516.2 L445.0 517.1 L439.5 517.7 L433.6 518.0 L427.5 518.1 L421.1 518.0 L414.6 517.5 L407.8 516.9 L400.8 516.0 L393.7 514.8 L386.4 513.4 L378.9 511.8 L371.4 509.9 L363.8 507.8 L356.1 505.5 L348.3 502.9 L340.5 500.2 L332.8 497.2 L325.0 494.1 L317.3 490.7 L309.6 487.2 L302.0 483.5 L294.5 479.7 L287.2 475.7 L279.9 471.5 L272.9 467.3 L266.0 462.9 L259.3 458.4 L252.8 453.9 L246.6 449.2 L240.6 444.5 L234.9 439.8 L229.5 435.0 L224.4 430.2 L219.5 425.4 L215.0 420.5 L210.9 415.7 L207.1 410.9 L203.6 406.2 L200.6 401.5 L197.9 396.9 L195.6 392.3 L193.7 387.9 L192.1 383.6 L191.0 379.3 L190.3 375.2 L190.0 371.3 L190.1 367.4 L190.6 363.8 L191.5 360.3 L192.8 357.0 L194.6 353.9 L196.7 351.0 L199.2 348.3 L202.1 345.8 L205.3 343.5 L208.9 341.4 L212.9 339.6 L217.2 338.0 L221.9 336.7 L226.9 335.6 L232.1 334.7 L237.7 334.1 L243.6 333.8 L249.7 333.7 L256.0 333.8 L262.6 334.3 L269.4 334.9 L276.4 335.8 L283.5 337.0 L290.8 338.4 L298.2 340.0 L305.8 341.9 L313.4 344.0 L321.1 346.3 L328.9 348.9 L336.6 351.6 L344.4 354.6 L352.2 357.7 L359.9 361.1 L367.6 364.6 L375.1 368.3 L382.6 372.1 L390.0 376.1 L397.2 380.3 L404.3 384.5 L411.2 388.9 L417.9 393.4 L424.3 397.9 L430.6 402.6 L436.5 407.3 L442.3 412.0 L447.7 416.8 L452.8 421.6 L457.6 426.4 L462.1 431.3 L466.3 436.1 L470.1 440.9 L473.5 445.6 L476.6 450.3 L479.3 454.9 L481.6 459.5 L483.5 463.9 L485.0 468.2 L486.1 472.5 L486.9 476.6 L487.2 480.5 L487.1 484.4 L486.6 488.0 L485.6 491.5 L484.3 494.8Z" fill="none" stroke="#7b95c6" stroke-width="3.80" stroke-linecap="butt" stroke-linejoin="round" mask="url(#out23)"/>
<path d="M484.3 494.8 L483.8 495.9 L483.1 497.0 L482.5 498.1M480.2 501.2 L479.3 502.2 L478.4 503.2 L477.4 504.1M474.2 506.7 L473.1 507.5 L471.9 508.3 L470.6 509.1M466.6 511.2 L465.1 511.8 L463.7 512.4 L462.1 513.0M457.3 514.6 L455.6 515.0 L453.9 515.4 L452.1 515.8M446.6 516.8 L444.6 517.1 L442.7 517.3 L440.7 517.6M434.5 518.0 L432.3 518.1 L430.2 518.1 L427.9 518.1M421.1 518.0 L418.8 517.8 L416.5 517.7 L414.1 517.5M406.8 516.8 L404.3 516.5 L401.8 516.1 L399.3 515.8M391.6 514.5 L389.0 514.0 L386.4 513.4 L383.7 512.9M375.7 511.0 L373.0 510.3 L370.3 509.6 L367.6 508.9M359.4 506.5 L356.6 505.7 L353.9 504.8 L351.1 503.9M342.8 501.0 L340.0 500.0 L337.2 498.9 L334.4 497.9M326.1 494.5 L323.3 493.4 L320.6 492.2 L317.8 491.0M309.6 487.2 L306.9 485.9 L304.2 484.6 L301.5 483.2M293.5 479.1 L290.8 477.7 L288.2 476.2 L285.6 474.8M277.9 470.3 L275.4 468.8 L272.9 467.3 L270.4 465.7M263.1 461.0 L260.7 459.4 L258.4 457.8 L256.0 456.2M249.2 451.2 L247.0 449.6 L244.9 447.9 L242.7 446.2M236.5 441.2 L234.5 439.4 L232.5 437.7 L230.6 436.0M225.1 430.9 L223.3 429.1 L221.6 427.4 L219.9 425.7M215.0 420.5 L213.5 418.8 L212.0 417.1 L210.6 415.4M206.6 410.3 L205.3 408.6 L204.1 406.9 L203.0 405.2M199.8 400.2 L198.8 398.5 L197.9 396.9 L197.0 395.3M194.7 390.4 L194.0 388.8 L193.4 387.3 L192.9 385.7M191.5 381.1 L191.1 379.6 L190.8 378.1 L190.5 376.7M190.1 372.4 L190.0 371.0 L190.0 369.6 L190.1 368.3M190.5 364.3 L190.8 363.0 L191.1 361.8 L191.5 360.6M192.8 357.0 L193.4 355.9 L194.0 354.8 L194.7 353.7M197.0 350.6 L197.9 349.6 L198.8 348.6 L199.8 347.7M202.9 345.1 L204.1 344.3 L205.3 343.5 L206.6 342.7M210.6 340.6 L212.0 340.0 L213.5 339.4 L215.0 338.8M219.9 337.2 L221.5 336.8 L223.3 336.4 L225.0 336.0M230.6 335.0 L232.5 334.7 L234.5 334.5 L236.5 334.2M242.7 333.8 L244.8 333.7 L247.0 333.7 L249.2 333.7M256.0 333.8 L258.3 334.0 L260.7 334.1 L263.1 334.3M270.4 335.0 L272.9 335.3 L275.4 335.7 L277.9 336.0M285.6 337.3 L288.2 337.8 L290.8 338.4 L293.4 338.9M301.5 340.8 L304.2 341.5 L306.9 342.2 L309.6 342.9M317.8 345.3 L320.6 346.1 L323.3 347.0 L326.1 347.9M334.4 350.8 L337.2 351.8 L340.0 352.9 L342.7 353.9M351.1 357.3 L353.8 358.4 L356.6 359.6 L359.3 360.8M367.6 364.6 L370.3 365.9 L373.0 367.2 L375.7 368.6M383.7 372.7 L386.3 374.1 L389.0 375.6 L391.6 377.0M399.3 381.5 L401.8 383.0 L404.3 384.5 L406.8 386.1M414.1 390.8 L416.4 392.4 L418.8 394.0 L421.1 395.6M427.9 400.6 L430.1 402.2 L432.3 403.9 L434.4 405.6M440.7 410.6 L442.7 412.4 L444.6 414.1 L446.6 415.8M452.1 420.9 L453.9 422.7 L455.6 424.4 L457.3 426.1M462.1 431.3 L463.6 433.0 L465.1 434.7 L466.6 436.4M470.6 441.5 L471.8 443.2 L473.1 444.9 L474.2 446.6M477.4 451.6 L478.4 453.3 L479.3 454.9 L480.2 456.5M482.5 461.4 L483.1 463.0 L483.7 464.5 L484.3 466.1M485.7 470.7 L486.1 472.2 L486.4 473.7 L486.6 475.1M487.1 479.4 L487.2 480.8 L487.2 482.2 L487.1 483.5M486.7 487.5 L486.4 488.8 L486.1 490.0 L485.7 491.2M484.3 494.8 L484.3 494.8 L484.3 494.8 L484.3 494.8" fill="none" stroke="#98acd2" stroke-width="3.60" stroke-linecap="butt" stroke-linejoin="round" clip-path="url(#in23)"/>
<path d="M185.9 180.2 L186.5 179.1 L187.1 178.0 L187.7 176.9M189.8 173.6 L190.6 172.6 L191.4 171.6 L192.2 170.6M194.9 167.7 L195.8 166.7 L196.8 165.8 L197.9 164.9M201.1 162.3 L202.3 161.5 L203.5 160.7 L204.7 159.9M208.5 157.7 L209.8 156.9 L211.2 156.3 L212.6 155.6M217.0 153.7 L218.5 153.1 L220.0 152.5 L221.6 152.0M226.5 150.5 L228.2 150.0 L229.9 149.6 L231.7 149.1M237.0 148.0 L238.9 147.6 L240.8 147.3 L242.7 147.0M248.5 146.3 L250.5 146.0 L252.5 145.9 L254.6 145.7M260.8 145.3 L263.0 145.2 L265.1 145.2 L267.3 145.1M274.0 145.1 L276.3 145.2 L278.5 145.2 L280.8 145.3M287.9 145.7 L290.2 145.9 L292.6 146.1 L295.1 146.3M302.4 147.1 L304.9 147.4 L307.4 147.7 L309.9 148.0M317.5 149.2 L320.1 149.6 L322.6 150.1 L325.2 150.6M333.1 152.1 L335.7 152.6 L338.4 153.2 L341.0 153.8M349.1 155.7 L351.8 156.4 L354.5 157.1 L357.2 157.8M365.4 160.0 L368.1 160.8 L370.9 161.6 L373.6 162.5M381.9 165.1 L384.7 166.0 L387.4 166.9 L390.2 167.8M398.5 170.7 L401.3 171.7 L404.1 172.8 L406.9 173.8M415.2 177.1 L418.0 178.2 L420.8 179.3 L423.5 180.4M431.8 184.0 L434.6 185.2 L437.4 186.4 L440.1 187.6M448.3 191.4 L451.0 192.7 L453.8 194.0 L456.5 195.4M464.5 199.4 L467.2 200.8 L469.9 202.2 L472.5 203.6M480.4 207.9 L483.0 209.3 L485.6 210.8 L488.2 212.3M495.9 216.8 L498.4 218.3 L501.0 219.8 L503.5 221.4M510.9 226.0 L513.3 227.6 L515.7 229.2 L518.1 230.8M525.2 235.6 L527.6 237.2 L529.9 238.9 L532.2 240.5M538.9 245.4 L541.1 247.1 L543.3 248.8 L545.5 250.5M551.9 255.5 L553.9 257.2 L556.0 258.9 L558.0 260.6M564.0 265.7 L565.9 267.4 L567.8 269.2 L569.7 270.9M575.2 276.0 L577.0 277.8 L578.8 279.5 L580.5 281.2M585.5 286.4 L587.1 288.1 L588.7 289.9 L590.3 291.6M594.8 296.7 L596.2 298.5 L597.6 300.2 L599.0 301.9M603.0 307.0 L604.2 308.7 L605.4 310.4 L606.6 312.1M610.1 317.2 L611.1 318.8 L612.2 320.5 L613.2 322.2M616.0 327.1 L616.9 328.8 L617.7 330.4 L618.5 332.0M620.8 336.8 L621.4 338.4 L622.1 340.0 L622.7 341.6M624.3 346.2 L624.8 347.8 L625.2 349.3 L625.6 350.8M626.6 355.3 L626.9 356.8 L627.1 358.2 L627.3 359.7M627.7 364.0 L627.8 365.4 L627.8 366.8 L627.8 368.1M627.6 372.2 L627.4 373.5 L627.2 374.8 L627.0 376.1M626.2 379.9 L625.8 381.1 L625.4 382.4 L625.0 383.6" fill="none" stroke="#8ea3c8" stroke-width="4.10" stroke-linecap="butt" stroke-linejoin="round" />
<path d="M621.0 385.9 L620.4 387.0 L619.8 388.1 L619.2 389.2M617.2 392.4 L616.4 393.4 L615.6 394.5 L614.8 395.4M612.1 398.3 L611.2 399.3 L610.2 400.2 L609.2 401.0M606.0 403.6 L604.8 404.4 L603.7 405.2 L602.5 406.0M598.7 408.2 L597.3 408.9 L596.0 409.6 L594.6 410.3M590.3 412.1 L588.8 412.7 L587.3 413.3 L585.7 413.8M580.9 415.3 L579.2 415.8 L577.5 416.2 L575.8 416.6M570.5 417.8 L568.6 418.1 L566.8 418.4 L564.9 418.7M559.1 419.5 L557.2 419.7 L555.2 419.9 L553.1 420.0M546.9 420.4 L544.8 420.5 L542.7 420.6 L540.5 420.6M533.9 420.6 L531.7 420.6 L529.5 420.5 L527.2 420.4M520.2 420.0 L517.9 419.8 L515.5 419.6 L513.1 419.4M505.9 418.7 L503.4 418.4 L501.0 418.0 L498.5 417.7M490.9 416.6 L488.4 416.1 L485.9 415.7 L483.3 415.2M475.5 413.7 L472.9 413.2 L470.3 412.6 L467.7 412.0M459.7 410.1 L457.1 409.5 L454.4 408.8 L451.7 408.1M443.6 405.9 L440.9 405.1 L438.2 404.3 L435.5 403.5M427.3 400.9 L424.6 400.0 L421.8 399.1 L419.1 398.2M410.8 395.3 L408.1 394.3 L405.3 393.3 L402.6 392.2M394.3 389.0 L391.6 387.9 L388.9 386.8 L386.1 385.7M377.9 382.2 L375.2 381.0 L372.5 379.8 L369.8 378.6M361.6 374.8 L358.9 373.5 L356.3 372.2 L353.6 370.9M345.6 366.9 L343.0 365.6 L340.3 364.2 L337.7 362.8M329.9 358.6 L327.3 357.1 L324.7 355.7 L322.2 354.2M314.6 349.8 L312.1 348.3 L309.6 346.8 L307.1 345.2M299.8 340.6 L297.4 339.1 L295.0 337.5 L292.6 335.9M285.6 331.2 L283.3 329.6 L281.0 327.9 L278.8 326.3M272.1 321.4 L269.9 319.8 L267.7 318.1 L265.6 316.5M259.3 311.5 L257.2 309.8 L255.2 308.1 L253.2 306.5M247.3 301.4 L245.4 299.7 L243.5 298.0 L241.6 296.3M236.2 291.2 L234.4 289.5 L232.7 287.8 L231.0 286.1M226.0 280.9 L224.5 279.2 L222.9 277.5 L221.3 275.8M216.9 270.7 L215.5 269.0 L214.1 267.3 L212.7 265.6M208.8 260.6 L207.5 258.9 L206.3 257.2 L205.1 255.5M201.8 250.5 L200.7 248.9 L199.7 247.2 L198.7 245.6M195.9 240.7 L195.0 239.1 L194.2 237.5 L193.4 235.9M191.2 231.1 L190.5 229.5 L189.9 228.0 L189.3 226.4M187.7 221.8 L187.2 220.3 L186.8 218.8 L186.4 217.3M185.4 212.8 L185.1 211.4 L184.9 209.9 L184.7 208.5M184.3 204.3 L184.2 202.9 L184.2 201.5 L184.2 200.2M184.5 196.2 L184.6 194.9 L184.8 193.6 L185.0 192.3M185.9 188.5 L186.2 187.3 L186.6 186.1 L187.0 184.9" fill="none" stroke="#9aadce" stroke-width="3.40" stroke-linecap="butt" stroke-linejoin="round" mask="url(#out3)"/>
<path d="M551.1 352.6 L550.5 353.7 L549.9 354.8 L549.2 355.9M546.9 359.0 L546.0 360.0 L545.1 361.0 L544.1 361.9M540.9 364.6 L539.8 365.4 L538.5 366.2 L537.3 366.9M533.2 369.1 L531.8 369.7 L530.3 370.3 L528.8 370.9M524.0 372.5 L522.3 373.0 L520.5 373.4 L518.8 373.8M513.2 374.8 L511.3 375.1 L509.3 375.4 L507.3 375.6M501.1 376.0 L498.9 376.1 L496.8 376.1 L494.5 376.2M487.7 376.0 L485.4 375.9 L483.1 375.8 L480.7 375.6M473.4 374.9 L470.9 374.6 L468.4 374.2 L465.9 373.9M458.2 372.6 L455.5 372.1 L452.9 371.6 L450.3 371.0M442.3 369.2 L439.6 368.5 L436.9 367.8 L434.1 367.1M425.9 364.7 L423.2 363.8 L420.4 363.0 L417.6 362.1M409.3 359.2 L406.5 358.2 L403.7 357.1 L401.0 356.1M392.6 352.7 L389.9 351.6 L387.1 350.4 L384.4 349.2M376.1 345.4 L373.4 344.1 L370.7 342.8 L368.0 341.4M360.0 337.3 L357.4 335.9 L354.7 334.4 L352.1 333.0M344.4 328.5 L341.9 327.0 L339.4 325.5 L336.9 323.9M329.6 319.2 L327.3 317.6 L324.9 316.0 L322.6 314.3M315.8 309.4 L313.6 307.7 L311.4 306.1 L309.3 304.4M303.1 299.3 L301.1 297.6 L299.1 295.9 L297.2 294.1M291.6 289.0 L289.9 287.2 L288.1 285.5 L286.5 283.8M281.6 278.6 L280.1 276.9 L278.6 275.2 L277.2 273.4M273.2 268.3 L271.9 266.6 L270.7 264.9 L269.6 263.2M266.4 258.2 L265.4 256.5 L264.5 254.9 L263.7 253.2M261.4 248.4 L260.7 246.8 L260.1 245.2 L259.5 243.6M258.1 239.0 L257.8 237.5 L257.5 236.0 L257.2 234.6M256.7 230.2 L256.7 228.8 L256.7 227.4 L256.8 226.1M257.2 222.1 L257.5 220.8 L257.8 219.6 L258.2 218.3M259.6 214.8 L260.2 213.6 L260.8 212.5 L261.5 211.4M263.8 208.3 L264.6 207.3 L265.6 206.3 L266.5 205.4M269.7 202.8 L270.9 201.9 L272.1 201.1 L273.4 200.4M277.4 198.2 L278.8 197.6 L280.3 197.0 L281.8 196.4M286.7 194.8 L288.4 194.3 L290.1 193.9 L291.9 193.5M297.5 192.5 L299.4 192.2 L301.3 192.0 L303.4 191.8M309.6 191.3 L311.7 191.2 L313.9 191.2 L316.1 191.2M322.9 191.3 L325.2 191.4 L327.6 191.5 L330.0 191.7M337.3 192.4 L339.8 192.7 L342.3 193.1 L344.8 193.4M352.5 194.7 L355.1 195.2 L357.7 195.8 L360.4 196.3M368.4 198.1 L371.1 198.8 L373.8 199.5 L376.5 200.3M384.7 202.6 L387.5 203.5 L390.3 204.4 L393.0 205.3M401.3 208.1 L404.1 209.2 L406.9 210.2 L409.7 211.3M418.0 214.6 L420.8 215.8 L423.5 217.0 L426.3 218.2M434.5 221.9 L437.2 223.2 L439.9 224.5 L442.6 225.9M450.6 230.0 L453.3 231.4 L455.9 232.9 L458.5 234.3M466.2 238.8 L468.7 240.3 L471.2 241.9 L473.7 243.4M481.0 248.1 L483.4 249.7 L485.7 251.4 L488.1 253.0M494.8 257.9 L497.1 259.6 L499.2 261.3 L501.4 263.0M507.6 268.0 L509.6 269.7 L511.5 271.5 L513.5 273.2M519.0 278.3 L520.8 280.1 L522.5 281.8 L524.2 283.5M529.0 288.7 L530.5 290.4 L532.0 292.2 L533.4 293.9M537.5 299.0 L538.7 300.7 L539.9 302.4 L541.1 304.1M544.2 309.1 L545.2 310.8 L546.1 312.5 L547.0 314.1M549.3 318.9 L550.0 320.5 L550.6 322.1 L551.1 323.7M552.5 328.3 L552.9 329.8 L553.2 331.3 L553.4 332.8M553.9 337.1 L554.0 338.5 L553.9 339.9 L553.9 341.2M553.4 345.2 L553.2 346.5 L552.8 347.7 L552.5 349.0M551.1 352.6 L551.1 352.6 L551.1 352.6 L551.1 352.6" fill="none" stroke="#8299c6" stroke-width="4.20" stroke-linecap="butt" stroke-linejoin="round" />
<path d="M634.4 364.0 L631.8 368.7 L628.6 373.1 L624.9 377.2 L620.6 380.9 L615.7 384.4 L610.2 387.5 L604.2 390.2 L597.8 392.6 L590.8 394.6 L583.3 396.3 L575.4 397.6 L567.0 398.5 L558.2 399.0 L549.0 399.2 L539.5 398.9 L529.6 398.3 L519.4 397.4 L508.9 396.0 L498.2 394.3 L487.3 392.2 L476.1 389.7 L464.8 386.9 L453.3 383.8 L441.8 380.3 L430.1 376.4 L418.5 372.3 L406.8 367.9 L395.1 363.1 L383.5 358.1 L372.0 352.8 L360.6 347.3 L349.4 341.5 L338.3 335.5 L327.5 329.3 L316.9 322.9 L306.5 316.3 L296.5 309.6 L286.8 302.8 L277.4 295.8 L268.5 288.8 L259.9 281.6 L251.7 274.4 L244.0 267.2 L236.8 259.9 L230.1 252.7 L223.8 245.5 L218.1 238.3 L213.0 231.1 L208.4 224.1 L204.3 217.1 L200.9 210.3 L198.0 203.6 L195.7 197.1 L194.1 190.7 L193.0 184.6 L192.5 178.6 L192.7 172.9 L193.5 167.4 L194.8 162.1 L196.8 157.2 L199.4 152.5 L202.6 148.1 L206.3 144.0 L210.7 140.3 L215.6 136.8 L221.0 133.7 L227.0 131.0 L233.5 128.6 L240.5 126.6 L247.9 124.9 L255.9 123.6 L264.2 122.7 L273.0 122.2 L282.2 122.0 L291.7 122.3 L301.6 122.9 L311.8 123.8 L322.3 125.2 L333.0 126.9 L344.0 129.0 L355.1 131.5 L366.4 134.3 L377.9 137.4 L389.5 140.9 L401.1 144.8 L412.8 148.9 L424.4 153.3 L436.1 158.1 L447.7 163.1 L459.2 168.4 L470.6 173.9 L481.8 179.7 L492.9 185.7 L503.7 191.9 L514.3 198.3 L524.7 204.9 L534.7 211.6 L544.4 218.4 L553.8 225.4 L562.8 232.4 L571.3 239.6 L579.5 246.8 L587.2 254.0 L594.4 261.3 L601.1 268.5 L607.4 275.7 L613.1 282.9 L618.2 290.1 L622.8 297.1 L626.9 304.1 L630.3 310.9 L633.2 317.6 L635.5 324.1 L637.2 330.5 L638.2 336.6 L638.7 342.6 L638.5 348.3 L637.8 353.8 L636.4 359.1 L634.4 364.0Z" fill="none" stroke="#8fa8d4" stroke-width="3.60" stroke-linecap="butt" stroke-linejoin="round" mask="url(#out3)"/>
<path d="M634.4 364.0 L633.8 365.2 L633.2 366.3 L632.6 367.4M630.5 370.6 L629.8 371.7 L629.0 372.7 L628.1 373.7M625.5 376.6 L624.5 377.5 L623.5 378.5 L622.5 379.4M619.2 381.9 L618.1 382.8 L616.9 383.6 L615.7 384.4M611.8 386.6 L610.5 387.3 L609.1 388.0 L607.7 388.7M603.3 390.6 L601.8 391.2 L600.3 391.7 L598.7 392.3M593.8 393.8 L592.1 394.3 L590.4 394.7 L588.7 395.1M583.3 396.3 L581.4 396.6 L579.6 396.9 L577.7 397.2M571.8 398.0 L569.8 398.2 L567.8 398.4 L565.8 398.6M559.5 399.0 L557.3 399.0 L555.2 399.1 L553.0 399.1M546.3 399.1 L544.1 399.1 L541.8 399.0 L539.5 398.9M532.5 398.5 L530.1 398.4 L527.7 398.2 L525.3 398.0M517.9 397.2 L515.5 396.9 L513.0 396.6 L510.5 396.2M502.8 395.1 L500.3 394.6 L497.7 394.2 L495.1 393.7M487.3 392.2 L484.6 391.6 L482.0 391.1 L479.3 390.5M471.3 388.6 L468.6 387.9 L465.9 387.2 L463.1 386.5M455.0 384.2 L452.2 383.4 L449.5 382.6 L446.7 381.8M438.4 379.2 L435.7 378.3 L432.9 377.4 L430.1 376.4M421.8 373.5 L419.0 372.5 L416.2 371.5 L413.5 370.4M405.1 367.2 L402.3 366.1 L399.6 365.0 L396.8 363.8M388.5 360.3 L385.7 359.1 L383.0 357.9 L380.2 356.6M372.0 352.8 L369.3 351.5 L366.6 350.2 L363.9 348.9M355.8 344.8 L353.1 343.5 L350.4 342.1 L347.8 340.7M339.9 336.4 L337.3 334.9 L334.7 333.5 L332.1 332.0M324.4 327.5 L321.9 326.0 L319.4 324.4 L316.9 322.9M309.5 318.2 L307.0 316.7 L304.6 315.1 L302.2 313.5M295.1 308.7 L292.8 307.0 L290.5 305.4 L288.2 303.8M281.4 298.8 L279.2 297.2 L277.0 295.5 L274.8 293.8M268.5 288.8 L266.4 287.1 L264.3 285.4 L262.3 283.7M256.3 278.5 L254.4 276.8 L252.5 275.1 L250.6 273.4M245.1 268.2 L243.3 266.5 L241.6 264.8 L239.9 263.0M234.8 257.9 L233.2 256.1 L231.6 254.4 L230.1 252.7M225.6 247.5 L224.1 245.8 L222.7 244.1 L221.3 242.4M217.4 237.2 L216.1 235.5 L214.9 233.8 L213.7 232.1M210.3 227.1 L209.2 225.4 L208.2 223.8 L207.2 222.1M204.3 217.1 L203.5 215.5 L202.6 213.9 L201.8 212.3M199.6 207.4 L198.9 205.8 L198.3 204.3 L197.6 202.7M196.0 198.0 L195.5 196.5 L195.1 195.0 L194.7 193.4M193.7 189.0 L193.4 187.5 L193.2 186.0 L193.0 184.6M192.6 180.3 L192.5 178.9 L192.5 177.5 L192.5 176.1M192.8 172.1 L192.9 170.8 L193.1 169.4 L193.3 168.2M194.2 164.4 L194.5 163.1 L194.9 161.9 L195.3 160.7M196.8 157.2 L197.4 156.0 L198.0 154.9 L198.6 153.8M200.7 150.6 L201.5 149.5 L202.2 148.5 L203.1 147.5M205.8 144.6 L206.7 143.7 L207.7 142.7 L208.7 141.8M212.0 139.3 L213.2 138.4 L214.3 137.6 L215.6 136.8M219.4 134.6 L220.7 133.9 L222.1 133.2 L223.5 132.5M227.9 130.6 L229.4 130.0 L230.9 129.5 L232.5 128.9M237.4 127.4 L239.1 126.9 L240.8 126.5 L242.5 126.1M247.9 124.9 L249.8 124.6 L251.6 124.3 L253.5 124.0M259.4 123.2 L261.4 123.0 L263.4 122.8 L265.5 122.6M271.7 122.2 L273.9 122.2 L276.0 122.1 L278.2 122.1M284.9 122.1 L287.1 122.1 L289.4 122.2 L291.7 122.3M298.8 122.7 L301.1 122.8 L303.5 123.0 L305.9 123.2M313.3 124.0 L315.8 124.3 L318.3 124.6 L320.8 125.0M328.4 126.1 L330.9 126.6 L333.5 127.0 L336.1 127.5M344.0 129.0 L346.6 129.6 L349.3 130.1 L351.9 130.7M360.0 132.6 L362.7 133.3 L365.4 134.0 L368.1 134.7M376.3 137.0 L379.0 137.8 L381.7 138.6 L384.5 139.4M392.8 142.0 L395.5 142.9 L398.3 143.8 L401.1 144.8M409.4 147.7 L412.2 148.7 L415.0 149.7 L417.8 150.8M426.1 154.0 L428.9 155.1 L431.7 156.2 L434.4 157.4M442.7 160.9 L445.5 162.1 L448.2 163.3 L451.0 164.6M459.2 168.4 L461.9 169.7 L464.6 171.0 L467.4 172.3M475.4 176.4 L478.1 177.7 L480.8 179.1 L483.4 180.5M491.3 184.8 L493.9 186.3 L496.5 187.7 L499.1 189.2M506.8 193.7 L509.3 195.2 L511.8 196.8 L514.3 198.3M521.8 203.0 L524.2 204.5 L526.6 206.1 L529.0 207.7M536.1 212.5 L538.5 214.2 L540.8 215.8 L543.1 217.4M549.8 222.4 L552.0 224.0 L554.2 225.7 L556.4 227.4M562.8 232.4 L564.8 234.1 L566.9 235.8 L568.9 237.5M574.9 242.7 L576.8 244.4 L578.7 246.1 L580.6 247.8M586.1 253.0 L587.9 254.7 L589.6 256.4 L591.4 258.2M596.4 263.3 L598.0 265.1 L599.6 266.8 L601.1 268.5M605.6 273.7 L607.1 275.4 L608.5 277.1 L609.9 278.8M613.8 284.0 L615.1 285.7 L616.3 287.4 L617.5 289.1M620.9 294.1 L622.0 295.8 L623.0 297.4 L624.1 299.1M626.9 304.1 L627.8 305.7 L628.6 307.3 L629.4 308.9M631.6 313.8 L632.3 315.4 L633.0 316.9 L633.6 318.5M635.2 323.2 L635.7 324.7 L636.1 326.2 L636.5 327.8M637.5 332.2 L637.8 333.7 L638.0 335.2 L638.2 336.6M638.6 340.9 L638.7 342.3 L638.7 343.7 L638.7 345.1M638.5 349.1 L638.3 350.4 L638.1 351.8 L637.9 353.0M637.0 356.8 L636.7 358.1 L636.3 359.3 L635.9 360.5M634.4 364.0 L634.4 364.0 L634.4 364.0 L634.4 364.0" fill="none" stroke="#8aa2cd" stroke-width="3.80" stroke-linecap="butt" stroke-linejoin="round" clip-path="url(#in3)"/>
<path d="M623.5 387.1 L622.3 389.4 L620.9 391.7 L619.4 394.0 L617.8 396.1 L616.0 398.2 L614.0 400.2 L611.9 402.1 L609.7 404.0 L607.3 405.7 L604.8 407.4 L602.1 409.0 L599.4 410.5 L596.4 411.9 L593.4 413.2 L590.2 414.5 L586.9 415.6 L583.5 416.7 L579.9 417.7 L576.2 418.5 L572.4 419.3 L568.5 420.0 L564.5 420.6 L560.4 421.1 L556.1 421.5 L551.8 421.8 L547.4 422.1 L542.8 422.2 L538.2 422.2 L533.5 422.2 L528.7 422.0 L523.8 421.7 L518.8 421.4 L513.7 421.0 L508.6 420.4 L503.4 419.8 L498.1 419.1 L492.8 418.2 L487.4 417.3 L481.9 416.3 L476.4 415.2 L470.9 414.1 L465.3 412.8 L459.6 411.4 L453.9 410.0 L448.2 408.5 L442.5 406.8 L436.7 405.1 L430.9 403.3 L425.1 401.5 L419.3 399.5 L413.5 397.5 L407.6 395.4 L401.8 393.2 L395.9 390.9 L390.1 388.6 L384.3 386.2 L378.5 383.7 L372.7 381.2 L366.9 378.6 L361.2 375.9 L355.5 373.2 L349.8 370.4 L344.2 367.5 L338.6 364.6 L333.0 361.6 L327.5 358.6 L322.0 355.5 L316.6 352.4 L311.3 349.2 L306.0 346.0 L300.8 342.7 L295.7 339.4 L290.6 336.1 L285.7 332.7 L280.8 329.3 L276.0 325.9 L271.2 322.4 L266.6 318.9 L262.1 315.4 L257.6 311.8 L253.3 308.3 L249.0 304.7 L244.9 301.1 L240.9 297.5 L237.0 293.9 L233.2 290.3 L229.5 286.7 L226.0 283.0 L222.5 279.4 L219.2 275.8 L216.0 272.2 L213.0 268.5 L210.1 264.9 L207.3 261.4 L204.6 257.8 L202.1 254.2 L199.7 250.7 L197.5 247.2 L195.4 243.7 L193.5 240.2 L191.7 236.8 L190.0 233.4 L188.5 230.0 L187.1 226.7 L185.9 223.4 L184.9 220.2 L183.9 217.0 L183.2 213.8 L182.6 210.7 L182.1 207.7 L181.8 204.7 L181.7 201.7 L181.7 198.8 L181.8 196.0 L182.1 193.2 L182.6 190.5 L183.2 187.8 L183.9 185.2 L184.9 182.7 L185.9 180.3" fill="none" stroke="#8fa8d4" stroke-width="3.20" stroke-linecap="butt" stroke-linejoin="round" mask="url(#out3)"/>
<path d="M623.5 387.1 L623.0 388.2 L622.4 389.3 L621.7 390.5M619.6 393.7 L618.9 394.7 L618.1 395.7 L617.3 396.8M614.6 399.7 L613.6 400.6 L612.6 401.5 L611.6 402.4M608.3 405.0 L607.2 405.8 L606.0 406.6 L604.8 407.4M600.9 409.7 L599.6 410.4 L598.2 411.1 L596.8 411.7M592.5 413.6 L590.9 414.2 L589.4 414.8 L587.8 415.3M582.9 416.9 L581.2 417.3 L579.5 417.8 L577.8 418.2M572.4 419.3 L570.6 419.7 L568.7 420.0 L566.8 420.3M560.9 421.1 L558.9 421.3 L556.9 421.5 L554.9 421.6M548.6 422.0 L546.5 422.1 L544.3 422.2 L542.1 422.2M535.5 422.2 L533.2 422.2 L530.9 422.1 L528.6 422.0M521.6 421.6 L519.2 421.4 L516.8 421.2 L514.4 421.0M507.1 420.2 L504.6 419.9 L502.1 419.6 L499.6 419.3M492.0 418.1 L489.4 417.7 L486.8 417.2 L484.2 416.8M476.4 415.2 L473.7 414.7 L471.1 414.1 L468.4 413.5M460.4 411.6 L457.7 410.9 L455.0 410.3 L452.3 409.5M444.1 407.3 L441.3 406.5 L438.6 405.7 L435.8 404.9M427.6 402.3 L424.8 401.4 L422.0 400.4 L419.2 399.5M410.9 396.6 L408.1 395.6 L405.3 394.5 L402.6 393.5M394.2 390.3 L391.5 389.2 L388.7 388.0 L385.9 386.9M377.6 383.4 L374.8 382.1 L372.1 380.9 L369.3 379.7M361.1 375.9 L358.4 374.6 L355.7 373.3 L353.0 371.9M344.9 367.9 L342.2 366.5 L339.6 365.1 L336.9 363.7M329.0 359.4 L326.4 358.0 L323.8 356.5 L321.2 355.0M313.5 350.6 L311.0 349.0 L308.5 347.5 L306.0 346.0M298.6 341.3 L296.1 339.7 L293.7 338.1 L291.3 336.5M284.2 331.7 L281.9 330.1 L279.6 328.5 L277.3 326.8M270.5 321.9 L268.3 320.2 L266.1 318.5 L264.0 316.9M257.6 311.8 L255.5 310.1 L253.4 308.4 L251.4 306.7M245.5 301.6 L243.5 299.9 L241.6 298.2 L239.7 296.4M234.2 291.3 L232.5 289.6 L230.7 287.8 L229.0 286.1M224.0 280.9 L222.3 279.2 L220.8 277.5 L219.2 275.7M214.7 270.6 L213.2 268.9 L211.8 267.1 L210.5 265.4M206.5 260.3 L205.2 258.6 L204.0 256.9 L202.8 255.2M199.4 250.2 L198.3 248.5 L197.3 246.8 L196.3 245.2M193.5 240.2 L192.6 238.6 L191.7 236.9 L190.9 235.3M188.7 230.5 L188.0 228.9 L187.4 227.3 L186.8 225.7M185.1 221.1 L184.7 219.5 L184.2 218.0 L183.8 216.5M182.8 212.0 L182.5 210.5 L182.3 209.1 L182.1 207.6M181.7 203.4 L181.7 202.0 L181.6 200.6 L181.6 199.2M181.9 195.1 L182.0 193.8 L182.2 192.5 L182.4 191.2M183.3 187.4 L183.6 186.2 L184.0 185.0 L184.5 183.8" fill="none" stroke="#8aa2cd" stroke-width="3.80" stroke-linecap="butt" stroke-linejoin="round" clip-path="url(#in3)"/>
<path d="M634.4 364.0 L623.5 387.1 M196.8 157.2 L185.9 180.3" fill="none" stroke="#8fa8d4" stroke-width="3.20" stroke-linecap="butt" stroke-linejoin="round" mask="url(#out3)"/>
<path d="M561.9 329.5 L560.2 332.6 L558.1 335.6 L555.6 338.3 L552.7 340.8 L549.4 343.1 L545.8 345.2 L541.8 347.0 L537.5 348.6 L532.8 350.0 L527.8 351.1 L522.5 352.0 L517.0 352.6 L511.1 353.0 L505.0 353.1 L498.6 353.0 L492.0 352.6 L485.2 351.9 L478.3 351.0 L471.1 349.9 L463.8 348.5 L456.4 346.9 L448.8 345.0 L441.2 342.9 L433.5 340.6 L425.7 338.1 L418.0 335.3 L410.2 332.4 L402.4 329.2 L394.7 325.9 L387.0 322.3 L379.4 318.6 L372.0 314.8 L364.6 310.8 L357.4 306.7 L350.3 302.4 L343.4 298.0 L336.7 293.5 L330.3 289.0 L324.0 284.3 L318.1 279.6 L312.4 274.9 L306.9 270.1 L301.8 265.2 L297.0 260.4 L292.5 255.5 L288.4 250.7 L284.6 245.9 L281.2 241.2 L278.1 236.4 L275.4 231.8 L273.1 227.2 L271.2 222.8 L269.7 218.4 L268.6 214.2 L267.9 210.0 L267.6 206.1 L267.7 202.2 L268.2 198.5 L269.1 195.0 L270.5 191.7 L272.2 188.6 L274.3 185.6 L276.8 182.9 L279.7 180.4 L283.0 178.1 L286.6 176.0 L290.6 174.2 L294.9 172.6 L299.6 171.2 L304.6 170.1 L309.9 169.2 L315.5 168.6 L321.3 168.2 L327.4 168.1 L333.8 168.2 L340.4 168.6 L347.2 169.3 L354.2 170.2 L361.3 171.3 L368.6 172.7 L376.0 174.3 L383.6 176.2 L391.2 178.3 L398.9 180.6 L406.7 183.1 L414.5 185.9 L422.2 188.8 L430.0 192.0 L437.7 195.3 L445.4 198.9 L453.0 202.6 L460.5 206.4 L467.8 210.4 L475.1 214.5 L482.1 218.8 L489.0 223.2 L495.7 227.7 L502.1 232.2 L508.4 236.9 L514.4 241.6 L520.1 246.3 L525.5 251.1 L530.6 256.0 L535.4 260.8 L539.9 265.7 L544.0 270.5 L547.8 275.3 L551.3 280.0 L554.3 284.8 L557.0 289.4 L559.3 294.0 L561.2 298.4 L562.7 302.8 L563.8 307.0 L564.5 311.2 L564.8 315.1 L564.7 319.0 L564.2 322.7 L563.3 326.2 L561.9 329.5Z" fill="none" stroke="#7b95c6" stroke-width="3.80" stroke-linecap="butt" stroke-linejoin="round" mask="url(#out3)"/>
<path d="M561.9 329.5 L561.4 330.6 L560.8 331.8 L560.1 332.8M557.8 336.0 L556.9 337.0 L556.0 337.9 L555.0 338.9M551.8 341.5 L550.6 342.3 L549.4 343.1 L548.2 343.9M544.1 346.0 L542.7 346.7 L541.2 347.3 L539.7 347.9M534.9 349.5 L533.2 349.9 L531.4 350.4 L529.6 350.8M524.1 351.8 L522.2 352.1 L520.2 352.3 L518.2 352.5M512.0 353.0 L509.8 353.0 L507.6 353.1 L505.4 353.1M498.6 353.0 L496.3 352.9 L493.9 352.7 L491.6 352.5M484.3 351.8 L481.8 351.5 L479.3 351.2 L476.7 350.8M469.0 349.5 L466.4 349.0 L463.8 348.5 L461.2 348.0M453.2 346.1 L450.5 345.4 L447.7 344.7 L445.0 344.0M436.8 341.6 L434.0 340.8 L431.3 339.9 L428.5 339.0M420.2 336.1 L417.4 335.1 L414.6 334.1 L411.9 333.0M403.5 329.7 L400.8 328.5 L398.0 327.3 L395.2 326.1M387.0 322.3 L384.3 321.0 L381.6 319.7 L378.9 318.4M370.9 314.2 L368.3 312.8 L365.6 311.4 L363.0 309.9M355.3 305.5 L352.8 303.9 L350.3 302.4 L347.8 300.9M340.5 296.1 L338.2 294.5 L335.8 292.9 L333.5 291.3M326.7 286.3 L324.5 284.7 L322.3 283.0 L320.2 281.3M314.0 276.2 L312.0 274.5 L310.0 272.8 L308.1 271.1M302.5 265.9 L300.8 264.2 L299.0 262.5 L297.3 260.7M292.5 255.5 L291.0 253.8 L289.5 252.1 L288.1 250.4M284.1 245.2 L282.8 243.5 L281.6 241.8 L280.5 240.1M277.3 235.1 L276.3 233.5 L275.4 231.8 L274.5 230.2M272.2 225.3 L271.6 223.7 L271.0 222.1 L270.4 220.6M269.0 216.0 L268.7 214.5 L268.3 213.0 L268.1 211.5M267.6 207.2 L267.6 205.8 L267.6 204.4 L267.6 203.0M268.1 199.1 L268.4 197.8 L268.7 196.5 L269.1 195.3M270.5 191.7 L271.0 190.6 L271.7 189.4 L272.3 188.4M274.7 185.2 L275.5 184.2 L276.4 183.3 L277.4 182.3M280.6 179.7 L281.8 178.9 L283.0 178.1 L284.2 177.3M288.3 175.2 L289.7 174.5 L291.2 173.9 L292.7 173.3M297.6 171.7 L299.3 171.3 L301.0 170.8 L302.8 170.4M308.3 169.4 L310.3 169.1 L312.2 168.9 L314.2 168.7M320.5 168.2 L322.6 168.2 L324.8 168.1 L327.0 168.1M333.8 168.2 L336.1 168.3 L338.5 168.5 L340.9 168.7M348.2 169.4 L350.6 169.7 L353.1 170.0 L355.7 170.4M363.4 171.7 L366.0 172.2 L368.6 172.7 L371.3 173.2M379.3 175.1 L382.0 175.8 L384.7 176.5 L387.4 177.2M395.6 179.6 L398.4 180.4 L401.1 181.3 L403.9 182.2M412.2 185.1 L415.0 186.1 L417.8 187.1 L420.6 188.2M428.9 191.5 L431.7 192.7 L434.4 193.9 L437.2 195.1M445.4 198.9 L448.1 200.2 L450.8 201.5 L453.5 202.8M461.5 207.0 L464.2 208.4 L466.8 209.8 L469.4 211.3M477.1 215.7 L479.6 217.3 L482.1 218.8 L484.6 220.3M491.9 225.1 L494.3 226.7 L496.6 228.3 L498.9 229.9M505.7 234.9 L507.9 236.5 L510.1 238.2 L512.2 239.9M518.5 245.0 L520.5 246.7 L522.4 248.4 L524.3 250.1M529.9 255.3 L531.7 257.0 L533.4 258.7 L535.1 260.5M539.9 265.7 L541.4 267.4 L542.9 269.1 L544.3 270.8M548.3 276.0 L549.6 277.7 L550.8 279.4 L552.0 281.1M555.1 286.1 L556.1 287.7 L557.0 289.4 L557.9 291.0M560.2 295.9 L560.8 297.5 L561.5 299.1 L562.0 300.6M563.4 305.2 L563.8 306.7 L564.1 308.2 L564.3 309.7M564.8 314.0 L564.8 315.4 L564.8 316.8 L564.8 318.2M564.3 322.1 L564.0 323.4 L563.7 324.7 L563.4 325.9M561.9 329.5 L561.9 329.5 L561.9 329.5 L561.9 329.5" fill="none" stroke="#8aa2cd" stroke-width="3.80" stroke-linecap="butt" stroke-linejoin="round" clip-path="url(#in3)"/>
<path d="M326.5 75.4 L327.1 74.2 L327.8 73.1 L328.4 72.0M330.8 68.8 L331.7 67.8 L332.6 66.8 L333.6 65.9M336.8 63.2 L338.0 62.4 L339.2 61.6 L340.4 60.8M344.5 58.6 L345.9 57.9 L347.4 57.3 L349.0 56.7M353.8 55.1 L355.5 54.6 L357.3 54.1 L359.0 53.7M364.6 52.7 L366.6 52.4 L368.5 52.1 L370.6 51.9M376.8 51.4 L378.9 51.3 L381.1 51.2 L383.3 51.2M390.2 51.3 L392.5 51.4 L394.9 51.6 L397.2 51.7M404.6 52.4 L407.0 52.7 L409.6 53.0 L412.1 53.4M419.8 54.6 L422.4 55.1 L425.0 55.6 L427.7 56.2M435.7 58.0 L438.4 58.7 L441.1 59.4 L443.9 60.1M452.1 62.5 L454.8 63.3 L457.6 64.2 L460.4 65.1M468.7 67.9 L471.5 68.9 L474.3 70.0 L477.0 71.0M485.4 74.4 L488.1 75.5 L490.9 76.7 L493.7 77.9M501.9 81.7 L504.6 83.0 L507.3 84.3 L510.0 85.7M518.0 89.8 L520.6 91.2 L523.3 92.7 L525.9 94.1M533.6 98.6 L536.1 100.1 L538.6 101.7 L541.1 103.2M548.4 108.0 L550.7 109.6 L553.1 111.2 L555.4 112.8M562.2 117.8 L564.4 119.5 L566.5 121.1 L568.7 122.8M574.9 127.9 L576.9 129.7 L578.8 131.4 L580.8 133.1M586.3 138.3 L588.1 140.0 L589.8 141.8 L591.5 143.5M596.3 148.7 L597.8 150.5 L599.2 152.2 L600.7 154.0M604.7 159.1 L605.9 160.8 L607.1 162.6 L608.3 164.3M611.4 169.3 L612.4 171.0 L613.3 172.7 L614.2 174.3M616.4 179.2 L617.1 180.8 L617.7 182.4 L618.3 184.0M619.6 188.6 L620.0 190.2 L620.3 191.7 L620.5 193.2M621.0 197.5 L621.0 198.9 L621.0 200.3 L620.9 201.7M620.4 205.7 L620.2 207.0 L619.8 208.3 L619.5 209.6" fill="none" stroke="#7690bf" stroke-width="4.30" stroke-linecap="butt" stroke-linejoin="round" />
<path d="M615.5 212.0 L614.9 213.1 L614.3 214.2 L613.6 215.3M611.3 218.4 L610.5 219.4 L609.6 220.4 L608.6 221.3M605.4 224.0 L604.3 224.8 L603.1 225.6 L601.8 226.4M597.9 228.5 L596.4 229.2 L595.0 229.8 L593.5 230.4M588.7 232.0 L587.0 232.4 L585.3 232.9 L583.6 233.3M578.1 234.3 L576.2 234.6 L574.2 234.9 L572.3 235.1M566.1 235.6 L564.0 235.7 L561.9 235.7 L559.7 235.8M553.0 235.7 L550.7 235.6 L548.4 235.4 L546.0 235.3M538.8 234.6 L536.4 234.3 L533.9 234.0 L531.4 233.6M523.9 232.4 L521.3 231.9 L518.7 231.4 L516.1 230.9M508.2 229.1 L505.6 228.4 L502.9 227.7 L500.2 227.0M492.1 224.7 L489.4 223.9 L486.7 223.0 L484.0 222.1M475.8 219.3 L473.1 218.3 L470.3 217.3 L467.6 216.3M459.4 213.0 L456.7 211.9 L454.0 210.7 L451.3 209.5M443.2 205.8 L440.5 204.5 L437.9 203.2 L435.2 201.9M427.4 197.8 L424.8 196.4 L422.2 195.0 L419.6 193.6M412.1 189.2 L409.6 187.7 L407.1 186.2 L404.7 184.7M397.5 180.0 L395.2 178.4 L392.9 176.8 L390.6 175.2M384.0 170.3 L381.8 168.7 L379.7 167.0 L377.6 165.4M371.5 160.4 L369.5 158.7 L367.6 157.0 L365.7 155.3M360.3 150.2 L358.5 148.5 L356.8 146.8 L355.2 145.1M350.5 139.9 L349.0 138.2 L347.5 136.5 L346.1 134.8M342.2 129.7 L341.0 128.0 L339.8 126.4 L338.7 124.7M335.6 119.7 L334.6 118.1 L333.7 116.4 L332.9 114.8M330.6 110.0 L330.0 108.4 L329.4 106.8 L328.9 105.3M327.5 100.7 L327.2 99.2 L326.9 97.7 L326.6 96.3M326.2 92.0 L326.2 90.6 L326.2 89.2 L326.2 87.9M326.7 83.9 L327.0 82.6 L327.3 81.4 L327.7 80.2" fill="none" stroke="#8298c3" stroke-width="3.60" stroke-linecap="butt" stroke-linejoin="round" />
<path d="M627.4 193.3 L625.7 196.5 L623.5 199.5 L621.0 202.2 L618.1 204.8 L614.8 207.1 L611.1 209.3 L607.1 211.1 L602.8 212.8 L598.1 214.2 L593.1 215.4 L587.8 216.3 L582.2 216.9 L576.3 217.3 L570.2 217.5 L563.8 217.4 L557.2 217.0 L550.4 216.4 L543.4 215.5 L536.2 214.4 L528.9 213.1 L521.5 211.4 L513.9 209.6 L506.3 207.5 L498.6 205.2 L490.8 202.7 L483.0 199.9 L475.3 197.0 L467.5 193.9 L459.8 190.5 L452.1 187.0 L444.5 183.3 L437.0 179.5 L429.7 175.4 L422.4 171.3 L415.4 167.0 L408.5 162.6 L401.8 158.1 L395.4 153.6 L389.2 148.9 L383.2 144.2 L377.5 139.4 L372.1 134.5 L367.0 129.7 L362.2 124.8 L357.7 119.9 L353.6 115.1 L349.8 110.3 L346.4 105.5 L343.3 100.7 L340.7 96.0 L338.4 91.4 L336.5 86.9 L335.0 82.5 L333.9 78.2 L333.2 74.1 L333.0 70.0 L333.1 66.2 L333.6 62.4 L334.6 58.9 L335.9 55.5 L337.7 52.3 L339.8 49.3 L342.4 46.6 L345.3 44.0 L348.6 41.7 L352.2 39.5 L356.2 37.7 L360.6 36.0 L365.3 34.6 L370.3 33.4 L375.6 32.5 L381.2 31.9 L387.0 31.5 L393.2 31.3 L399.5 31.4 L406.1 31.8 L413.0 32.4 L420.0 33.3 L427.1 34.4 L434.4 35.7 L441.9 37.4 L449.4 39.2 L457.1 41.3 L464.8 43.6 L472.5 46.1 L480.3 48.9 L488.1 51.8 L495.9 54.9 L503.6 58.3 L511.3 61.8 L518.9 65.5 L526.3 69.3 L533.7 73.4 L540.9 77.5 L548.0 81.8 L554.9 86.2 L561.5 90.7 L568.0 95.2 L574.2 99.9 L580.2 104.6 L585.9 109.4 L591.3 114.3 L596.4 119.1 L601.2 124.0 L605.7 128.9 L609.8 133.7 L613.6 138.5 L617.0 143.3 L620.0 148.1 L622.7 152.8 L625.0 157.4 L626.9 161.9 L628.3 166.3 L629.4 170.6 L630.1 174.7 L630.4 178.8 L630.3 182.6 L629.7 186.4 L628.8 189.9 L627.4 193.3Z" fill="none" stroke="#7a94c5" stroke-width="4.00" stroke-linecap="butt" stroke-linejoin="round" />
<path d="M618.0 213.2 L617.2 214.8 L616.3 216.4 L615.3 217.9 L614.1 219.3 L612.9 220.8 L611.6 222.1 L610.2 223.4 L608.7 224.7 L607.1 225.9 L605.4 227.0 L603.6 228.1 L601.8 229.1 L599.8 230.1 L597.8 231.0 L595.6 231.9 L593.4 232.7 L591.1 233.4 L588.7 234.1 L586.3 234.7 L583.7 235.2 L581.1 235.7 L578.4 236.2 L575.7 236.5 L572.8 236.8 L569.9 237.1 L567.0 237.2 L563.9 237.3 L560.8 237.4 L557.7 237.4 L554.4 237.3 L551.2 237.1 L547.8 236.9 L544.5 236.6 L541.0 236.3 L537.6 235.9 L534.0 235.4 L530.5 234.9 L526.9 234.3 L523.2 233.7 L519.6 233.0 L515.9 232.2 L512.1 231.4 L508.4 230.5 L504.6 229.5 L500.8 228.5 L496.9 227.4 L493.1 226.3 L489.2 225.1 L485.3 223.9 L481.5 222.6 L477.6 221.3 L473.7 219.9 L469.8 218.4 L465.9 216.9 L462.0 215.4 L458.1 213.8 L454.3 212.1 L450.4 210.4 L446.6 208.7 L442.7 206.9 L438.9 205.1 L435.1 203.2 L431.4 201.3 L427.7 199.4 L424.0 197.4 L420.3 195.4 L416.7 193.3 L413.1 191.2 L409.5 189.1 L406.0 186.9 L402.6 184.8 L399.1 182.6 L395.8 180.3 L392.5 178.1 L389.2 175.8 L386.0 173.5 L382.9 171.2 L379.8 168.8 L376.8 166.5 L373.8 164.1 L370.9 161.7 L368.1 159.3 L365.4 156.9 L362.7 154.5 L360.1 152.0 L357.6 149.6 L355.2 147.2 L352.8 144.7 L350.5 142.3 L348.3 139.9 L346.2 137.4 L344.2 135.0 L342.3 132.6 L340.4 130.2 L338.7 127.8 L337.0 125.4 L335.4 123.0 L334.0 120.6 L332.6 118.3 L331.3 116.0 L330.1 113.6 L329.0 111.4 L328.0 109.1 L327.1 106.8 L326.3 104.6 L325.6 102.4 L325.0 100.3 L324.5 98.1 L324.2 96.0 L323.9 94.0 L323.7 91.9 L323.6 89.9 L323.6 88.0 L323.7 86.1 L323.9 84.2 L324.3 82.3 L324.7 80.5 L325.2 78.8 L325.8 77.1 L326.5 75.4" fill="none" stroke="#7a94c5" stroke-width="3.60" stroke-linecap="butt" stroke-linejoin="round" />
<path d="M627.4 193.3 L618.0 213.2 M335.9 55.5 L326.5 75.4" fill="none" stroke="#7a94c5" stroke-width="3.60" stroke-linecap="butt" stroke-linejoin="round" />
<line x1="338.38" y1="428.10" x2="294.30" y2="521.50" stroke="#d0405c" stroke-width="4.20" stroke-dasharray="9 8.3" stroke-opacity="0.60"/>
<line x1="338.38" y1="428.10" x2="362.03" y2="378.00" stroke="#e8000b" stroke-width="4.80"/>
<line x1="417.21" y1="261.10" x2="362.03" y2="378.00" stroke="#d0405c" stroke-width="4.80" stroke-dasharray="9 8.3" stroke-opacity="0.75"/>
<line x1="417.21" y1="261.10" x2="442.74" y2="207.00" stroke="#e8000b" stroke-width="5.50"/>
<line x1="481.78" y1="124.30" x2="442.74" y2="207.00" stroke="#d0405c" stroke-width="5.40" stroke-dasharray="9 8.3" stroke-opacity="0.75"/>
<line x1="481.78" y1="124.30" x2="507.41" y2="70.00" stroke="#e8000b" stroke-width="6.20"/>
<path d="M515.95 51.90 L501.71 67.31 L513.11 72.69 Z" fill="#e8000b"/>
<rect x="506.8" y="104.0" width="248.8" height="81.3" fill="#8faadc"/>
<text x="560.8" y="136.4" textLength="141.5" lengthAdjust="spacingAndGlyphs" font-family="Liberation Sans, sans-serif" font-weight="bold" font-size="25.9" fill="#1f3864">ENSEIGNER</text>
<text x="518.0" y="172.6" textLength="226.0" lengthAdjust="spacingAndGlyphs" font-family="Liberation Sans, sans-serif" font-weight="bold" font-size="25.9" fill="#1f3864">FAIRE APPRENDRE</text>
<rect x="497.7" y="317.0" width="258.3" height="44.7" fill="#b4c7e7"/>
<text x="509.0" y="348.6" textLength="236.7" lengthAdjust="spacingAndGlyphs" font-family="Liberation Sans, sans-serif" font-weight="bold" font-size="26.4" fill="#1f3864">FORMER-OUTILLER</text>
<rect x="501.2" y="506.3" width="259.7" height="44.6" fill="#dae3f3"/>
<text x="511.8" y="538.6" textLength="239.2" lengthAdjust="spacingAndGlyphs" font-family="Liberation Sans, sans-serif" font-weight="bold" font-size="26.4" fill="#03205f">PILOTER-SOUTENIR</text>
</svg>
</body></html>
